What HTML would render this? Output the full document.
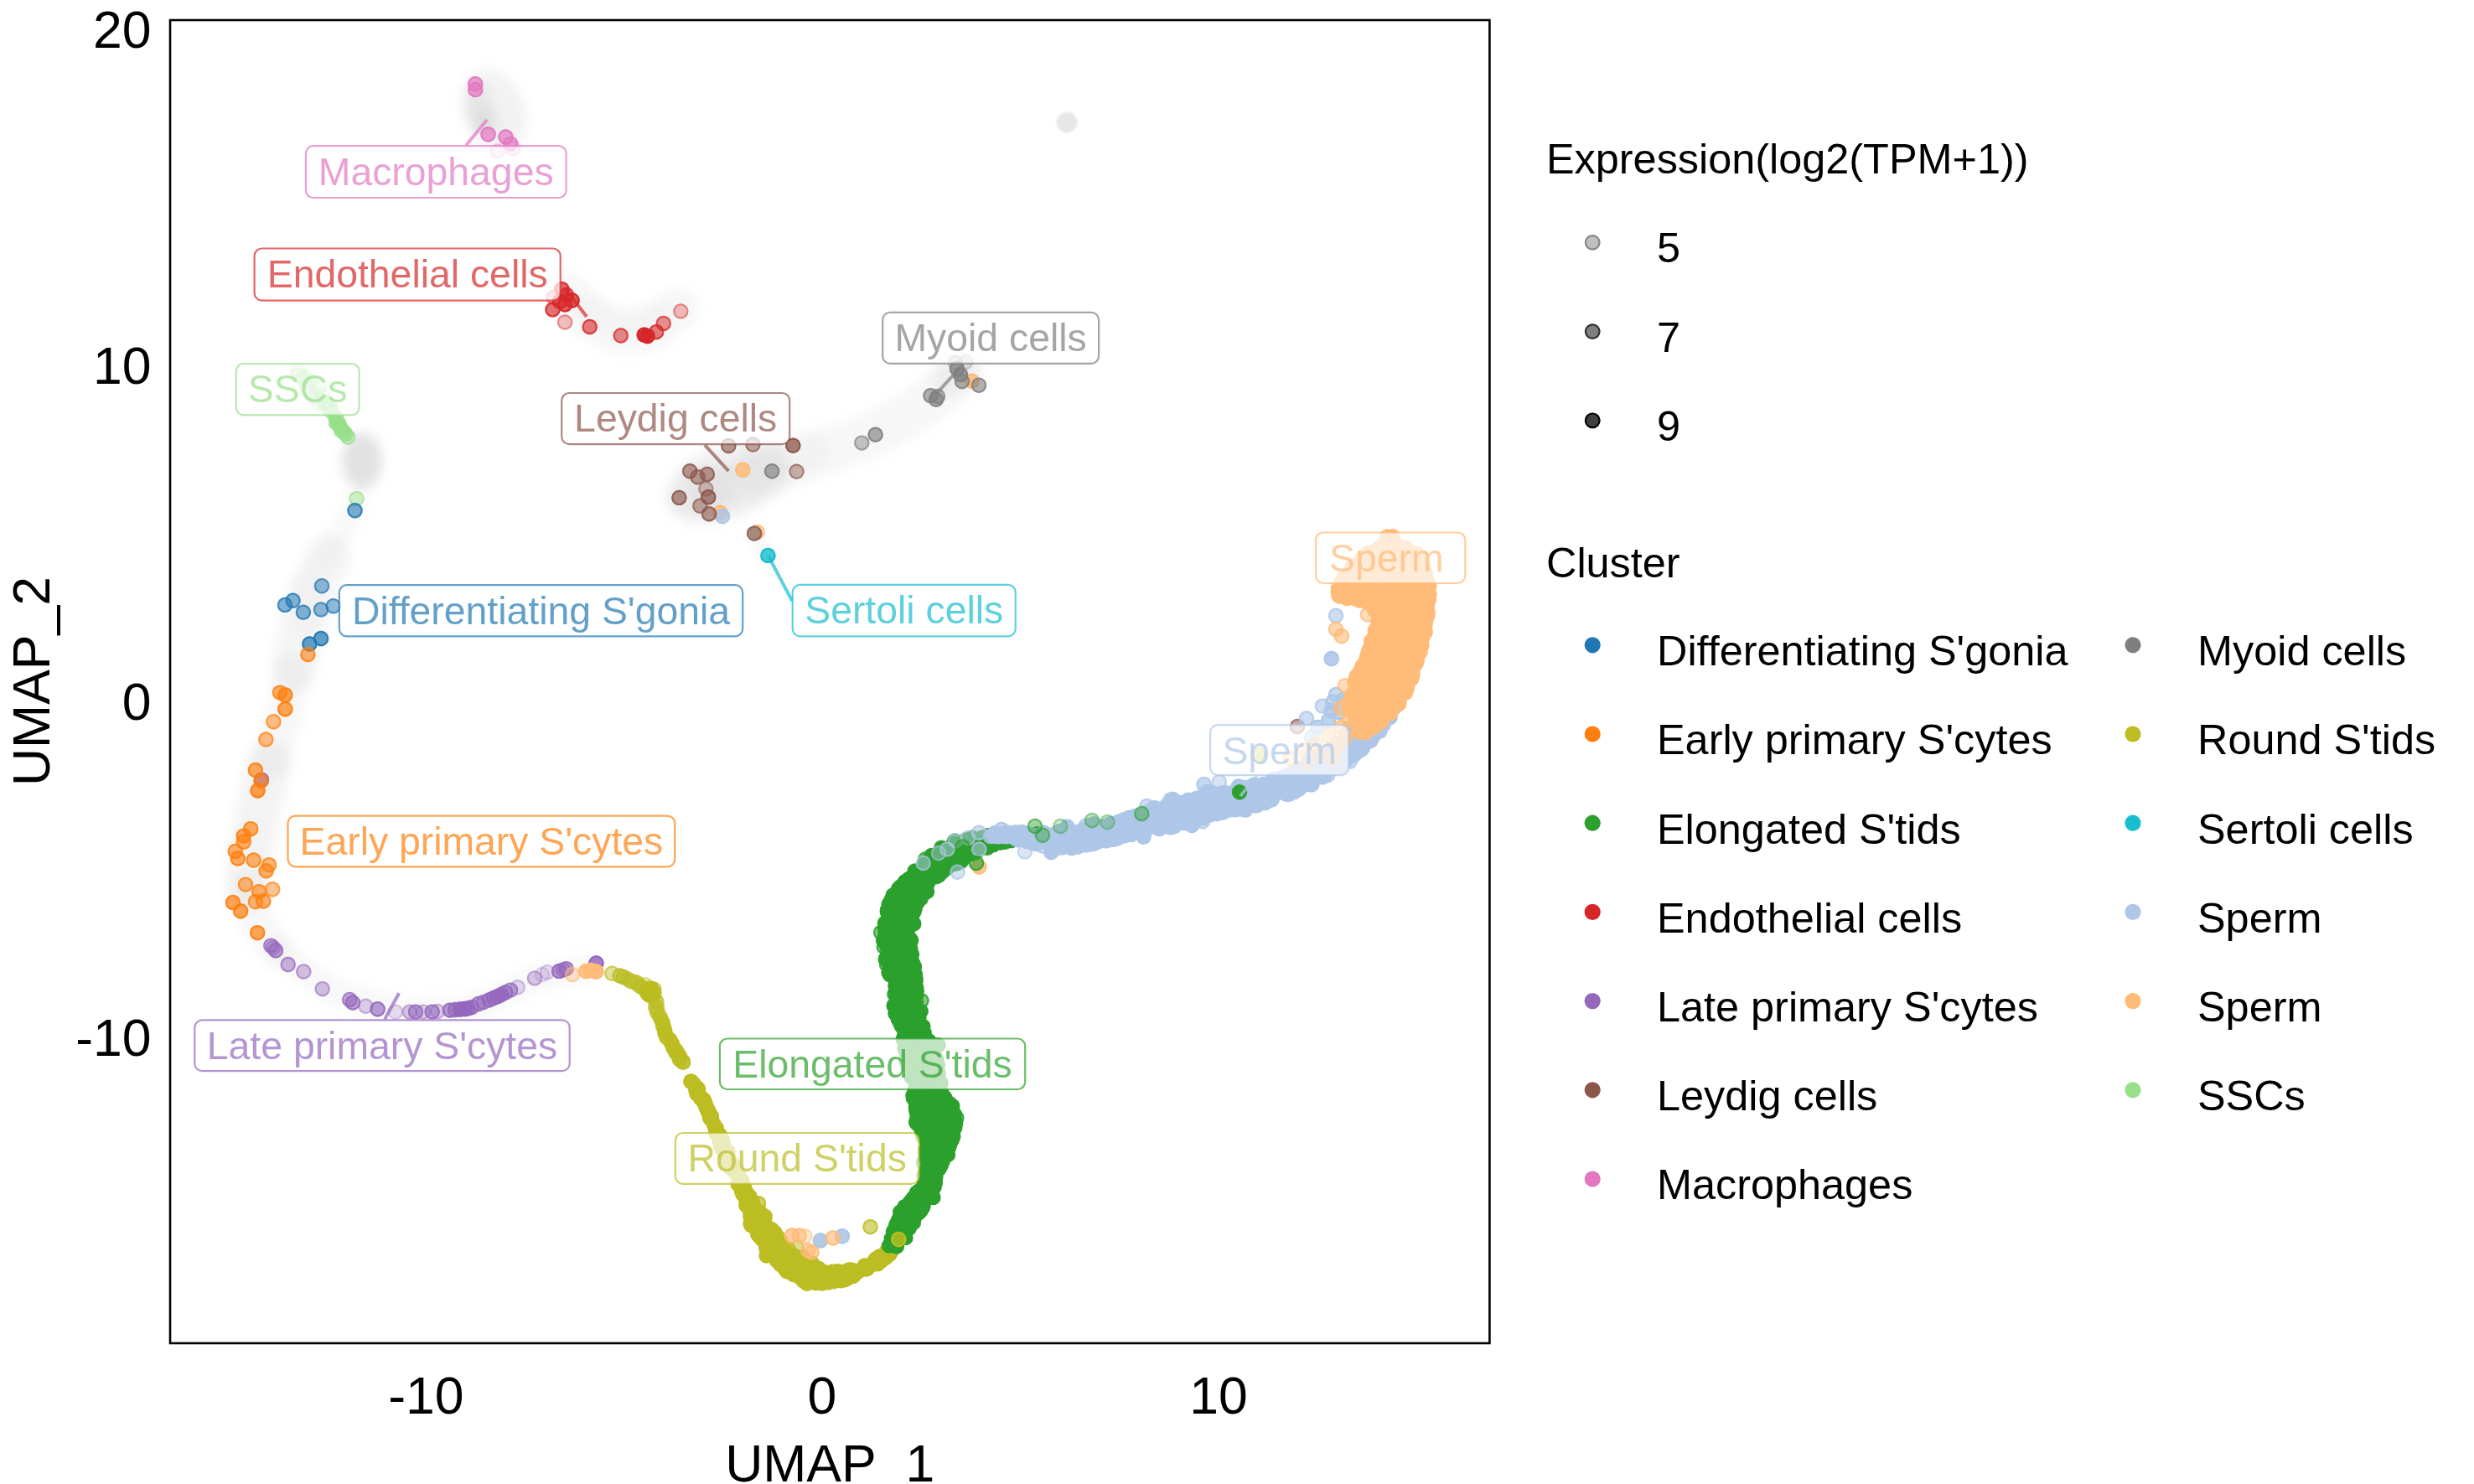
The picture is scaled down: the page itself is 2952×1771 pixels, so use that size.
<!DOCTYPE html>
<html><head><meta charset="utf-8"><title>UMAP cluster plot</title>
<style>
html,body{margin:0;padding:0;background:#fff;}
body{width:2952px;height:1771px;overflow:hidden;}
svg{display:block;font-family:"Liberation Sans",sans-serif;}
.ax{font-size:62.5px;fill:#000;}
.lg{font-size:50.4px;fill:#000;}
.lb{font-size:46.35px;}
</style></head><body>
<svg width="2952" height="1771" viewBox="0 0 2952 1771">
<defs>
<filter id="b1" filterUnits="userSpaceOnUse" x="0" y="0" width="2952" height="1771"><feGaussianBlur stdDeviation="7"/></filter>
<filter id="b2" filterUnits="userSpaceOnUse" x="0" y="0" width="2952" height="1771"><feGaussianBlur stdDeviation="5"/></filter>
<filter id="b3" filterUnits="userSpaceOnUse" x="1200" y="80" width="150" height="130"><feGaussianBlur stdDeviation="1.3"/></filter>
</defs>
<rect width="2952" height="1771" fill="#fff"/>

<g filter="url(#b1)" fill="none" stroke="#000" stroke-linecap="round" stroke-linejoin="round">
<ellipse cx="590" cy="131" rx="36" ry="50" fill="#000" stroke="none" fill-opacity="0.05" transform="rotate(-26 590 131)"/>
<ellipse cx="572" cy="128" rx="16" ry="32" fill="#000" stroke="none" fill-opacity="0.05" transform="rotate(-8 572 128)"/>
<ellipse cx="580" cy="148" rx="18" ry="20" fill="#000" stroke="none" fill-opacity="0.035" transform="rotate(0 580 148)"/>
<path d="M676,348 L708,382 L743,400 L778,394 L810,368" stroke-opacity="0.032" stroke-width="50"/>
<path d="M700,370 L745,385 L785,375" stroke-opacity="0.02" stroke-width="36"/>
<ellipse cx="432" cy="550" rx="24" ry="34" fill="#000" stroke="none" fill-opacity="0.115" transform="rotate(0 432 550)"/>
<path d="M424,600 L405,640 L385,672" stroke-opacity="0.022" stroke-width="30"/>
<path d="M392,665 L374,700 L362,742 L350,800" stroke-opacity="0.038" stroke-width="54"/>
<path d="M370,700 L365,740" stroke-opacity="0.019" stroke-width="40"/>
<path d="M350,800 L338,860 L322,910" stroke-opacity="0.032" stroke-width="42"/>
<path d="M322,910 L310,960 L300,1010 L296,1060" stroke-opacity="0.046" stroke-width="52"/>
<path d="M296,1060 L306,1100 L332,1135" stroke-opacity="0.03" stroke-width="40"/>
<path d="M332,1135 L400,1185 L480,1207 L560,1204 L640,1168 L700,1156" stroke-opacity="0.028" stroke-width="32"/>
<ellipse cx="868" cy="575" rx="78" ry="44" fill="#000" stroke="none" fill-opacity="0.054" transform="rotate(-22 868 575)"/>
<ellipse cx="840" cy="585" rx="40" ry="30" fill="#000" stroke="none" fill-opacity="0.03" transform="rotate(-22 840 585)"/>
<path d="M850,585 L930,560 L990,537 L1046,517 L1103,483 L1146,445" stroke-opacity="0.031" stroke-width="54"/>
<path d="M900,560 L965,538" stroke-opacity="0.022" stroke-width="50"/>
<ellipse cx="1140" cy="448" rx="30" ry="22" fill="#000" stroke="none" fill-opacity="0.042" transform="rotate(-40 1140 448)"/>
</g>
<g filter="url(#b2)" fill="none" stroke="#000" stroke-linecap="round" stroke-linejoin="round">
<path d="M900,640 L922,672" stroke-opacity="0.025" stroke-width="22"/>
</g>
<circle cx="1273" cy="146" r="12.5" fill="#000" fill-opacity="0.095" filter="url(#b3)"/>
<g fill="#ffbb78" fill-opacity="0.7">
<circle cx="903.5" cy="635.0" r="9.2"/>
</g>
<g fill="none" stroke="#ffbb78" stroke-opacity="0.84" stroke-width="2.2">
<circle cx="903.5" cy="635.0" r="8.1"/>
</g>
<g fill="#ffbb78" fill-opacity="0.85">
<circle cx="886.3" cy="560.8" r="9.2"/>
</g>
<g fill="none" stroke="#ffbb78" stroke-opacity="1.00" stroke-width="2.2">
<circle cx="886.3" cy="560.8" r="8.1"/>
</g>
<g fill="#ffbb78" fill-opacity="0.9">
<circle cx="859.4" cy="611.7" r="9.2"/><circle cx="1159.5" cy="454.8" r="9.2"/>
</g>
<g fill="none" stroke="#ffbb78" stroke-opacity="1.00" stroke-width="2.2">
<circle cx="859.4" cy="611.7" r="8.1"/><circle cx="1159.5" cy="454.8" r="8.1"/>
</g>
<g fill="#aec7e8" fill-opacity="0.8">
<circle cx="862.0" cy="616.0" r="9.2"/>
</g>
<g fill="none" stroke="#aec7e8" stroke-opacity="0.96" stroke-width="2.2">
<circle cx="862.0" cy="616.0" r="8.1"/>
</g>
<g fill="#98df8a" fill-opacity="0.2">
<circle cx="355.8" cy="448.2" r="9.2"/><circle cx="364.1" cy="448.4" r="9.2"/><circle cx="361.0" cy="453.4" r="9.2"/><circle cx="372.5" cy="455.5" r="9.2"/>
</g>
<g fill="none" stroke="#98df8a" stroke-opacity="0.24" stroke-width="2.2">
<circle cx="355.8" cy="448.2" r="8.1"/><circle cx="364.1" cy="448.4" r="8.1"/><circle cx="361.0" cy="453.4" r="8.1"/><circle cx="372.5" cy="455.5" r="8.1"/>
</g>
<g fill="#98df8a" fill-opacity="0.25">
<circle cx="355.4" cy="442.3" r="9.2"/><circle cx="361.2" cy="450.6" r="9.2"/><circle cx="368.8" cy="455.4" r="9.2"/><circle cx="365.8" cy="461.2" r="9.2"/><circle cx="380.2" cy="462.8" r="9.2"/><circle cx="374.3" cy="474.3" r="9.2"/><circle cx="385.3" cy="472.5" r="9.2"/><circle cx="379.4" cy="481.8" r="9.2"/><circle cx="389.7" cy="480.6" r="9.2"/>
</g>
<g fill="none" stroke="#98df8a" stroke-opacity="0.30" stroke-width="2.2">
<circle cx="355.4" cy="442.3" r="8.1"/><circle cx="361.2" cy="450.6" r="8.1"/><circle cx="368.8" cy="455.4" r="8.1"/><circle cx="365.8" cy="461.2" r="8.1"/><circle cx="380.2" cy="462.8" r="8.1"/><circle cx="374.3" cy="474.3" r="8.1"/><circle cx="385.3" cy="472.5" r="8.1"/><circle cx="379.4" cy="481.8" r="8.1"/><circle cx="389.7" cy="480.6" r="8.1"/>
</g>
<g fill="#98df8a" fill-opacity="0.3">
<circle cx="371.1" cy="468.0" r="9.2"/><circle cx="378.6" cy="472.4" r="9.2"/><circle cx="389.0" cy="480.8" r="9.2"/><circle cx="393.0" cy="487.9" r="9.2"/><circle cx="388.3" cy="485.6" r="9.2"/><circle cx="393.8" cy="484.3" r="9.2"/>
</g>
<g fill="none" stroke="#98df8a" stroke-opacity="0.36" stroke-width="2.2">
<circle cx="371.1" cy="468.0" r="8.1"/><circle cx="378.6" cy="472.4" r="8.1"/><circle cx="389.0" cy="480.8" r="8.1"/><circle cx="393.0" cy="487.9" r="8.1"/><circle cx="388.3" cy="485.6" r="8.1"/><circle cx="393.8" cy="484.3" r="8.1"/>
</g>
<g fill="#98df8a" fill-opacity="0.35">
<circle cx="395.8" cy="491.9" r="9.2"/>
</g>
<g fill="none" stroke="#98df8a" stroke-opacity="0.42" stroke-width="2.2">
<circle cx="395.8" cy="491.9" r="8.1"/>
</g>
<g fill="#98df8a" fill-opacity="0.45">
<circle cx="425.5" cy="595.1" r="9.2"/>
</g>
<g fill="none" stroke="#98df8a" stroke-opacity="0.54" stroke-width="2.2">
<circle cx="425.5" cy="595.1" r="8.1"/>
</g>
<g fill="#98df8a" fill-opacity="0.5">
<circle cx="407.1" cy="513.9" r="9.2"/><circle cx="401.0" cy="505.0" r="9.2"/><circle cx="415.2" cy="521.8" r="9.2"/>
</g>
<g fill="none" stroke="#98df8a" stroke-opacity="0.60" stroke-width="2.2">
<circle cx="407.1" cy="513.9" r="8.1"/><circle cx="401.0" cy="505.0" r="8.1"/><circle cx="415.2" cy="521.8" r="8.1"/>
</g>
<g fill="#98df8a" fill-opacity="0.55">
<circle cx="400.8" cy="498.6" r="9.2"/>
</g>
<g fill="none" stroke="#98df8a" stroke-opacity="0.66" stroke-width="2.2">
<circle cx="400.8" cy="498.6" r="8.1"/>
</g>
<g fill="#98df8a" fill-opacity="0.6">
<circle cx="401.8" cy="501.8" r="9.2"/><circle cx="404.0" cy="505.3" r="9.2"/><circle cx="412.1" cy="517.6" r="9.2"/>
</g>
<g fill="none" stroke="#98df8a" stroke-opacity="0.72" stroke-width="2.2">
<circle cx="401.8" cy="501.8" r="8.1"/><circle cx="404.0" cy="505.3" r="8.1"/><circle cx="412.1" cy="517.6" r="8.1"/>
</g>
<g fill="#98df8a" fill-opacity="0.65">
<circle cx="406.1" cy="509.5" r="9.2"/><circle cx="409.5" cy="514.4" r="9.2"/>
</g>
<g fill="none" stroke="#98df8a" stroke-opacity="0.78" stroke-width="2.2">
<circle cx="406.1" cy="509.5" r="8.1"/><circle cx="409.5" cy="514.4" r="8.1"/>
</g>
<g fill="#1f77b4" fill-opacity="0.5">
<circle cx="384.0" cy="699.3" r="9.2"/><circle cx="383.0" cy="727.4" r="9.2"/><circle cx="397.7" cy="723.3" r="9.2"/>
</g>
<g fill="none" stroke="#1f77b4" stroke-opacity="0.60" stroke-width="2.2">
<circle cx="384.0" cy="699.3" r="8.1"/><circle cx="383.0" cy="727.4" r="8.1"/><circle cx="397.7" cy="723.3" r="8.1"/>
</g>
<g fill="#1f77b4" fill-opacity="0.55">
<circle cx="340.0" cy="721.9" r="9.2"/><circle cx="349.6" cy="716.8" r="9.2"/><circle cx="361.9" cy="730.7" r="9.2"/>
</g>
<g fill="none" stroke="#1f77b4" stroke-opacity="0.66" stroke-width="2.2">
<circle cx="340.0" cy="721.9" r="8.1"/><circle cx="349.6" cy="716.8" r="8.1"/><circle cx="361.9" cy="730.7" r="8.1"/>
</g>
<g fill="#1f77b4" fill-opacity="0.6">
<circle cx="423.5" cy="609.2" r="9.2"/>
</g>
<g fill="none" stroke="#1f77b4" stroke-opacity="0.72" stroke-width="2.2">
<circle cx="423.5" cy="609.2" r="8.1"/>
</g>
<g fill="#1f77b4" fill-opacity="0.7">
<circle cx="383.0" cy="762.0" r="9.2"/><circle cx="369.4" cy="768.5" r="9.2"/>
</g>
<g fill="none" stroke="#1f77b4" stroke-opacity="0.84" stroke-width="2.2">
<circle cx="383.0" cy="762.0" r="8.1"/><circle cx="369.4" cy="768.5" r="8.1"/>
</g>
<g fill="#9467bd" fill-opacity="0.15">
<circle cx="647.0" cy="1163.0" r="9.2"/>
</g>
<g fill="none" stroke="#9467bd" stroke-opacity="0.18" stroke-width="2.2">
<circle cx="647.0" cy="1163.0" r="8.1"/>
</g>
<g fill="#9467bd" fill-opacity="0.2">
<circle cx="471.8" cy="1207.6" r="9.2"/><circle cx="653.0" cy="1160.3" r="9.2"/>
</g>
<g fill="none" stroke="#9467bd" stroke-opacity="0.24" stroke-width="2.2">
<circle cx="471.8" cy="1207.6" r="8.1"/><circle cx="653.0" cy="1160.3" r="8.1"/>
</g>
<g fill="#9467bd" fill-opacity="0.25">
<circle cx="617.6" cy="1178.2" r="9.2"/>
</g>
<g fill="none" stroke="#9467bd" stroke-opacity="0.30" stroke-width="2.2">
<circle cx="617.6" cy="1178.2" r="8.1"/>
</g>
<g fill="#9467bd" fill-opacity="0.3">
<circle cx="436.5" cy="1200.8" r="9.2"/><circle cx="505.0" cy="1207.6" r="9.2"/><circle cx="522.0" cy="1207.0" r="9.2"/>
</g>
<g fill="none" stroke="#9467bd" stroke-opacity="0.36" stroke-width="2.2">
<circle cx="436.5" cy="1200.8" r="8.1"/><circle cx="505.0" cy="1207.6" r="8.1"/><circle cx="522.0" cy="1207.0" r="8.1"/>
</g>
<g fill="#9467bd" fill-opacity="0.35">
<circle cx="488.8" cy="1207.6" r="9.2"/><circle cx="638.0" cy="1167.4" r="9.2"/>
</g>
<g fill="none" stroke="#9467bd" stroke-opacity="0.42" stroke-width="2.2">
<circle cx="488.8" cy="1207.6" r="8.1"/><circle cx="638.0" cy="1167.4" r="8.1"/>
</g>
<g fill="#9467bd" fill-opacity="0.4">
<circle cx="326.0" cy="1131.0" r="9.2"/><circle cx="362.3" cy="1159.5" r="9.2"/><circle cx="384.7" cy="1180.1" r="9.2"/>
</g>
<g fill="none" stroke="#9467bd" stroke-opacity="0.48" stroke-width="2.2">
<circle cx="326.0" cy="1131.0" r="8.1"/><circle cx="362.3" cy="1159.5" r="8.1"/><circle cx="384.7" cy="1180.1" r="8.1"/>
</g>
<g fill="#9467bd" fill-opacity="0.5">
<circle cx="343.7" cy="1151.0" r="9.2"/><circle cx="577.0" cy="1196.0" r="9.2"/><circle cx="672.0" cy="1157.5" r="9.2"/>
</g>
<g fill="none" stroke="#9467bd" stroke-opacity="0.60" stroke-width="2.2">
<circle cx="343.7" cy="1151.0" r="8.1"/><circle cx="577.0" cy="1196.0" r="8.1"/><circle cx="672.0" cy="1157.5" r="8.1"/>
</g>
<g fill="#9467bd" fill-opacity="0.55">
<circle cx="323.3" cy="1128.6" r="9.2"/><circle cx="417.2" cy="1192.9" r="9.2"/><circle cx="609.1" cy="1181.6" r="9.2"/>
</g>
<g fill="none" stroke="#9467bd" stroke-opacity="0.66" stroke-width="2.2">
<circle cx="323.3" cy="1128.6" r="8.1"/><circle cx="417.2" cy="1192.9" r="8.1"/><circle cx="609.1" cy="1181.6" r="8.1"/>
</g>
<g fill="#9467bd" fill-opacity="0.6">
<circle cx="328.9" cy="1134.3" r="9.2"/><circle cx="420.9" cy="1196.5" r="9.2"/><circle cx="495.9" cy="1207.6" r="9.2"/><circle cx="515.7" cy="1207.6" r="9.2"/><circle cx="543.0" cy="1205.0" r="9.2"/><circle cx="563.0" cy="1202.0" r="9.2"/><circle cx="570.9" cy="1198.0" r="9.2"/><circle cx="589.0" cy="1191.0" r="9.2"/><circle cx="603.0" cy="1184.5" r="9.2"/><circle cx="675.6" cy="1156.1" r="9.2"/>
</g>
<g fill="none" stroke="#9467bd" stroke-opacity="0.72" stroke-width="2.2">
<circle cx="328.9" cy="1134.3" r="8.1"/><circle cx="420.9" cy="1196.5" r="8.1"/><circle cx="495.9" cy="1207.6" r="8.1"/><circle cx="515.7" cy="1207.6" r="8.1"/><circle cx="543.0" cy="1205.0" r="8.1"/><circle cx="563.0" cy="1202.0" r="8.1"/><circle cx="570.9" cy="1198.0" r="8.1"/><circle cx="589.0" cy="1191.0" r="8.1"/><circle cx="603.0" cy="1184.5" r="8.1"/><circle cx="675.6" cy="1156.1" r="8.1"/>
</g>
<g fill="#9467bd" fill-opacity="0.65">
<circle cx="450.6" cy="1204.2" r="9.2"/><circle cx="536.9" cy="1205.6" r="9.2"/><circle cx="583.6" cy="1193.4" r="9.2"/><circle cx="667.1" cy="1158.9" r="9.2"/>
</g>
<g fill="none" stroke="#9467bd" stroke-opacity="0.78" stroke-width="2.2">
<circle cx="450.6" cy="1204.2" r="8.1"/><circle cx="536.9" cy="1205.6" r="8.1"/><circle cx="583.6" cy="1193.4" r="8.1"/><circle cx="667.1" cy="1158.9" r="8.1"/>
</g>
<g fill="#9467bd" fill-opacity="0.7">
<circle cx="312.0" cy="930.6" r="9.2"/><circle cx="593.5" cy="1189.2" r="9.2"/><circle cx="598.0" cy="1187.0" r="9.2"/>
</g>
<g fill="none" stroke="#9467bd" stroke-opacity="0.84" stroke-width="2.2">
<circle cx="312.0" cy="930.6" r="8.1"/><circle cx="593.5" cy="1189.2" r="8.1"/><circle cx="598.0" cy="1187.0" r="8.1"/>
</g>
<g fill="#9467bd" fill-opacity="0.8">
<circle cx="549.0" cy="1204.5" r="9.2"/><circle cx="554.0" cy="1204.0" r="9.2"/><circle cx="558.0" cy="1203.5" r="9.2"/>
</g>
<g fill="none" stroke="#9467bd" stroke-opacity="0.96" stroke-width="2.2">
<circle cx="549.0" cy="1204.5" r="8.1"/><circle cx="554.0" cy="1204.0" r="8.1"/><circle cx="558.0" cy="1203.5" r="8.1"/>
</g>
<g fill="#9467bd" fill-opacity="0.85">
<circle cx="711.4" cy="1149.5" r="9.2"/>
</g>
<g fill="none" stroke="#9467bd" stroke-opacity="1.00" stroke-width="2.2">
<circle cx="711.4" cy="1149.5" r="8.1"/>
</g>
<g fill="#ff7f0e" fill-opacity="0.45">
<circle cx="325.3" cy="1061.3" r="9.2"/>
</g>
<g fill="none" stroke="#ff7f0e" stroke-opacity="0.54" stroke-width="2.2">
<circle cx="325.3" cy="1061.3" r="8.1"/>
</g>
<g fill="#ff7f0e" fill-opacity="0.5">
<circle cx="326.4" cy="861.2" r="9.2"/><circle cx="317.3" cy="882.5" r="9.2"/>
</g>
<g fill="none" stroke="#ff7f0e" stroke-opacity="0.60" stroke-width="2.2">
<circle cx="326.4" cy="861.2" r="8.1"/><circle cx="317.3" cy="882.5" r="8.1"/>
</g>
<g fill="#ff7f0e" fill-opacity="0.55">
<circle cx="311.5" cy="932.0" r="9.2"/><circle cx="321.0" cy="1032.1" r="9.2"/><circle cx="293.0" cy="1055.6" r="9.2"/><circle cx="304.9" cy="1076.0" r="9.2"/>
</g>
<g fill="none" stroke="#ff7f0e" stroke-opacity="0.66" stroke-width="2.2">
<circle cx="311.5" cy="932.0" r="8.1"/><circle cx="321.0" cy="1032.1" r="8.1"/><circle cx="293.0" cy="1055.6" r="8.1"/><circle cx="304.9" cy="1076.0" r="8.1"/>
</g>
<g fill="#ff7f0e" fill-opacity="0.6">
<circle cx="367.4" cy="781.1" r="9.2"/><circle cx="334.0" cy="826.6" r="9.2"/><circle cx="290.7" cy="1004.7" r="9.2"/><circle cx="280.8" cy="1016.0" r="9.2"/><circle cx="302.6" cy="1026.5" r="9.2"/><circle cx="317.6" cy="1039.2" r="9.2"/><circle cx="309.1" cy="1064.1" r="9.2"/><circle cx="314.2" cy="1075.4" r="9.2"/>
</g>
<g fill="none" stroke="#ff7f0e" stroke-opacity="0.72" stroke-width="2.2">
<circle cx="367.4" cy="781.1" r="8.1"/><circle cx="334.0" cy="826.6" r="8.1"/><circle cx="290.7" cy="1004.7" r="8.1"/><circle cx="280.8" cy="1016.0" r="8.1"/><circle cx="302.6" cy="1026.5" r="8.1"/><circle cx="317.6" cy="1039.2" r="8.1"/><circle cx="309.1" cy="1064.1" r="8.1"/><circle cx="314.2" cy="1075.4" r="8.1"/>
</g>
<g fill="#ff7f0e" fill-opacity="0.65">
<circle cx="304.9" cy="918.9" r="9.2"/><circle cx="299.2" cy="989.1" r="9.2"/><circle cx="290.7" cy="997.6" r="9.2"/><circle cx="283.7" cy="1024.5" r="9.2"/>
</g>
<g fill="none" stroke="#ff7f0e" stroke-opacity="0.78" stroke-width="2.2">
<circle cx="304.9" cy="918.9" r="8.1"/><circle cx="299.2" cy="989.1" r="8.1"/><circle cx="290.7" cy="997.6" r="8.1"/><circle cx="283.7" cy="1024.5" r="8.1"/>
</g>
<g fill="#ff7f0e" fill-opacity="0.7">
<circle cx="340.3" cy="829.5" r="9.2"/><circle cx="340.3" cy="846.2" r="9.2"/><circle cx="278.0" cy="1076.9" r="9.2"/><circle cx="287.1" cy="1087.3" r="9.2"/><circle cx="307.2" cy="1113.1" r="9.2"/>
</g>
<g fill="none" stroke="#ff7f0e" stroke-opacity="0.84" stroke-width="2.2">
<circle cx="340.3" cy="829.5" r="8.1"/><circle cx="340.3" cy="846.2" r="8.1"/><circle cx="278.0" cy="1076.9" r="8.1"/><circle cx="287.1" cy="1087.3" r="8.1"/><circle cx="307.2" cy="1113.1" r="8.1"/>
</g>
<g fill="#ff7f0e" fill-opacity="0.75">
<circle cx="307.5" cy="943.5" r="9.2"/>
</g>
<g fill="none" stroke="#ff7f0e" stroke-opacity="0.90" stroke-width="2.2">
<circle cx="307.5" cy="943.5" r="8.1"/>
</g>
<g fill="#d62728" fill-opacity="0.3">
<circle cx="660.8" cy="354.9" r="9.2"/><circle cx="674.1" cy="384.5" r="9.2"/><circle cx="812.3" cy="371.4" r="9.2"/>
</g>
<g fill="none" stroke="#d62728" stroke-opacity="0.36" stroke-width="2.2">
<circle cx="660.8" cy="354.9" r="8.1"/><circle cx="674.1" cy="384.5" r="8.1"/><circle cx="812.3" cy="371.4" r="8.1"/>
</g>
<g fill="#d62728" fill-opacity="0.5">
<circle cx="791.7" cy="385.9" r="9.2"/>
</g>
<g fill="none" stroke="#d62728" stroke-opacity="0.60" stroke-width="2.2">
<circle cx="791.7" cy="385.9" r="8.1"/>
</g>
<g fill="#d62728" fill-opacity="0.55">
<circle cx="740.8" cy="400.5" r="9.2"/>
</g>
<g fill="none" stroke="#d62728" stroke-opacity="0.66" stroke-width="2.2">
<circle cx="740.8" cy="400.5" r="8.1"/>
</g>
<g fill="#d62728" fill-opacity="0.6">
<circle cx="676.0" cy="352.0" r="9.2"/><circle cx="703.7" cy="390.0" r="9.2"/><circle cx="783.2" cy="396.1" r="9.2"/>
</g>
<g fill="none" stroke="#d62728" stroke-opacity="0.72" stroke-width="2.2">
<circle cx="676.0" cy="352.0" r="8.1"/><circle cx="703.7" cy="390.0" r="8.1"/><circle cx="783.2" cy="396.1" r="8.1"/>
</g>
<g fill="#d62728" fill-opacity="0.65">
<circle cx="659.5" cy="369.4" r="9.2"/>
</g>
<g fill="none" stroke="#d62728" stroke-opacity="0.78" stroke-width="2.2">
<circle cx="659.5" cy="369.4" r="8.1"/>
</g>
<g fill="#d62728" fill-opacity="0.7">
<circle cx="670.5" cy="345.2" r="9.2"/><circle cx="668.0" cy="359.7" r="9.2"/>
</g>
<g fill="none" stroke="#d62728" stroke-opacity="0.84" stroke-width="2.2">
<circle cx="670.5" cy="345.2" r="8.1"/><circle cx="668.0" cy="359.7" r="8.1"/>
</g>
<g fill="#d62728" fill-opacity="0.75">
<circle cx="674.1" cy="363.4" r="9.2"/><circle cx="682.6" cy="358.5" r="9.2"/>
</g>
<g fill="none" stroke="#d62728" stroke-opacity="0.90" stroke-width="2.2">
<circle cx="674.1" cy="363.4" r="8.1"/><circle cx="682.6" cy="358.5" r="8.1"/>
</g>
<g fill="#d62728" fill-opacity="0.9">
<circle cx="768.7" cy="399.7" r="9.2"/><circle cx="772.5" cy="401.0" r="9.2"/>
</g>
<g fill="none" stroke="#d62728" stroke-opacity="1.00" stroke-width="2.2">
<circle cx="768.7" cy="399.7" r="8.1"/><circle cx="772.5" cy="401.0" r="8.1"/>
</g>
<g fill="#e377c2" fill-opacity="0.25">
<circle cx="593.8" cy="180.5" r="9.2"/><circle cx="612.0" cy="177.0" r="9.2"/>
</g>
<g fill="none" stroke="#e377c2" stroke-opacity="0.30" stroke-width="2.2">
<circle cx="593.8" cy="180.5" r="8.1"/><circle cx="612.0" cy="177.0" r="8.1"/>
</g>
<g fill="#e377c2" fill-opacity="0.65">
<circle cx="609.2" cy="171.6" r="9.2"/>
</g>
<g fill="none" stroke="#e377c2" stroke-opacity="0.78" stroke-width="2.2">
<circle cx="609.2" cy="171.6" r="8.1"/>
</g>
<g fill="#e377c2" fill-opacity="0.7">
<circle cx="567.2" cy="100.2" r="9.2"/><circle cx="567.2" cy="106.9" r="9.2"/><circle cx="582.5" cy="160.2" r="9.2"/><circle cx="603.5" cy="163.5" r="9.2"/>
</g>
<g fill="none" stroke="#e377c2" stroke-opacity="0.84" stroke-width="2.2">
<circle cx="567.2" cy="100.2" r="8.1"/><circle cx="567.2" cy="106.9" r="8.1"/><circle cx="582.5" cy="160.2" r="8.1"/><circle cx="603.5" cy="163.5" r="8.1"/>
</g>
<g fill="#7f7f7f" fill-opacity="0.2">
<circle cx="1152.0" cy="432.0" r="9.2"/>
</g>
<g fill="none" stroke="#7f7f7f" stroke-opacity="0.24" stroke-width="2.2">
<circle cx="1152.0" cy="432.0" r="8.1"/>
</g>
<g fill="#7f7f7f" fill-opacity="0.25">
<circle cx="1140.0" cy="433.0" r="9.2"/>
</g>
<g fill="none" stroke="#7f7f7f" stroke-opacity="0.30" stroke-width="2.2">
<circle cx="1140.0" cy="433.0" r="8.1"/>
</g>
<g fill="#7f7f7f" fill-opacity="0.45">
<circle cx="1028.3" cy="528.6" r="9.2"/>
</g>
<g fill="none" stroke="#7f7f7f" stroke-opacity="0.54" stroke-width="2.2">
<circle cx="1028.3" cy="528.6" r="8.1"/>
</g>
<g fill="#7f7f7f" fill-opacity="0.5">
<circle cx="1119.0" cy="473.0" r="9.2"/>
</g>
<g fill="none" stroke="#7f7f7f" stroke-opacity="0.60" stroke-width="2.2">
<circle cx="1119.0" cy="473.0" r="8.1"/>
</g>
<g fill="#7f7f7f" fill-opacity="0.55">
<circle cx="900.1" cy="636.6" r="9.2"/>
</g>
<g fill="none" stroke="#7f7f7f" stroke-opacity="0.66" stroke-width="2.2">
<circle cx="900.1" cy="636.6" r="8.1"/>
</g>
<g fill="#7f7f7f" fill-opacity="0.6">
<circle cx="1110.5" cy="472.2" r="9.2"/><circle cx="1148.0" cy="455.0" r="9.2"/><circle cx="1168.0" cy="459.8" r="9.2"/>
</g>
<g fill="none" stroke="#7f7f7f" stroke-opacity="0.72" stroke-width="2.2">
<circle cx="1110.5" cy="472.2" r="8.1"/><circle cx="1148.0" cy="455.0" r="8.1"/><circle cx="1168.0" cy="459.8" r="8.1"/>
</g>
<g fill="#7f7f7f" fill-opacity="0.65">
<circle cx="921.1" cy="562.2" r="9.2"/><circle cx="1044.6" cy="518.8" r="9.2"/><circle cx="1117.0" cy="476.8" r="9.2"/>
</g>
<g fill="none" stroke="#7f7f7f" stroke-opacity="0.78" stroke-width="2.2">
<circle cx="921.1" cy="562.2" r="8.1"/><circle cx="1044.6" cy="518.8" r="8.1"/><circle cx="1117.0" cy="476.8" r="8.1"/>
</g>
<g fill="#7f7f7f" fill-opacity="0.7">
<circle cx="1142.0" cy="440.0" r="9.2"/><circle cx="1146.0" cy="447.0" r="9.2"/>
</g>
<g fill="none" stroke="#7f7f7f" stroke-opacity="0.84" stroke-width="2.2">
<circle cx="1142.0" cy="440.0" r="8.1"/><circle cx="1146.0" cy="447.0" r="8.1"/>
</g>
<g fill="#8c564b" fill-opacity="0.35">
<circle cx="842.4" cy="583.4" r="9.2"/><circle cx="900.1" cy="636.6" r="9.2"/>
</g>
<g fill="none" stroke="#8c564b" stroke-opacity="0.42" stroke-width="2.2">
<circle cx="842.4" cy="583.4" r="8.1"/><circle cx="900.1" cy="636.6" r="8.1"/>
</g>
<g fill="#8c564b" fill-opacity="0.45">
<circle cx="950.5" cy="562.8" r="9.2"/>
</g>
<g fill="none" stroke="#8c564b" stroke-opacity="0.54" stroke-width="2.2">
<circle cx="950.5" cy="562.8" r="8.1"/>
</g>
<g fill="#8c564b" fill-opacity="0.5">
<circle cx="898.4" cy="530.5" r="9.2"/><circle cx="835.3" cy="603.8" r="9.2"/><circle cx="1548.0" cy="867.0" r="9.2"/>
</g>
<g fill="none" stroke="#8c564b" stroke-opacity="0.60" stroke-width="2.2">
<circle cx="898.4" cy="530.5" r="8.1"/><circle cx="835.3" cy="603.8" r="8.1"/><circle cx="1548.0" cy="867.0" r="8.1"/>
</g>
<g fill="#8c564b" fill-opacity="0.55">
<circle cx="832.5" cy="569.3" r="9.2"/>
</g>
<g fill="none" stroke="#8c564b" stroke-opacity="0.66" stroke-width="2.2">
<circle cx="832.5" cy="569.3" r="8.1"/>
</g>
<g fill="#8c564b" fill-opacity="0.6">
<circle cx="869.3" cy="532.0" r="9.2"/><circle cx="823.2" cy="562.2" r="9.2"/><circle cx="843.8" cy="565.9" r="9.2"/><circle cx="846.1" cy="613.2" r="9.2"/>
</g>
<g fill="none" stroke="#8c564b" stroke-opacity="0.72" stroke-width="2.2">
<circle cx="869.3" cy="532.0" r="8.1"/><circle cx="823.2" cy="562.2" r="8.1"/><circle cx="843.8" cy="565.9" r="8.1"/><circle cx="846.1" cy="613.2" r="8.1"/>
</g>
<g fill="#8c564b" fill-opacity="0.65">
<circle cx="810.4" cy="593.9" r="9.2"/>
</g>
<g fill="none" stroke="#8c564b" stroke-opacity="0.78" stroke-width="2.2">
<circle cx="810.4" cy="593.9" r="8.1"/>
</g>
<g fill="#8c564b" fill-opacity="0.7">
<circle cx="845.2" cy="593.3" r="9.2"/>
</g>
<g fill="none" stroke="#8c564b" stroke-opacity="0.84" stroke-width="2.2">
<circle cx="845.2" cy="593.3" r="8.1"/>
</g>
<g fill="#8c564b" fill-opacity="0.75">
<circle cx="946.3" cy="531.7" r="9.2"/>
</g>
<g fill="none" stroke="#8c564b" stroke-opacity="0.90" stroke-width="2.2">
<circle cx="946.3" cy="531.7" r="8.1"/>
</g>
<g fill="#17becf" fill-opacity="0.8">
<circle cx="916.4" cy="662.9" r="9.2"/>
</g>
<g fill="none" stroke="#17becf" stroke-opacity="0.96" stroke-width="2.2">
<circle cx="916.4" cy="662.9" r="8.1"/>
</g>
<g fill="#bcbd22" fill-opacity="0.3">
<circle cx="978.9" cy="1480.4" r="9.2"/><circle cx="751.4" cy="1170.5" r="9.2"/><circle cx="770.1" cy="1175.3" r="9.2"/><circle cx="778.2" cy="1183.3" r="9.2"/><circle cx="778.8" cy="1190.5" r="9.2"/><circle cx="781.8" cy="1193.8" r="9.2"/><circle cx="784.5" cy="1203.4" r="9.2"/>
</g>
<g fill="none" stroke="#bcbd22" stroke-opacity="0.36" stroke-width="2.2">
<circle cx="978.9" cy="1480.4" r="8.1"/><circle cx="751.4" cy="1170.5" r="8.1"/><circle cx="770.1" cy="1175.3" r="8.1"/><circle cx="778.2" cy="1183.3" r="8.1"/><circle cx="778.8" cy="1190.5" r="8.1"/><circle cx="781.8" cy="1193.8" r="8.1"/><circle cx="784.5" cy="1203.4" r="8.1"/>
</g>
<g fill="#bcbd22" fill-opacity="0.35">
<circle cx="749.1" cy="1168.1" r="9.2"/><circle cx="757.9" cy="1172.3" r="9.2"/><circle cx="762.1" cy="1175.9" r="9.2"/><circle cx="770.9" cy="1182.9" r="9.2"/><circle cx="778.5" cy="1188.1" r="9.2"/><circle cx="783.1" cy="1200.2" r="9.2"/><circle cx="785.6" cy="1210.1" r="9.2"/><circle cx="787.3" cy="1213.6" r="9.2"/>
</g>
<g fill="none" stroke="#bcbd22" stroke-opacity="0.42" stroke-width="2.2">
<circle cx="749.1" cy="1168.1" r="8.1"/><circle cx="757.9" cy="1172.3" r="8.1"/><circle cx="762.1" cy="1175.9" r="8.1"/><circle cx="770.9" cy="1182.9" r="8.1"/><circle cx="778.5" cy="1188.1" r="8.1"/><circle cx="783.1" cy="1200.2" r="8.1"/><circle cx="785.6" cy="1210.1" r="8.1"/><circle cx="787.3" cy="1213.6" r="8.1"/>
</g>
<g fill="#bcbd22" fill-opacity="0.4">
<circle cx="753.8" cy="1171.2" r="9.2"/><circle cx="759.8" cy="1172.5" r="9.2"/><circle cx="765.1" cy="1177.8" r="9.2"/><circle cx="766.8" cy="1178.4" r="9.2"/><circle cx="772.6" cy="1185.2" r="9.2"/><circle cx="783.7" cy="1195.8" r="9.2"/><circle cx="782.1" cy="1202.4" r="9.2"/><circle cx="783.8" cy="1207.9" r="9.2"/><circle cx="788.3" cy="1214.7" r="9.2"/><circle cx="789.6" cy="1218.4" r="9.2"/>
</g>
<g fill="none" stroke="#bcbd22" stroke-opacity="0.48" stroke-width="2.2">
<circle cx="753.8" cy="1171.2" r="8.1"/><circle cx="759.8" cy="1172.5" r="8.1"/><circle cx="765.1" cy="1177.8" r="8.1"/><circle cx="766.8" cy="1178.4" r="8.1"/><circle cx="772.6" cy="1185.2" r="8.1"/><circle cx="783.7" cy="1195.8" r="8.1"/><circle cx="782.1" cy="1202.4" r="8.1"/><circle cx="783.8" cy="1207.9" r="8.1"/><circle cx="788.3" cy="1214.7" r="8.1"/><circle cx="789.6" cy="1218.4" r="8.1"/>
</g>
<g fill="#bcbd22" fill-opacity="0.45">
<circle cx="730.3" cy="1161.8" r="9.2"/><circle cx="790.7" cy="1220.8" r="9.2"/><circle cx="792.9" cy="1228.9" r="9.2"/><circle cx="793.3" cy="1229.8" r="9.2"/><circle cx="794.6" cy="1235.8" r="9.2"/><circle cx="799.5" cy="1240.8" r="9.2"/>
</g>
<g fill="none" stroke="#bcbd22" stroke-opacity="0.54" stroke-width="2.2">
<circle cx="730.3" cy="1161.8" r="8.1"/><circle cx="790.7" cy="1220.8" r="8.1"/><circle cx="792.9" cy="1228.9" r="8.1"/><circle cx="793.3" cy="1229.8" r="8.1"/><circle cx="794.6" cy="1235.8" r="8.1"/><circle cx="799.5" cy="1240.8" r="8.1"/>
</g>
<g fill="#bcbd22" fill-opacity="0.5">
<circle cx="950.8" cy="1489.3" r="9.2"/><circle cx="791.5" cy="1223.7" r="9.2"/><circle cx="791.2" cy="1224.9" r="9.2"/><circle cx="801.4" cy="1245.3" r="9.2"/><circle cx="773.4" cy="1185.5" r="9.2"/><circle cx="773.6" cy="1186.7" r="9.2"/><circle cx="777.0" cy="1181.4" r="9.2"/><circle cx="772.8" cy="1185.7" r="9.2"/><circle cx="771.7" cy="1180.8" r="9.2"/><circle cx="776.6" cy="1187.0" r="9.2"/><circle cx="777.1" cy="1181.3" r="9.2"/><circle cx="780.2" cy="1180.5" r="9.2"/><circle cx="771.2" cy="1181.2" r="9.2"/><circle cx="775.5" cy="1179.1" r="9.2"/><circle cx="772.8" cy="1182.2" r="9.2"/><circle cx="776.7" cy="1179.8" r="9.2"/><circle cx="774.6" cy="1187.4" r="9.2"/><circle cx="780.8" cy="1185.1" r="9.2"/><circle cx="1501.0" cy="900.5" r="9.2"/>
</g>
<g fill="none" stroke="#bcbd22" stroke-opacity="0.60" stroke-width="2.2">
<circle cx="950.8" cy="1489.3" r="8.1"/><circle cx="791.5" cy="1223.7" r="8.1"/><circle cx="791.2" cy="1224.9" r="8.1"/><circle cx="801.4" cy="1245.3" r="8.1"/><circle cx="773.4" cy="1185.5" r="8.1"/><circle cx="773.6" cy="1186.7" r="8.1"/><circle cx="777.0" cy="1181.4" r="8.1"/><circle cx="772.8" cy="1185.7" r="8.1"/><circle cx="771.7" cy="1180.8" r="8.1"/><circle cx="776.6" cy="1187.0" r="8.1"/><circle cx="777.1" cy="1181.3" r="8.1"/><circle cx="780.2" cy="1180.5" r="8.1"/><circle cx="771.2" cy="1181.2" r="8.1"/><circle cx="775.5" cy="1179.1" r="8.1"/><circle cx="772.8" cy="1182.2" r="8.1"/><circle cx="776.7" cy="1179.8" r="8.1"/><circle cx="774.6" cy="1187.4" r="8.1"/><circle cx="780.8" cy="1185.1" r="8.1"/><circle cx="1501.0" cy="900.5" r="8.1"/>
</g>
<g fill="#bcbd22" fill-opacity="0.55">
<circle cx="793.2" cy="1232.4" r="9.2"/><circle cx="795.5" cy="1238.2" r="9.2"/><circle cx="803.2" cy="1250.5" r="9.2"/><circle cx="808.5" cy="1256.7" r="9.2"/><circle cx="810.8" cy="1260.3" r="9.2"/>
</g>
<g fill="none" stroke="#bcbd22" stroke-opacity="0.66" stroke-width="2.2">
<circle cx="793.2" cy="1232.4" r="8.1"/><circle cx="795.5" cy="1238.2" r="8.1"/><circle cx="803.2" cy="1250.5" r="8.1"/><circle cx="808.5" cy="1256.7" r="8.1"/><circle cx="810.8" cy="1260.3" r="8.1"/>
</g>
<g fill="#bcbd22" fill-opacity="0.6">
<circle cx="1038.5" cy="1464.1" r="9.2"/><circle cx="739.7" cy="1164.5" r="9.2"/><circle cx="799.9" cy="1242.4" r="9.2"/><circle cx="802.6" cy="1247.0" r="9.2"/><circle cx="806.3" cy="1256.0" r="9.2"/><circle cx="814.6" cy="1266.5" r="9.2"/>
</g>
<g fill="none" stroke="#bcbd22" stroke-opacity="0.72" stroke-width="2.2">
<circle cx="1038.5" cy="1464.1" r="8.1"/><circle cx="739.7" cy="1164.5" r="8.1"/><circle cx="799.9" cy="1242.4" r="8.1"/><circle cx="802.6" cy="1247.0" r="8.1"/><circle cx="806.3" cy="1256.0" r="8.1"/><circle cx="814.6" cy="1266.5" r="8.1"/>
</g>
<g fill="#bcbd22" fill-opacity="0.65">
<circle cx="744.0" cy="1166.0" r="9.2"/><circle cx="806.3" cy="1253.3" r="9.2"/><circle cx="810.3" cy="1261.7" r="9.2"/><circle cx="811.0" cy="1264.5" r="9.2"/><circle cx="815.1" cy="1267.7" r="9.2"/>
</g>
<g fill="none" stroke="#bcbd22" stroke-opacity="0.78" stroke-width="2.2">
<circle cx="744.0" cy="1166.0" r="8.1"/><circle cx="806.3" cy="1253.3" r="8.1"/><circle cx="810.3" cy="1261.7" r="8.1"/><circle cx="811.0" cy="1264.5" r="8.1"/><circle cx="815.1" cy="1267.7" r="8.1"/>
</g>
<g fill="#bcbd22" fill-opacity="0.7">
<circle cx="839.5" cy="1312.3" r="9.2"/><circle cx="840.0" cy="1314.8" r="9.2"/><circle cx="830.5" cy="1301.6" r="9.2"/><circle cx="833.4" cy="1305.1" r="9.2"/><circle cx="842.5" cy="1321.3" r="9.2"/><circle cx="845.4" cy="1326.1" r="9.2"/><circle cx="858.6" cy="1354.3" r="9.2"/><circle cx="859.7" cy="1360.8" r="9.2"/><circle cx="859.9" cy="1368.5" r="9.2"/><circle cx="862.9" cy="1372.2" r="9.2"/><circle cx="858.6" cy="1361.4" r="9.2"/><circle cx="880.7" cy="1401.6" r="9.2"/><circle cx="874.9" cy="1389.6" r="9.2"/><circle cx="882.3" cy="1411.0" r="9.2"/><circle cx="897.9" cy="1435.1" r="9.2"/><circle cx="912.8" cy="1451.6" r="9.2"/><circle cx="905.0" cy="1436.1" r="9.2"/><circle cx="896.6" cy="1462.6" r="9.2"/><circle cx="895.8" cy="1451.1" r="9.2"/><circle cx="925.6" cy="1474.6" r="9.2"/><circle cx="911.5" cy="1480.6" r="9.2"/><circle cx="945.5" cy="1498.5" r="9.2"/><circle cx="951.4" cy="1504.0" r="9.2"/><circle cx="940.5" cy="1490.5" r="9.2"/><circle cx="938.3" cy="1515.5" r="9.2"/><circle cx="930.3" cy="1506.4" r="9.2"/><circle cx="958.6" cy="1507.7" r="9.2"/><circle cx="966.8" cy="1513.1" r="9.2"/><circle cx="962.9" cy="1531.7" r="9.2"/><circle cx="958.4" cy="1525.3" r="9.2"/><circle cx="998.6" cy="1517.3" r="9.2"/><circle cx="1008.6" cy="1527.0" r="9.2"/><circle cx="1011.8" cy="1525.0" r="9.2"/><circle cx="1013.6" cy="1515.5" r="9.2"/><circle cx="1015.5" cy="1515.6" r="9.2"/><circle cx="1014.7" cy="1522.6" r="9.2"/><circle cx="1018.3" cy="1521.1" r="9.2"/><circle cx="1054.5" cy="1499.3" r="9.2"/><circle cx="1064.3" cy="1485.5" r="9.2"/><circle cx="1063.2" cy="1491.0" r="9.2"/>
</g>
<g fill="none" stroke="#bcbd22" stroke-opacity="0.84" stroke-width="2.2">
<circle cx="839.5" cy="1312.3" r="8.1"/><circle cx="840.0" cy="1314.8" r="8.1"/><circle cx="830.5" cy="1301.6" r="8.1"/><circle cx="833.4" cy="1305.1" r="8.1"/><circle cx="842.5" cy="1321.3" r="8.1"/><circle cx="845.4" cy="1326.1" r="8.1"/><circle cx="858.6" cy="1354.3" r="8.1"/><circle cx="859.7" cy="1360.8" r="8.1"/><circle cx="859.9" cy="1368.5" r="8.1"/><circle cx="862.9" cy="1372.2" r="8.1"/><circle cx="858.6" cy="1361.4" r="8.1"/><circle cx="880.7" cy="1401.6" r="8.1"/><circle cx="874.9" cy="1389.6" r="8.1"/><circle cx="882.3" cy="1411.0" r="8.1"/><circle cx="897.9" cy="1435.1" r="8.1"/><circle cx="912.8" cy="1451.6" r="8.1"/><circle cx="905.0" cy="1436.1" r="8.1"/><circle cx="896.6" cy="1462.6" r="8.1"/><circle cx="895.8" cy="1451.1" r="8.1"/><circle cx="925.6" cy="1474.6" r="8.1"/><circle cx="911.5" cy="1480.6" r="8.1"/><circle cx="945.5" cy="1498.5" r="8.1"/><circle cx="951.4" cy="1504.0" r="8.1"/><circle cx="940.5" cy="1490.5" r="8.1"/><circle cx="938.3" cy="1515.5" r="8.1"/><circle cx="930.3" cy="1506.4" r="8.1"/><circle cx="958.6" cy="1507.7" r="8.1"/><circle cx="966.8" cy="1513.1" r="8.1"/><circle cx="962.9" cy="1531.7" r="8.1"/><circle cx="958.4" cy="1525.3" r="8.1"/><circle cx="998.6" cy="1517.3" r="8.1"/><circle cx="1008.6" cy="1527.0" r="8.1"/><circle cx="1011.8" cy="1525.0" r="8.1"/><circle cx="1013.6" cy="1515.5" r="8.1"/><circle cx="1015.5" cy="1515.6" r="8.1"/><circle cx="1014.7" cy="1522.6" r="8.1"/><circle cx="1018.3" cy="1521.1" r="8.1"/><circle cx="1054.5" cy="1499.3" r="8.1"/><circle cx="1064.3" cy="1485.5" r="8.1"/><circle cx="1063.2" cy="1491.0" r="8.1"/>
</g>
<g fill="#bcbd22">
<circle cx="836.5" cy="1310.1" r="9.2"/><circle cx="827.7" cy="1293.5" r="9.2"/><circle cx="824.3" cy="1290.7" r="9.2"/><circle cx="836.0" cy="1310.7" r="9.2"/><circle cx="824.8" cy="1290.5" r="9.2"/><circle cx="832.6" cy="1304.1" r="9.2"/><circle cx="831.8" cy="1298.1" r="9.2"/><circle cx="837.5" cy="1311.3" r="9.2"/><circle cx="841.2" cy="1315.6" r="9.2"/><circle cx="833.1" cy="1299.8" r="9.2"/><circle cx="835.4" cy="1308.7" r="9.2"/><circle cx="831.9" cy="1303.7" r="9.2"/><circle cx="830.5" cy="1298.6" r="9.2"/><circle cx="831.5" cy="1305.4" r="9.2"/><circle cx="840.3" cy="1315.9" r="9.2"/><circle cx="832.8" cy="1304.6" r="9.2"/><circle cx="843.7" cy="1322.7" r="9.2"/><circle cx="847.3" cy="1334.7" r="9.2"/><circle cx="849.0" cy="1335.6" r="9.2"/><circle cx="846.9" cy="1329.9" r="9.2"/><circle cx="843.0" cy="1321.6" r="9.2"/><circle cx="849.0" cy="1331.9" r="9.2"/><circle cx="844.3" cy="1325.2" r="9.2"/><circle cx="846.6" cy="1332.1" r="9.2"/><circle cx="846.8" cy="1331.2" r="9.2"/><circle cx="844.1" cy="1323.4" r="9.2"/><circle cx="858.9" cy="1359.8" r="9.2"/><circle cx="862.8" cy="1370.2" r="9.2"/><circle cx="869.5" cy="1384.7" r="9.2"/><circle cx="854.0" cy="1347.6" r="9.2"/><circle cx="854.7" cy="1346.2" r="9.2"/><circle cx="859.2" cy="1361.2" r="9.2"/><circle cx="854.1" cy="1346.4" r="9.2"/><circle cx="856.6" cy="1355.0" r="9.2"/><circle cx="860.5" cy="1363.4" r="9.2"/><circle cx="866.1" cy="1374.5" r="9.2"/><circle cx="865.3" cy="1377.0" r="9.2"/><circle cx="851.9" cy="1342.1" r="9.2"/><circle cx="859.5" cy="1359.7" r="9.2"/><circle cx="857.8" cy="1356.2" r="9.2"/><circle cx="861.6" cy="1359.6" r="9.2"/><circle cx="853.9" cy="1348.5" r="9.2"/><circle cx="862.8" cy="1363.3" r="9.2"/><circle cx="868.7" cy="1374.1" r="9.2"/><circle cx="860.1" cy="1358.3" r="9.2"/><circle cx="870.1" cy="1383.8" r="9.2"/><circle cx="864.3" cy="1375.4" r="9.2"/><circle cx="859.5" cy="1363.9" r="9.2"/><circle cx="861.8" cy="1371.5" r="9.2"/><circle cx="854.8" cy="1353.4" r="9.2"/><circle cx="860.4" cy="1366.4" r="9.2"/><circle cx="861.2" cy="1364.4" r="9.2"/><circle cx="868.2" cy="1383.1" r="9.2"/><circle cx="859.7" cy="1364.0" r="9.2"/><circle cx="886.0" cy="1413.7" r="9.2"/><circle cx="884.2" cy="1409.2" r="9.2"/><circle cx="874.8" cy="1391.9" r="9.2"/><circle cx="881.7" cy="1406.9" r="9.2"/><circle cx="875.8" cy="1397.4" r="9.2"/><circle cx="871.8" cy="1390.0" r="9.2"/><circle cx="872.8" cy="1390.2" r="9.2"/><circle cx="875.7" cy="1393.6" r="9.2"/><circle cx="884.6" cy="1410.7" r="9.2"/><circle cx="879.9" cy="1401.9" r="9.2"/><circle cx="875.0" cy="1393.2" r="9.2"/><circle cx="876.1" cy="1395.8" r="9.2"/><circle cx="885.3" cy="1408.6" r="9.2"/><circle cx="880.6" cy="1412.9" r="9.2"/><circle cx="871.6" cy="1393.7" r="9.2"/><circle cx="871.4" cy="1393.8" r="9.2"/><circle cx="870.5" cy="1391.0" r="9.2"/><circle cx="872.3" cy="1391.3" r="9.2"/><circle cx="884.9" cy="1416.7" r="9.2"/><circle cx="886.2" cy="1420.1" r="9.2"/><circle cx="888.2" cy="1417.6" r="9.2"/><circle cx="890.1" cy="1425.2" r="9.2"/><circle cx="891.0" cy="1423.8" r="9.2"/><circle cx="888.7" cy="1425.4" r="9.2"/><circle cx="887.3" cy="1417.0" r="9.2"/><circle cx="890.7" cy="1425.4" r="9.2"/><circle cx="887.0" cy="1426.1" r="9.2"/><circle cx="894.6" cy="1428.9" r="9.2"/><circle cx="894.6" cy="1427.9" r="9.2"/><circle cx="896.7" cy="1433.3" r="9.2"/><circle cx="896.7" cy="1433.5" r="9.2"/><circle cx="890.5" cy="1435.2" r="9.2"/><circle cx="884.4" cy="1419.2" r="9.2"/><circle cx="890.3" cy="1438.5" r="9.2"/><circle cx="885.5" cy="1423.0" r="9.2"/><circle cx="886.4" cy="1422.2" r="9.2"/><circle cx="895.7" cy="1452.1" r="9.2"/><circle cx="902.0" cy="1457.3" r="9.2"/><circle cx="899.9" cy="1462.4" r="9.2"/><circle cx="895.3" cy="1440.0" r="9.2"/><circle cx="909.0" cy="1457.1" r="9.2"/><circle cx="906.3" cy="1447.1" r="9.2"/><circle cx="899.8" cy="1443.5" r="9.2"/><circle cx="899.7" cy="1440.4" r="9.2"/><circle cx="907.4" cy="1463.4" r="9.2"/><circle cx="897.3" cy="1455.2" r="9.2"/><circle cx="897.6" cy="1457.0" r="9.2"/><circle cx="900.7" cy="1457.8" r="9.2"/><circle cx="896.1" cy="1441.4" r="9.2"/><circle cx="912.0" cy="1456.2" r="9.2"/><circle cx="913.1" cy="1461.4" r="9.2"/><circle cx="907.8" cy="1448.7" r="9.2"/><circle cx="907.4" cy="1447.6" r="9.2"/><circle cx="905.6" cy="1446.3" r="9.2"/><circle cx="911.4" cy="1453.3" r="9.2"/><circle cx="894.7" cy="1444.4" r="9.2"/><circle cx="895.4" cy="1460.0" r="9.2"/><circle cx="895.4" cy="1451.4" r="9.2"/><circle cx="900.7" cy="1461.0" r="9.2"/><circle cx="912.7" cy="1473.6" r="9.2"/><circle cx="919.1" cy="1486.0" r="9.2"/><circle cx="915.7" cy="1468.2" r="9.2"/><circle cx="907.3" cy="1476.1" r="9.2"/><circle cx="916.0" cy="1479.8" r="9.2"/><circle cx="910.3" cy="1472.3" r="9.2"/><circle cx="927.9" cy="1476.2" r="9.2"/><circle cx="920.5" cy="1467.5" r="9.2"/><circle cx="913.6" cy="1464.0" r="9.2"/><circle cx="910.7" cy="1475.1" r="9.2"/><circle cx="931.0" cy="1484.8" r="9.2"/><circle cx="906.8" cy="1476.2" r="9.2"/><circle cx="920.1" cy="1476.3" r="9.2"/><circle cx="915.4" cy="1474.1" r="9.2"/><circle cx="906.7" cy="1472.5" r="9.2"/><circle cx="924.4" cy="1485.2" r="9.2"/><circle cx="918.6" cy="1490.1" r="9.2"/><circle cx="923.9" cy="1484.4" r="9.2"/><circle cx="924.3" cy="1483.2" r="9.2"/><circle cx="916.7" cy="1466.1" r="9.2"/><circle cx="931.7" cy="1481.4" r="9.2"/><circle cx="924.6" cy="1470.9" r="9.2"/><circle cx="921.6" cy="1468.2" r="9.2"/><circle cx="927.9" cy="1478.7" r="9.2"/><circle cx="919.6" cy="1466.6" r="9.2"/><circle cx="914.1" cy="1489.0" r="9.2"/><circle cx="914.5" cy="1498.5" r="9.2"/><circle cx="909.5" cy="1479.2" r="9.2"/><circle cx="915.7" cy="1491.2" r="9.2"/><circle cx="904.0" cy="1472.8" r="9.2"/><circle cx="936.4" cy="1502.1" r="9.2"/><circle cx="931.1" cy="1508.9" r="9.2"/><circle cx="935.1" cy="1508.5" r="9.2"/><circle cx="927.6" cy="1492.8" r="9.2"/><circle cx="948.3" cy="1501.5" r="9.2"/><circle cx="925.2" cy="1495.7" r="9.2"/><circle cx="950.5" cy="1503.9" r="9.2"/><circle cx="944.5" cy="1499.2" r="9.2"/><circle cx="939.2" cy="1508.3" r="9.2"/><circle cx="935.9" cy="1492.1" r="9.2"/><circle cx="941.5" cy="1507.0" r="9.2"/><circle cx="943.3" cy="1505.3" r="9.2"/><circle cx="926.7" cy="1504.2" r="9.2"/><circle cx="940.1" cy="1504.7" r="9.2"/><circle cx="934.2" cy="1505.0" r="9.2"/><circle cx="934.6" cy="1511.2" r="9.2"/><circle cx="930.2" cy="1503.8" r="9.2"/><circle cx="934.7" cy="1509.5" r="9.2"/><circle cx="937.7" cy="1512.1" r="9.2"/><circle cx="937.4" cy="1515.5" r="9.2"/><circle cx="947.4" cy="1498.5" r="9.2"/><circle cx="957.3" cy="1500.3" r="9.2"/><circle cx="951.9" cy="1503.0" r="9.2"/><circle cx="932.2" cy="1509.0" r="9.2"/><circle cx="937.1" cy="1514.5" r="9.2"/><circle cx="939.1" cy="1517.4" r="9.2"/><circle cx="933.8" cy="1509.9" r="9.2"/><circle cx="958.5" cy="1512.8" r="9.2"/><circle cx="952.5" cy="1522.6" r="9.2"/><circle cx="953.2" cy="1520.9" r="9.2"/><circle cx="945.8" cy="1520.3" r="9.2"/><circle cx="967.3" cy="1515.7" r="9.2"/><circle cx="961.9" cy="1522.2" r="9.2"/><circle cx="961.6" cy="1510.6" r="9.2"/><circle cx="961.7" cy="1513.3" r="9.2"/><circle cx="947.1" cy="1521.1" r="9.2"/><circle cx="953.0" cy="1507.0" r="9.2"/><circle cx="953.1" cy="1517.6" r="9.2"/><circle cx="954.8" cy="1524.0" r="9.2"/><circle cx="965.1" cy="1513.4" r="9.2"/><circle cx="962.6" cy="1521.1" r="9.2"/><circle cx="961.6" cy="1509.9" r="9.2"/><circle cx="953.3" cy="1508.6" r="9.2"/><circle cx="959.2" cy="1523.9" r="9.2"/><circle cx="960.5" cy="1508.6" r="9.2"/><circle cx="957.3" cy="1507.9" r="9.2"/><circle cx="968.8" cy="1507.4" r="9.2"/><circle cx="962.5" cy="1529.6" r="9.2"/><circle cx="958.3" cy="1528.5" r="9.2"/><circle cx="952.9" cy="1523.3" r="9.2"/><circle cx="982.1" cy="1518.7" r="9.2"/><circle cx="974.0" cy="1518.6" r="9.2"/><circle cx="971.5" cy="1522.1" r="9.2"/><circle cx="969.8" cy="1530.1" r="9.2"/><circle cx="978.1" cy="1524.2" r="9.2"/><circle cx="982.7" cy="1527.9" r="9.2"/><circle cx="986.9" cy="1523.2" r="9.2"/><circle cx="976.0" cy="1522.6" r="9.2"/><circle cx="969.0" cy="1521.8" r="9.2"/><circle cx="983.7" cy="1530.8" r="9.2"/><circle cx="986.0" cy="1526.6" r="9.2"/><circle cx="982.6" cy="1517.8" r="9.2"/><circle cx="976.6" cy="1513.6" r="9.2"/><circle cx="986.4" cy="1519.6" r="9.2"/><circle cx="981.2" cy="1517.8" r="9.2"/><circle cx="990.8" cy="1520.1" r="9.2"/><circle cx="980.7" cy="1531.5" r="9.2"/><circle cx="973.5" cy="1531.0" r="9.2"/><circle cx="974.1" cy="1529.8" r="9.2"/><circle cx="988.3" cy="1530.4" r="9.2"/><circle cx="995.1" cy="1526.9" r="9.2"/><circle cx="1010.4" cy="1519.5" r="9.2"/><circle cx="995.0" cy="1529.1" r="9.2"/><circle cx="991.3" cy="1527.1" r="9.2"/><circle cx="999.4" cy="1525.9" r="9.2"/><circle cx="998.2" cy="1519.8" r="9.2"/><circle cx="1004.7" cy="1525.1" r="9.2"/><circle cx="1000.7" cy="1521.9" r="9.2"/><circle cx="1008.9" cy="1525.1" r="9.2"/><circle cx="1012.4" cy="1517.6" r="9.2"/><circle cx="1007.1" cy="1519.0" r="9.2"/><circle cx="993.0" cy="1517.7" r="9.2"/><circle cx="1002.5" cy="1517.8" r="9.2"/><circle cx="995.1" cy="1518.1" r="9.2"/><circle cx="1009.7" cy="1524.2" r="9.2"/><circle cx="1003.6" cy="1528.2" r="9.2"/><circle cx="1008.0" cy="1526.3" r="9.2"/><circle cx="1033.4" cy="1514.5" r="9.2"/><circle cx="1019.4" cy="1520.6" r="9.2"/><circle cx="1019.4" cy="1520.8" r="9.2"/><circle cx="1034.6" cy="1511.7" r="9.2"/><circle cx="1016.5" cy="1522.4" r="9.2"/><circle cx="1025.5" cy="1516.5" r="9.2"/><circle cx="1034.7" cy="1514.0" r="9.2"/><circle cx="1035.7" cy="1512.7" r="9.2"/><circle cx="1031.6" cy="1510.5" r="9.2"/><circle cx="1016.9" cy="1515.7" r="9.2"/><circle cx="1011.4" cy="1516.3" r="9.2"/><circle cx="1017.1" cy="1521.4" r="9.2"/><circle cx="1017.7" cy="1522.9" r="9.2"/><circle cx="1018.9" cy="1522.0" r="9.2"/><circle cx="1036.0" cy="1512.0" r="9.2"/><circle cx="1050.9" cy="1502.5" r="9.2"/><circle cx="1046.5" cy="1503.4" r="9.2"/><circle cx="1057.4" cy="1500.5" r="9.2"/><circle cx="1049.3" cy="1502.2" r="9.2"/><circle cx="1054.4" cy="1502.3" r="9.2"/><circle cx="1041.2" cy="1507.6" r="9.2"/><circle cx="1043.9" cy="1505.1" r="9.2"/><circle cx="1049.5" cy="1499.5" r="9.2"/><circle cx="1045.0" cy="1502.5" r="9.2"/><circle cx="1047.0" cy="1501.4" r="9.2"/><circle cx="1051.4" cy="1504.8" r="9.2"/><circle cx="1047.4" cy="1508.4" r="9.2"/><circle cx="1048.4" cy="1506.6" r="9.2"/><circle cx="1048.4" cy="1506.3" r="9.2"/><circle cx="1042.3" cy="1508.8" r="9.2"/><circle cx="1063.5" cy="1488.5" r="9.2"/><circle cx="1064.3" cy="1488.0" r="9.2"/><circle cx="1066.2" cy="1487.4" r="9.2"/><circle cx="1057.2" cy="1496.8" r="9.2"/><circle cx="1058.2" cy="1492.5" r="9.2"/><circle cx="1063.7" cy="1493.1" r="9.2"/><circle cx="1061.7" cy="1496.8" r="9.2"/>
</g>
<g fill="#2ca02c" fill-opacity="0.6">
<circle cx="1070.2" cy="1483.0" r="9.2"/><circle cx="1090.0" cy="1459.0" r="9.2"/><circle cx="1101.5" cy="1438.2" r="9.2"/><circle cx="1091.5" cy="1452.3" r="9.2"/><circle cx="1100.7" cy="1417.7" r="9.2"/><circle cx="1110.5" cy="1425.8" r="9.2"/><circle cx="1104.3" cy="1408.4" r="9.2"/><circle cx="1115.8" cy="1410.7" r="9.2"/><circle cx="1115.8" cy="1411.6" r="9.2"/><circle cx="1101.9" cy="1386.9" r="9.2"/><circle cx="1105.5" cy="1382.1" r="9.2"/><circle cx="1122.3" cy="1391.7" r="9.2"/><circle cx="1123.3" cy="1389.1" r="9.2"/><circle cx="1108.0" cy="1370.7" r="9.2"/><circle cx="1137.4" cy="1356.1" r="9.2"/><circle cx="1094.6" cy="1341.2" r="9.2"/><circle cx="1102.0" cy="1354.5" r="9.2"/><circle cx="1141.4" cy="1334.1" r="9.2"/><circle cx="1122.5" cy="1305.5" r="9.2"/><circle cx="1091.6" cy="1301.2" r="9.2"/><circle cx="1081.6" cy="1265.7" r="9.2"/><circle cx="1116.6" cy="1270.0" r="9.2"/><circle cx="1116.2" cy="1262.1" r="9.2"/><circle cx="1080.0" cy="1242.9" r="9.2"/><circle cx="1080.3" cy="1248.6" r="9.2"/><circle cx="1079.3" cy="1234.1" r="9.2"/><circle cx="1075.1" cy="1220.2" r="9.2"/><circle cx="1067.4" cy="1186.4" r="9.2"/><circle cx="1070.2" cy="1193.1" r="9.2"/><circle cx="1069.2" cy="1185.9" r="9.2"/><circle cx="1092.7" cy="1169.3" r="9.2"/><circle cx="1099.4" cy="1194.2" r="9.2"/><circle cx="1056.8" cy="1144.6" r="9.2"/><circle cx="1058.2" cy="1151.2" r="9.2"/><circle cx="1091.2" cy="1163.9" r="9.2"/><circle cx="1089.8" cy="1160.4" r="9.2"/><circle cx="1057.9" cy="1116.2" r="9.2"/><circle cx="1051.1" cy="1112.8" r="9.2"/><circle cx="1054.8" cy="1130.0" r="9.2"/><circle cx="1083.0" cy="1109.4" r="9.2"/><circle cx="1061.6" cy="1089.4" r="9.2"/><circle cx="1083.3" cy="1105.3" r="9.2"/><circle cx="1091.7" cy="1083.8" r="9.2"/><circle cx="1074.4" cy="1058.3" r="9.2"/><circle cx="1098.9" cy="1072.3" r="9.2"/><circle cx="1104.2" cy="1025.5" r="9.2"/><circle cx="1139.1" cy="1003.4" r="9.2"/><circle cx="1123.3" cy="1011.7" r="9.2"/><circle cx="1146.8" cy="1028.0" r="9.2"/><circle cx="1141.1" cy="1030.4" r="9.2"/><circle cx="1149.5" cy="1024.1" r="9.2"/><circle cx="1178.9" cy="997.3" r="9.2"/><circle cx="1164.1" cy="1015.8" r="9.2"/><circle cx="1163.8" cy="1014.9" r="9.2"/><circle cx="1197.0" cy="995.1" r="9.2"/><circle cx="1206.6" cy="1003.0" r="9.2"/><circle cx="1233.6" cy="998.8" r="9.2"/><circle cx="1234.4" cy="997.7" r="9.2"/>
</g>
<g fill="none" stroke="#2ca02c" stroke-opacity="0.72" stroke-width="2.2">
<circle cx="1070.2" cy="1483.0" r="8.1"/><circle cx="1090.0" cy="1459.0" r="8.1"/><circle cx="1101.5" cy="1438.2" r="8.1"/><circle cx="1091.5" cy="1452.3" r="8.1"/><circle cx="1100.7" cy="1417.7" r="8.1"/><circle cx="1110.5" cy="1425.8" r="8.1"/><circle cx="1104.3" cy="1408.4" r="8.1"/><circle cx="1115.8" cy="1410.7" r="8.1"/><circle cx="1115.8" cy="1411.6" r="8.1"/><circle cx="1101.9" cy="1386.9" r="8.1"/><circle cx="1105.5" cy="1382.1" r="8.1"/><circle cx="1122.3" cy="1391.7" r="8.1"/><circle cx="1123.3" cy="1389.1" r="8.1"/><circle cx="1108.0" cy="1370.7" r="8.1"/><circle cx="1137.4" cy="1356.1" r="8.1"/><circle cx="1094.6" cy="1341.2" r="8.1"/><circle cx="1102.0" cy="1354.5" r="8.1"/><circle cx="1141.4" cy="1334.1" r="8.1"/><circle cx="1122.5" cy="1305.5" r="8.1"/><circle cx="1091.6" cy="1301.2" r="8.1"/><circle cx="1081.6" cy="1265.7" r="8.1"/><circle cx="1116.6" cy="1270.0" r="8.1"/><circle cx="1116.2" cy="1262.1" r="8.1"/><circle cx="1080.0" cy="1242.9" r="8.1"/><circle cx="1080.3" cy="1248.6" r="8.1"/><circle cx="1079.3" cy="1234.1" r="8.1"/><circle cx="1075.1" cy="1220.2" r="8.1"/><circle cx="1067.4" cy="1186.4" r="8.1"/><circle cx="1070.2" cy="1193.1" r="8.1"/><circle cx="1069.2" cy="1185.9" r="8.1"/><circle cx="1092.7" cy="1169.3" r="8.1"/><circle cx="1099.4" cy="1194.2" r="8.1"/><circle cx="1056.8" cy="1144.6" r="8.1"/><circle cx="1058.2" cy="1151.2" r="8.1"/><circle cx="1091.2" cy="1163.9" r="8.1"/><circle cx="1089.8" cy="1160.4" r="8.1"/><circle cx="1057.9" cy="1116.2" r="8.1"/><circle cx="1051.1" cy="1112.8" r="8.1"/><circle cx="1054.8" cy="1130.0" r="8.1"/><circle cx="1083.0" cy="1109.4" r="8.1"/><circle cx="1061.6" cy="1089.4" r="8.1"/><circle cx="1083.3" cy="1105.3" r="8.1"/><circle cx="1091.7" cy="1083.8" r="8.1"/><circle cx="1074.4" cy="1058.3" r="8.1"/><circle cx="1098.9" cy="1072.3" r="8.1"/><circle cx="1104.2" cy="1025.5" r="8.1"/><circle cx="1139.1" cy="1003.4" r="8.1"/><circle cx="1123.3" cy="1011.7" r="8.1"/><circle cx="1146.8" cy="1028.0" r="8.1"/><circle cx="1141.1" cy="1030.4" r="8.1"/><circle cx="1149.5" cy="1024.1" r="8.1"/><circle cx="1178.9" cy="997.3" r="8.1"/><circle cx="1164.1" cy="1015.8" r="8.1"/><circle cx="1163.8" cy="1014.9" r="8.1"/><circle cx="1197.0" cy="995.1" r="8.1"/><circle cx="1206.6" cy="1003.0" r="8.1"/><circle cx="1233.6" cy="998.8" r="8.1"/><circle cx="1234.4" cy="997.7" r="8.1"/>
</g>
<g fill="#2ca02c">
<circle cx="1066.3" cy="1472.4" r="9.2"/><circle cx="1066.6" cy="1477.6" r="9.2"/><circle cx="1064.7" cy="1483.5" r="9.2"/><circle cx="1066.5" cy="1471.1" r="9.2"/><circle cx="1070.7" cy="1477.7" r="9.2"/><circle cx="1072.0" cy="1480.1" r="9.2"/><circle cx="1065.0" cy="1482.7" r="9.2"/><circle cx="1063.7" cy="1478.2" r="9.2"/><circle cx="1064.8" cy="1478.0" r="9.2"/><circle cx="1066.8" cy="1471.2" r="9.2"/><circle cx="1068.4" cy="1485.6" r="9.2"/><circle cx="1069.9" cy="1487.5" r="9.2"/><circle cx="1072.5" cy="1466.5" r="9.2"/><circle cx="1074.6" cy="1456.0" r="9.2"/><circle cx="1076.2" cy="1452.8" r="9.2"/><circle cx="1075.3" cy="1460.2" r="9.2"/><circle cx="1065.9" cy="1469.7" r="9.2"/><circle cx="1069.2" cy="1471.7" r="9.2"/><circle cx="1080.3" cy="1470.8" r="9.2"/><circle cx="1072.2" cy="1456.1" r="9.2"/><circle cx="1075.4" cy="1455.9" r="9.2"/><circle cx="1079.8" cy="1464.9" r="9.2"/><circle cx="1088.3" cy="1459.7" r="9.2"/><circle cx="1073.6" cy="1462.9" r="9.2"/><circle cx="1073.3" cy="1463.3" r="9.2"/><circle cx="1079.3" cy="1457.5" r="9.2"/><circle cx="1072.6" cy="1455.1" r="9.2"/><circle cx="1068.0" cy="1467.6" r="9.2"/><circle cx="1071.2" cy="1458.1" r="9.2"/><circle cx="1069.2" cy="1461.7" r="9.2"/><circle cx="1073.4" cy="1455.6" r="9.2"/><circle cx="1080.5" cy="1476.9" r="9.2"/><circle cx="1077.2" cy="1472.1" r="9.2"/><circle cx="1084.8" cy="1465.8" r="9.2"/><circle cx="1080.0" cy="1470.3" r="9.2"/><circle cx="1094.1" cy="1447.2" r="9.2"/><circle cx="1095.4" cy="1446.9" r="9.2"/><circle cx="1081.5" cy="1446.9" r="9.2"/><circle cx="1088.6" cy="1440.4" r="9.2"/><circle cx="1082.2" cy="1441.1" r="9.2"/><circle cx="1099.1" cy="1435.1" r="9.2"/><circle cx="1085.7" cy="1452.3" r="9.2"/><circle cx="1085.7" cy="1441.9" r="9.2"/><circle cx="1098.6" cy="1434.7" r="9.2"/><circle cx="1098.2" cy="1435.3" r="9.2"/><circle cx="1089.8" cy="1431.8" r="9.2"/><circle cx="1087.7" cy="1452.4" r="9.2"/><circle cx="1096.8" cy="1446.3" r="9.2"/><circle cx="1095.7" cy="1432.9" r="9.2"/><circle cx="1085.5" cy="1437.3" r="9.2"/><circle cx="1080.8" cy="1444.2" r="9.2"/><circle cx="1085.6" cy="1435.0" r="9.2"/><circle cx="1074.2" cy="1446.4" r="9.2"/><circle cx="1089.3" cy="1430.3" r="9.2"/><circle cx="1081.7" cy="1441.7" r="9.2"/><circle cx="1079.4" cy="1440.1" r="9.2"/><circle cx="1096.0" cy="1447.6" r="9.2"/><circle cx="1098.4" cy="1444.9" r="9.2"/><circle cx="1101.2" cy="1440.8" r="9.2"/><circle cx="1100.8" cy="1427.8" r="9.2"/><circle cx="1097.4" cy="1423.6" r="9.2"/><circle cx="1109.4" cy="1419.1" r="9.2"/><circle cx="1100.5" cy="1425.0" r="9.2"/><circle cx="1108.5" cy="1419.9" r="9.2"/><circle cx="1098.8" cy="1420.3" r="9.2"/><circle cx="1094.4" cy="1428.0" r="9.2"/><circle cx="1107.7" cy="1415.7" r="9.2"/><circle cx="1103.9" cy="1418.4" r="9.2"/><circle cx="1098.2" cy="1422.6" r="9.2"/><circle cx="1110.7" cy="1413.4" r="9.2"/><circle cx="1101.0" cy="1431.3" r="9.2"/><circle cx="1097.1" cy="1420.9" r="9.2"/><circle cx="1093.0" cy="1426.3" r="9.2"/><circle cx="1103.8" cy="1413.9" r="9.2"/><circle cx="1093.9" cy="1423.3" r="9.2"/><circle cx="1109.9" cy="1423.8" r="9.2"/><circle cx="1114.6" cy="1416.8" r="9.2"/><circle cx="1112.1" cy="1421.3" r="9.2"/><circle cx="1113.5" cy="1428.9" r="9.2"/><circle cx="1110.0" cy="1407.3" r="9.2"/><circle cx="1108.3" cy="1402.1" r="9.2"/><circle cx="1110.1" cy="1401.7" r="9.2"/><circle cx="1105.6" cy="1406.5" r="9.2"/><circle cx="1115.3" cy="1400.0" r="9.2"/><circle cx="1105.3" cy="1397.8" r="9.2"/><circle cx="1112.5" cy="1405.5" r="9.2"/><circle cx="1112.4" cy="1408.8" r="9.2"/><circle cx="1106.2" cy="1401.5" r="9.2"/><circle cx="1108.1" cy="1399.4" r="9.2"/><circle cx="1107.8" cy="1405.5" r="9.2"/><circle cx="1104.8" cy="1405.7" r="9.2"/><circle cx="1102.5" cy="1402.2" r="9.2"/><circle cx="1102.8" cy="1409.6" r="9.2"/><circle cx="1103.1" cy="1409.2" r="9.2"/><circle cx="1114.0" cy="1410.7" r="9.2"/><circle cx="1116.4" cy="1404.4" r="9.2"/><circle cx="1120.2" cy="1395.2" r="9.2"/><circle cx="1115.9" cy="1374.0" r="9.2"/><circle cx="1119.1" cy="1391.1" r="9.2"/><circle cx="1112.1" cy="1369.2" r="9.2"/><circle cx="1125.2" cy="1379.5" r="9.2"/><circle cx="1112.6" cy="1370.3" r="9.2"/><circle cx="1107.0" cy="1387.2" r="9.2"/><circle cx="1121.2" cy="1390.3" r="9.2"/><circle cx="1118.7" cy="1373.4" r="9.2"/><circle cx="1110.4" cy="1388.4" r="9.2"/><circle cx="1116.7" cy="1388.2" r="9.2"/><circle cx="1123.9" cy="1379.9" r="9.2"/><circle cx="1114.6" cy="1382.8" r="9.2"/><circle cx="1113.1" cy="1381.5" r="9.2"/><circle cx="1119.4" cy="1384.3" r="9.2"/><circle cx="1113.9" cy="1376.1" r="9.2"/><circle cx="1109.1" cy="1377.6" r="9.2"/><circle cx="1103.7" cy="1373.1" r="9.2"/><circle cx="1105.0" cy="1381.4" r="9.2"/><circle cx="1124.8" cy="1385.6" r="9.2"/><circle cx="1131.0" cy="1378.0" r="9.2"/><circle cx="1114.4" cy="1354.3" r="9.2"/><circle cx="1110.2" cy="1352.5" r="9.2"/><circle cx="1133.5" cy="1363.2" r="9.2"/><circle cx="1122.4" cy="1370.4" r="9.2"/><circle cx="1107.8" cy="1364.7" r="9.2"/><circle cx="1130.3" cy="1363.9" r="9.2"/><circle cx="1114.6" cy="1370.9" r="9.2"/><circle cx="1132.8" cy="1354.0" r="9.2"/><circle cx="1107.1" cy="1363.1" r="9.2"/><circle cx="1117.7" cy="1354.3" r="9.2"/><circle cx="1117.4" cy="1363.3" r="9.2"/><circle cx="1118.5" cy="1359.6" r="9.2"/><circle cx="1129.6" cy="1362.2" r="9.2"/><circle cx="1113.4" cy="1365.2" r="9.2"/><circle cx="1133.1" cy="1366.5" r="9.2"/><circle cx="1116.2" cy="1360.7" r="9.2"/><circle cx="1105.8" cy="1361.9" r="9.2"/><circle cx="1130.7" cy="1360.6" r="9.2"/><circle cx="1123.4" cy="1370.1" r="9.2"/><circle cx="1126.7" cy="1372.0" r="9.2"/><circle cx="1112.8" cy="1368.3" r="9.2"/><circle cx="1124.3" cy="1355.7" r="9.2"/><circle cx="1101.2" cy="1356.0" r="9.2"/><circle cx="1106.8" cy="1369.2" r="9.2"/><circle cx="1104.7" cy="1357.4" r="9.2"/><circle cx="1136.6" cy="1355.8" r="9.2"/><circle cx="1135.8" cy="1360.4" r="9.2"/><circle cx="1132.0" cy="1369.5" r="9.2"/><circle cx="1130.3" cy="1331.3" r="9.2"/><circle cx="1102.6" cy="1349.5" r="9.2"/><circle cx="1128.5" cy="1335.2" r="9.2"/><circle cx="1138.0" cy="1347.0" r="9.2"/><circle cx="1098.7" cy="1344.9" r="9.2"/><circle cx="1112.1" cy="1343.3" r="9.2"/><circle cx="1136.0" cy="1346.4" r="9.2"/><circle cx="1099.8" cy="1336.2" r="9.2"/><circle cx="1109.5" cy="1344.5" r="9.2"/><circle cx="1100.9" cy="1341.5" r="9.2"/><circle cx="1115.9" cy="1345.6" r="9.2"/><circle cx="1116.3" cy="1342.6" r="9.2"/><circle cx="1137.9" cy="1335.7" r="9.2"/><circle cx="1136.2" cy="1329.0" r="9.2"/><circle cx="1105.3" cy="1337.3" r="9.2"/><circle cx="1118.4" cy="1347.0" r="9.2"/><circle cx="1123.1" cy="1337.7" r="9.2"/><circle cx="1140.2" cy="1340.5" r="9.2"/><circle cx="1099.7" cy="1349.3" r="9.2"/><circle cx="1109.0" cy="1352.1" r="9.2"/><circle cx="1133.4" cy="1333.8" r="9.2"/><circle cx="1110.4" cy="1352.8" r="9.2"/><circle cx="1131.8" cy="1344.4" r="9.2"/><circle cx="1106.5" cy="1335.6" r="9.2"/><circle cx="1139.3" cy="1345.8" r="9.2"/><circle cx="1127.3" cy="1330.0" r="9.2"/><circle cx="1129.7" cy="1340.0" r="9.2"/><circle cx="1118.4" cy="1336.0" r="9.2"/><circle cx="1121.0" cy="1345.9" r="9.2"/><circle cx="1110.5" cy="1339.8" r="9.2"/><circle cx="1098.4" cy="1342.7" r="9.2"/><circle cx="1093.1" cy="1339.3" r="9.2"/><circle cx="1139.1" cy="1330.1" r="9.2"/><circle cx="1139.6" cy="1338.2" r="9.2"/><circle cx="1137.8" cy="1345.0" r="9.2"/><circle cx="1111.3" cy="1328.7" r="9.2"/><circle cx="1123.8" cy="1310.1" r="9.2"/><circle cx="1093.5" cy="1326.2" r="9.2"/><circle cx="1111.4" cy="1312.1" r="9.2"/><circle cx="1113.2" cy="1314.7" r="9.2"/><circle cx="1107.2" cy="1327.4" r="9.2"/><circle cx="1123.1" cy="1326.4" r="9.2"/><circle cx="1124.0" cy="1326.4" r="9.2"/><circle cx="1112.8" cy="1310.3" r="9.2"/><circle cx="1121.5" cy="1313.6" r="9.2"/><circle cx="1116.6" cy="1307.1" r="9.2"/><circle cx="1105.5" cy="1312.0" r="9.2"/><circle cx="1121.7" cy="1328.6" r="9.2"/><circle cx="1123.0" cy="1312.0" r="9.2"/><circle cx="1105.8" cy="1321.5" r="9.2"/><circle cx="1131.0" cy="1324.1" r="9.2"/><circle cx="1127.4" cy="1310.1" r="9.2"/><circle cx="1123.3" cy="1313.0" r="9.2"/><circle cx="1125.2" cy="1307.4" r="9.2"/><circle cx="1126.9" cy="1314.5" r="9.2"/><circle cx="1094.4" cy="1332.9" r="9.2"/><circle cx="1107.9" cy="1327.8" r="9.2"/><circle cx="1103.5" cy="1313.0" r="9.2"/><circle cx="1121.6" cy="1322.0" r="9.2"/><circle cx="1107.9" cy="1333.6" r="9.2"/><circle cx="1098.7" cy="1330.7" r="9.2"/><circle cx="1108.1" cy="1320.7" r="9.2"/><circle cx="1103.4" cy="1317.9" r="9.2"/><circle cx="1097.5" cy="1316.4" r="9.2"/><circle cx="1101.6" cy="1325.8" r="9.2"/><circle cx="1108.4" cy="1335.5" r="9.2"/><circle cx="1092.8" cy="1321.0" r="9.2"/><circle cx="1093.7" cy="1325.6" r="9.2"/><circle cx="1093.2" cy="1321.5" r="9.2"/><circle cx="1096.1" cy="1320.7" r="9.2"/><circle cx="1094.2" cy="1327.2" r="9.2"/><circle cx="1136.4" cy="1319.9" r="9.2"/><circle cx="1132.6" cy="1316.7" r="9.2"/><circle cx="1121.3" cy="1307.5" r="9.2"/><circle cx="1131.8" cy="1321.3" r="9.2"/><circle cx="1093.4" cy="1295.4" r="9.2"/><circle cx="1113.9" cy="1293.4" r="9.2"/><circle cx="1117.0" cy="1295.4" r="9.2"/><circle cx="1104.1" cy="1301.3" r="9.2"/><circle cx="1111.2" cy="1305.4" r="9.2"/><circle cx="1105.5" cy="1311.2" r="9.2"/><circle cx="1099.5" cy="1291.3" r="9.2"/><circle cx="1103.4" cy="1307.8" r="9.2"/><circle cx="1116.5" cy="1295.7" r="9.2"/><circle cx="1106.9" cy="1308.6" r="9.2"/><circle cx="1117.0" cy="1293.3" r="9.2"/><circle cx="1098.8" cy="1297.8" r="9.2"/><circle cx="1102.9" cy="1309.7" r="9.2"/><circle cx="1120.3" cy="1305.9" r="9.2"/><circle cx="1092.7" cy="1310.3" r="9.2"/><circle cx="1113.8" cy="1290.4" r="9.2"/><circle cx="1104.9" cy="1301.4" r="9.2"/><circle cx="1111.8" cy="1292.3" r="9.2"/><circle cx="1102.4" cy="1304.7" r="9.2"/><circle cx="1097.7" cy="1291.6" r="9.2"/><circle cx="1090.2" cy="1310.8" r="9.2"/><circle cx="1094.3" cy="1294.9" r="9.2"/><circle cx="1102.9" cy="1299.6" r="9.2"/><circle cx="1090.0" cy="1310.4" r="9.2"/><circle cx="1089.4" cy="1307.6" r="9.2"/><circle cx="1091.4" cy="1307.4" r="9.2"/><circle cx="1121.6" cy="1299.0" r="9.2"/><circle cx="1119.3" cy="1306.7" r="9.2"/><circle cx="1122.5" cy="1292.2" r="9.2"/><circle cx="1120.2" cy="1308.2" r="9.2"/><circle cx="1089.6" cy="1280.1" r="9.2"/><circle cx="1112.8" cy="1271.2" r="9.2"/><circle cx="1104.9" cy="1282.6" r="9.2"/><circle cx="1094.0" cy="1281.2" r="9.2"/><circle cx="1090.1" cy="1279.7" r="9.2"/><circle cx="1118.5" cy="1272.9" r="9.2"/><circle cx="1115.5" cy="1284.9" r="9.2"/><circle cx="1119.6" cy="1281.0" r="9.2"/><circle cx="1096.6" cy="1276.5" r="9.2"/><circle cx="1100.9" cy="1264.6" r="9.2"/><circle cx="1108.8" cy="1288.5" r="9.2"/><circle cx="1109.7" cy="1275.4" r="9.2"/><circle cx="1089.3" cy="1263.1" r="9.2"/><circle cx="1103.1" cy="1289.3" r="9.2"/><circle cx="1118.8" cy="1270.5" r="9.2"/><circle cx="1102.6" cy="1283.7" r="9.2"/><circle cx="1114.5" cy="1278.1" r="9.2"/><circle cx="1097.0" cy="1266.3" r="9.2"/><circle cx="1081.3" cy="1265.5" r="9.2"/><circle cx="1087.6" cy="1285.4" r="9.2"/><circle cx="1116.8" cy="1280.5" r="9.2"/><circle cx="1102.6" cy="1259.9" r="9.2"/><circle cx="1099.8" cy="1273.5" r="9.2"/><circle cx="1103.3" cy="1278.6" r="9.2"/><circle cx="1089.3" cy="1274.1" r="9.2"/><circle cx="1105.6" cy="1262.8" r="9.2"/><circle cx="1088.2" cy="1266.3" r="9.2"/><circle cx="1109.9" cy="1274.4" r="9.2"/><circle cx="1093.4" cy="1267.0" r="9.2"/><circle cx="1102.0" cy="1285.1" r="9.2"/><circle cx="1100.2" cy="1277.4" r="9.2"/><circle cx="1096.9" cy="1288.2" r="9.2"/><circle cx="1117.1" cy="1264.3" r="9.2"/><circle cx="1093.1" cy="1284.0" r="9.2"/><circle cx="1114.2" cy="1264.9" r="9.2"/><circle cx="1104.9" cy="1281.4" r="9.2"/><circle cx="1084.0" cy="1264.0" r="9.2"/><circle cx="1090.1" cy="1282.3" r="9.2"/><circle cx="1085.6" cy="1271.5" r="9.2"/><circle cx="1083.4" cy="1272.5" r="9.2"/><circle cx="1091.1" cy="1289.3" r="9.2"/><circle cx="1115.2" cy="1263.0" r="9.2"/><circle cx="1118.3" cy="1287.6" r="9.2"/><circle cx="1119.2" cy="1287.2" r="9.2"/><circle cx="1117.5" cy="1277.4" r="9.2"/><circle cx="1092.6" cy="1238.0" r="9.2"/><circle cx="1086.3" cy="1256.2" r="9.2"/><circle cx="1098.9" cy="1235.2" r="9.2"/><circle cx="1098.3" cy="1253.6" r="9.2"/><circle cx="1099.0" cy="1254.8" r="9.2"/><circle cx="1109.2" cy="1256.0" r="9.2"/><circle cx="1106.8" cy="1256.5" r="9.2"/><circle cx="1092.6" cy="1236.5" r="9.2"/><circle cx="1082.2" cy="1258.2" r="9.2"/><circle cx="1102.6" cy="1252.7" r="9.2"/><circle cx="1088.4" cy="1233.7" r="9.2"/><circle cx="1109.7" cy="1250.2" r="9.2"/><circle cx="1103.6" cy="1258.9" r="9.2"/><circle cx="1082.5" cy="1241.7" r="9.2"/><circle cx="1085.4" cy="1245.6" r="9.2"/><circle cx="1100.3" cy="1252.2" r="9.2"/><circle cx="1101.5" cy="1256.3" r="9.2"/><circle cx="1111.5" cy="1246.3" r="9.2"/><circle cx="1084.5" cy="1252.4" r="9.2"/><circle cx="1093.4" cy="1232.7" r="9.2"/><circle cx="1083.9" cy="1257.8" r="9.2"/><circle cx="1107.9" cy="1252.7" r="9.2"/><circle cx="1108.2" cy="1247.1" r="9.2"/><circle cx="1078.4" cy="1239.9" r="9.2"/><circle cx="1106.7" cy="1251.9" r="9.2"/><circle cx="1086.7" cy="1244.6" r="9.2"/><circle cx="1087.4" cy="1245.1" r="9.2"/><circle cx="1112.8" cy="1251.9" r="9.2"/><circle cx="1095.1" cy="1261.3" r="9.2"/><circle cx="1088.1" cy="1232.8" r="9.2"/><circle cx="1091.1" cy="1230.7" r="9.2"/><circle cx="1096.2" cy="1237.8" r="9.2"/><circle cx="1077.7" cy="1240.0" r="9.2"/><circle cx="1083.1" cy="1243.7" r="9.2"/><circle cx="1079.5" cy="1251.5" r="9.2"/><circle cx="1081.5" cy="1257.5" r="9.2"/><circle cx="1081.7" cy="1250.0" r="9.2"/><circle cx="1108.3" cy="1242.2" r="9.2"/><circle cx="1102.7" cy="1232.4" r="9.2"/><circle cx="1102.5" cy="1236.5" r="9.2"/><circle cx="1106.4" cy="1243.3" r="9.2"/><circle cx="1110.6" cy="1246.2" r="9.2"/><circle cx="1119.5" cy="1247.3" r="9.2"/><circle cx="1078.1" cy="1221.0" r="9.2"/><circle cx="1073.2" cy="1214.5" r="9.2"/><circle cx="1095.3" cy="1211.6" r="9.2"/><circle cx="1080.5" cy="1213.8" r="9.2"/><circle cx="1093.3" cy="1222.8" r="9.2"/><circle cx="1096.4" cy="1215.0" r="9.2"/><circle cx="1071.9" cy="1216.8" r="9.2"/><circle cx="1083.3" cy="1219.3" r="9.2"/><circle cx="1098.5" cy="1223.6" r="9.2"/><circle cx="1080.7" cy="1217.5" r="9.2"/><circle cx="1087.5" cy="1219.4" r="9.2"/><circle cx="1077.0" cy="1213.3" r="9.2"/><circle cx="1086.1" cy="1223.4" r="9.2"/><circle cx="1078.8" cy="1223.1" r="9.2"/><circle cx="1083.3" cy="1226.5" r="9.2"/><circle cx="1082.7" cy="1212.6" r="9.2"/><circle cx="1088.0" cy="1216.6" r="9.2"/><circle cx="1075.4" cy="1213.4" r="9.2"/><circle cx="1074.0" cy="1218.5" r="9.2"/><circle cx="1076.3" cy="1225.0" r="9.2"/><circle cx="1074.9" cy="1222.4" r="9.2"/><circle cx="1101.4" cy="1224.9" r="9.2"/><circle cx="1098.7" cy="1206.8" r="9.2"/><circle cx="1096.2" cy="1221.2" r="9.2"/><circle cx="1095.2" cy="1215.8" r="9.2"/><circle cx="1088.3" cy="1205.7" r="9.2"/><circle cx="1081.0" cy="1205.3" r="9.2"/><circle cx="1074.3" cy="1207.7" r="9.2"/><circle cx="1082.3" cy="1201.3" r="9.2"/><circle cx="1071.8" cy="1207.7" r="9.2"/><circle cx="1071.6" cy="1203.2" r="9.2"/><circle cx="1080.2" cy="1206.3" r="9.2"/><circle cx="1070.6" cy="1209.2" r="9.2"/><circle cx="1076.7" cy="1199.4" r="9.2"/><circle cx="1070.9" cy="1200.1" r="9.2"/><circle cx="1070.6" cy="1207.6" r="9.2"/><circle cx="1068.4" cy="1209.5" r="9.2"/><circle cx="1095.5" cy="1207.5" r="9.2"/><circle cx="1093.3" cy="1204.4" r="9.2"/><circle cx="1089.5" cy="1175.8" r="9.2"/><circle cx="1072.4" cy="1175.4" r="9.2"/><circle cx="1068.3" cy="1176.1" r="9.2"/><circle cx="1082.3" cy="1194.5" r="9.2"/><circle cx="1083.5" cy="1192.6" r="9.2"/><circle cx="1093.1" cy="1188.3" r="9.2"/><circle cx="1089.5" cy="1184.2" r="9.2"/><circle cx="1077.6" cy="1169.9" r="9.2"/><circle cx="1079.5" cy="1175.1" r="9.2"/><circle cx="1071.0" cy="1187.5" r="9.2"/><circle cx="1091.9" cy="1176.9" r="9.2"/><circle cx="1074.8" cy="1178.1" r="9.2"/><circle cx="1076.7" cy="1182.9" r="9.2"/><circle cx="1088.4" cy="1185.6" r="9.2"/><circle cx="1082.1" cy="1198.3" r="9.2"/><circle cx="1071.0" cy="1184.0" r="9.2"/><circle cx="1072.8" cy="1177.0" r="9.2"/><circle cx="1074.3" cy="1187.0" r="9.2"/><circle cx="1078.4" cy="1180.5" r="9.2"/><circle cx="1077.9" cy="1177.9" r="9.2"/><circle cx="1081.1" cy="1174.4" r="9.2"/><circle cx="1082.0" cy="1195.2" r="9.2"/><circle cx="1076.4" cy="1191.4" r="9.2"/><circle cx="1078.4" cy="1169.7" r="9.2"/><circle cx="1070.0" cy="1177.2" r="9.2"/><circle cx="1069.5" cy="1180.6" r="9.2"/><circle cx="1072.1" cy="1192.9" r="9.2"/><circle cx="1092.7" cy="1196.4" r="9.2"/><circle cx="1075.0" cy="1169.6" r="9.2"/><circle cx="1066.6" cy="1200.0" r="9.2"/><circle cx="1069.5" cy="1184.3" r="9.2"/><circle cx="1069.1" cy="1185.8" r="9.2"/><circle cx="1092.2" cy="1171.6" r="9.2"/><circle cx="1093.4" cy="1179.0" r="9.2"/><circle cx="1092.4" cy="1180.2" r="9.2"/><circle cx="1093.7" cy="1183.2" r="9.2"/><circle cx="1077.3" cy="1154.9" r="9.2"/><circle cx="1070.4" cy="1153.4" r="9.2"/><circle cx="1072.3" cy="1169.3" r="9.2"/><circle cx="1089.4" cy="1149.9" r="9.2"/><circle cx="1089.8" cy="1160.8" r="9.2"/><circle cx="1081.3" cy="1135.9" r="9.2"/><circle cx="1061.9" cy="1163.3" r="9.2"/><circle cx="1057.2" cy="1145.1" r="9.2"/><circle cx="1090.0" cy="1155.5" r="9.2"/><circle cx="1084.2" cy="1144.8" r="9.2"/><circle cx="1061.4" cy="1145.5" r="9.2"/><circle cx="1061.9" cy="1156.1" r="9.2"/><circle cx="1075.7" cy="1156.6" r="9.2"/><circle cx="1065.3" cy="1145.1" r="9.2"/><circle cx="1061.8" cy="1150.9" r="9.2"/><circle cx="1063.3" cy="1163.7" r="9.2"/><circle cx="1077.1" cy="1149.7" r="9.2"/><circle cx="1070.6" cy="1147.1" r="9.2"/><circle cx="1079.2" cy="1137.6" r="9.2"/><circle cx="1086.5" cy="1147.7" r="9.2"/><circle cx="1071.1" cy="1164.2" r="9.2"/><circle cx="1077.7" cy="1150.5" r="9.2"/><circle cx="1077.5" cy="1137.5" r="9.2"/><circle cx="1091.5" cy="1163.2" r="9.2"/><circle cx="1065.8" cy="1156.2" r="9.2"/><circle cx="1077.1" cy="1143.8" r="9.2"/><circle cx="1073.9" cy="1141.7" r="9.2"/><circle cx="1075.9" cy="1160.5" r="9.2"/><circle cx="1070.5" cy="1155.1" r="9.2"/><circle cx="1062.9" cy="1153.3" r="9.2"/><circle cx="1065.2" cy="1163.3" r="9.2"/><circle cx="1079.3" cy="1167.0" r="9.2"/><circle cx="1069.8" cy="1146.5" r="9.2"/><circle cx="1075.5" cy="1139.7" r="9.2"/><circle cx="1066.6" cy="1149.9" r="9.2"/><circle cx="1060.5" cy="1160.8" r="9.2"/><circle cx="1061.1" cy="1159.6" r="9.2"/><circle cx="1063.9" cy="1158.0" r="9.2"/><circle cx="1057.4" cy="1144.0" r="9.2"/><circle cx="1091.7" cy="1162.3" r="9.2"/><circle cx="1087.3" cy="1147.2" r="9.2"/><circle cx="1091.0" cy="1153.6" r="9.2"/><circle cx="1088.0" cy="1139.0" r="9.2"/><circle cx="1073.8" cy="1118.6" r="9.2"/><circle cx="1061.4" cy="1126.9" r="9.2"/><circle cx="1076.6" cy="1124.6" r="9.2"/><circle cx="1076.2" cy="1126.0" r="9.2"/><circle cx="1082.3" cy="1114.0" r="9.2"/><circle cx="1082.8" cy="1116.4" r="9.2"/><circle cx="1071.1" cy="1122.9" r="9.2"/><circle cx="1059.0" cy="1117.9" r="9.2"/><circle cx="1070.6" cy="1124.4" r="9.2"/><circle cx="1063.7" cy="1117.2" r="9.2"/><circle cx="1076.9" cy="1128.7" r="9.2"/><circle cx="1059.9" cy="1137.4" r="9.2"/><circle cx="1073.6" cy="1108.2" r="9.2"/><circle cx="1082.0" cy="1120.9" r="9.2"/><circle cx="1068.2" cy="1116.2" r="9.2"/><circle cx="1062.2" cy="1112.5" r="9.2"/><circle cx="1058.1" cy="1125.3" r="9.2"/><circle cx="1058.5" cy="1130.4" r="9.2"/><circle cx="1086.2" cy="1133.5" r="9.2"/><circle cx="1086.4" cy="1122.8" r="9.2"/><circle cx="1054.1" cy="1122.6" r="9.2"/><circle cx="1079.3" cy="1119.8" r="9.2"/><circle cx="1064.3" cy="1126.3" r="9.2"/><circle cx="1064.2" cy="1130.8" r="9.2"/><circle cx="1064.5" cy="1115.3" r="9.2"/><circle cx="1065.7" cy="1123.8" r="9.2"/><circle cx="1066.1" cy="1116.7" r="9.2"/><circle cx="1063.4" cy="1114.4" r="9.2"/><circle cx="1055.9" cy="1108.3" r="9.2"/><circle cx="1080.9" cy="1112.6" r="9.2"/><circle cx="1079.3" cy="1119.6" r="9.2"/><circle cx="1057.0" cy="1119.5" r="9.2"/><circle cx="1067.7" cy="1110.4" r="9.2"/><circle cx="1056.6" cy="1118.1" r="9.2"/><circle cx="1056.8" cy="1117.2" r="9.2"/><circle cx="1056.1" cy="1115.7" r="9.2"/><circle cx="1086.3" cy="1121.0" r="9.2"/><circle cx="1087.1" cy="1122.2" r="9.2"/><circle cx="1086.2" cy="1131.7" r="9.2"/><circle cx="1082.3" cy="1108.7" r="9.2"/><circle cx="1081.6" cy="1107.9" r="9.2"/><circle cx="1076.9" cy="1105.9" r="9.2"/><circle cx="1079.0" cy="1104.6" r="9.2"/><circle cx="1078.6" cy="1089.7" r="9.2"/><circle cx="1065.9" cy="1104.0" r="9.2"/><circle cx="1064.0" cy="1081.7" r="9.2"/><circle cx="1066.9" cy="1105.5" r="9.2"/><circle cx="1080.6" cy="1082.6" r="9.2"/><circle cx="1059.2" cy="1096.9" r="9.2"/><circle cx="1086.9" cy="1085.0" r="9.2"/><circle cx="1066.6" cy="1083.5" r="9.2"/><circle cx="1061.1" cy="1080.2" r="9.2"/><circle cx="1065.5" cy="1100.7" r="9.2"/><circle cx="1063.4" cy="1074.1" r="9.2"/><circle cx="1077.1" cy="1104.5" r="9.2"/><circle cx="1068.9" cy="1082.2" r="9.2"/><circle cx="1079.6" cy="1108.0" r="9.2"/><circle cx="1090.2" cy="1081.6" r="9.2"/><circle cx="1061.9" cy="1086.6" r="9.2"/><circle cx="1080.1" cy="1086.2" r="9.2"/><circle cx="1084.3" cy="1084.4" r="9.2"/><circle cx="1087.5" cy="1096.2" r="9.2"/><circle cx="1071.6" cy="1092.9" r="9.2"/><circle cx="1083.3" cy="1090.6" r="9.2"/><circle cx="1087.3" cy="1093.4" r="9.2"/><circle cx="1082.8" cy="1102.5" r="9.2"/><circle cx="1072.2" cy="1079.3" r="9.2"/><circle cx="1072.1" cy="1107.4" r="9.2"/><circle cx="1088.2" cy="1092.6" r="9.2"/><circle cx="1080.6" cy="1092.4" r="9.2"/><circle cx="1065.9" cy="1081.4" r="9.2"/><circle cx="1073.2" cy="1086.6" r="9.2"/><circle cx="1064.5" cy="1098.9" r="9.2"/><circle cx="1079.0" cy="1098.4" r="9.2"/><circle cx="1058.9" cy="1086.2" r="9.2"/><circle cx="1060.6" cy="1078.9" r="9.2"/><circle cx="1055.9" cy="1101.8" r="9.2"/><circle cx="1058.9" cy="1088.2" r="9.2"/><circle cx="1060.1" cy="1085.9" r="9.2"/><circle cx="1090.8" cy="1087.4" r="9.2"/><circle cx="1086.2" cy="1100.6" r="9.2"/><circle cx="1090.3" cy="1102.5" r="9.2"/><circle cx="1087.1" cy="1093.7" r="9.2"/><circle cx="1097.5" cy="1072.4" r="9.2"/><circle cx="1078.8" cy="1074.3" r="9.2"/><circle cx="1079.9" cy="1052.2" r="9.2"/><circle cx="1092.2" cy="1049.9" r="9.2"/><circle cx="1081.7" cy="1052.3" r="9.2"/><circle cx="1068.9" cy="1067.4" r="9.2"/><circle cx="1102.3" cy="1062.2" r="9.2"/><circle cx="1096.0" cy="1052.7" r="9.2"/><circle cx="1086.8" cy="1079.5" r="9.2"/><circle cx="1094.1" cy="1067.9" r="9.2"/><circle cx="1091.5" cy="1060.9" r="9.2"/><circle cx="1072.3" cy="1066.1" r="9.2"/><circle cx="1077.8" cy="1073.6" r="9.2"/><circle cx="1094.5" cy="1077.0" r="9.2"/><circle cx="1085.6" cy="1080.4" r="9.2"/><circle cx="1070.2" cy="1066.7" r="9.2"/><circle cx="1089.9" cy="1048.1" r="9.2"/><circle cx="1091.2" cy="1062.3" r="9.2"/><circle cx="1082.1" cy="1063.7" r="9.2"/><circle cx="1085.6" cy="1076.7" r="9.2"/><circle cx="1087.5" cy="1068.6" r="9.2"/><circle cx="1084.7" cy="1048.7" r="9.2"/><circle cx="1082.6" cy="1063.1" r="9.2"/><circle cx="1098.1" cy="1053.5" r="9.2"/><circle cx="1080.7" cy="1071.0" r="9.2"/><circle cx="1078.6" cy="1076.9" r="9.2"/><circle cx="1070.0" cy="1068.6" r="9.2"/><circle cx="1088.5" cy="1063.9" r="9.2"/><circle cx="1084.1" cy="1072.7" r="9.2"/><circle cx="1088.8" cy="1072.0" r="9.2"/><circle cx="1087.8" cy="1081.8" r="9.2"/><circle cx="1078.9" cy="1059.5" r="9.2"/><circle cx="1071.9" cy="1061.0" r="9.2"/><circle cx="1082.8" cy="1052.3" r="9.2"/><circle cx="1077.2" cy="1056.9" r="9.2"/><circle cx="1065.7" cy="1068.3" r="9.2"/><circle cx="1086.8" cy="1048.1" r="9.2"/><circle cx="1081.3" cy="1051.8" r="9.2"/><circle cx="1091.3" cy="1082.9" r="9.2"/><circle cx="1096.0" cy="1072.5" r="9.2"/><circle cx="1104.7" cy="1060.1" r="9.2"/><circle cx="1103.2" cy="1063.3" r="9.2"/><circle cx="1106.1" cy="1063.9" r="9.2"/><circle cx="1099.0" cy="1067.6" r="9.2"/><circle cx="1119.6" cy="1043.5" r="9.2"/><circle cx="1113.6" cy="1040.9" r="9.2"/><circle cx="1110.7" cy="1039.6" r="9.2"/><circle cx="1116.8" cy="1027.8" r="9.2"/><circle cx="1101.6" cy="1046.2" r="9.2"/><circle cx="1107.7" cy="1047.6" r="9.2"/><circle cx="1105.0" cy="1028.6" r="9.2"/><circle cx="1103.8" cy="1048.0" r="9.2"/><circle cx="1109.2" cy="1045.3" r="9.2"/><circle cx="1102.5" cy="1033.7" r="9.2"/><circle cx="1120.4" cy="1044.4" r="9.2"/><circle cx="1101.0" cy="1050.3" r="9.2"/><circle cx="1113.4" cy="1039.7" r="9.2"/><circle cx="1109.2" cy="1040.0" r="9.2"/><circle cx="1126.0" cy="1036.5" r="9.2"/><circle cx="1112.1" cy="1046.9" r="9.2"/><circle cx="1117.4" cy="1042.0" r="9.2"/><circle cx="1114.9" cy="1022.8" r="9.2"/><circle cx="1098.0" cy="1040.9" r="9.2"/><circle cx="1122.7" cy="1040.9" r="9.2"/><circle cx="1102.2" cy="1045.2" r="9.2"/><circle cx="1121.5" cy="1036.0" r="9.2"/><circle cx="1116.8" cy="1045.2" r="9.2"/><circle cx="1113.4" cy="1024.6" r="9.2"/><circle cx="1117.2" cy="1027.1" r="9.2"/><circle cx="1105.2" cy="1029.8" r="9.2"/><circle cx="1109.4" cy="1026.3" r="9.2"/><circle cx="1111.7" cy="1020.9" r="9.2"/><circle cx="1109.6" cy="1025.4" r="9.2"/><circle cx="1091.6" cy="1039.5" r="9.2"/><circle cx="1106.8" cy="1054.5" r="9.2"/><circle cx="1115.1" cy="1045.1" r="9.2"/><circle cx="1119.4" cy="1044.7" r="9.2"/><circle cx="1124.5" cy="1040.2" r="9.2"/><circle cx="1117.5" cy="1046.0" r="9.2"/><circle cx="1115.1" cy="1046.6" r="9.2"/><circle cx="1145.9" cy="1006.5" r="9.2"/><circle cx="1129.6" cy="1014.6" r="9.2"/><circle cx="1134.8" cy="1015.0" r="9.2"/><circle cx="1140.4" cy="1014.9" r="9.2"/><circle cx="1125.6" cy="1037.2" r="9.2"/><circle cx="1122.2" cy="1023.4" r="9.2"/><circle cx="1131.8" cy="1012.7" r="9.2"/><circle cx="1146.4" cy="1019.9" r="9.2"/><circle cx="1125.9" cy="1030.1" r="9.2"/><circle cx="1125.2" cy="1028.3" r="9.2"/><circle cx="1121.4" cy="1024.2" r="9.2"/><circle cx="1135.0" cy="1022.7" r="9.2"/><circle cx="1145.2" cy="1025.8" r="9.2"/><circle cx="1129.4" cy="1021.2" r="9.2"/><circle cx="1129.9" cy="1030.6" r="9.2"/><circle cx="1128.9" cy="1018.1" r="9.2"/><circle cx="1125.9" cy="1025.1" r="9.2"/><circle cx="1145.4" cy="1013.9" r="9.2"/><circle cx="1145.1" cy="1014.9" r="9.2"/><circle cx="1135.8" cy="1015.2" r="9.2"/><circle cx="1135.7" cy="1026.7" r="9.2"/><circle cx="1123.0" cy="1027.6" r="9.2"/><circle cx="1126.3" cy="1021.6" r="9.2"/><circle cx="1127.8" cy="1018.4" r="9.2"/><circle cx="1133.4" cy="1011.4" r="9.2"/><circle cx="1125.5" cy="1021.4" r="9.2"/><circle cx="1122.1" cy="1019.5" r="9.2"/><circle cx="1116.5" cy="1020.1" r="9.2"/><circle cx="1123.6" cy="1012.7" r="9.2"/><circle cx="1137.8" cy="1006.9" r="9.2"/><circle cx="1118.6" cy="1021.4" r="9.2"/><circle cx="1138.1" cy="1031.0" r="9.2"/><circle cx="1127.2" cy="1037.6" r="9.2"/><circle cx="1145.1" cy="1028.5" r="9.2"/><circle cx="1129.9" cy="1035.8" r="9.2"/><circle cx="1165.8" cy="1015.8" r="9.2"/><circle cx="1170.3" cy="1006.4" r="9.2"/><circle cx="1176.0" cy="1002.5" r="9.2"/><circle cx="1175.6" cy="1004.0" r="9.2"/><circle cx="1178.6" cy="1006.6" r="9.2"/><circle cx="1168.7" cy="1011.7" r="9.2"/><circle cx="1161.6" cy="1018.1" r="9.2"/><circle cx="1162.4" cy="1010.2" r="9.2"/><circle cx="1157.0" cy="1009.9" r="9.2"/><circle cx="1173.4" cy="1011.7" r="9.2"/><circle cx="1166.2" cy="1006.7" r="9.2"/><circle cx="1180.3" cy="1004.5" r="9.2"/><circle cx="1171.8" cy="1004.0" r="9.2"/><circle cx="1161.1" cy="1004.2" r="9.2"/><circle cx="1178.5" cy="1010.8" r="9.2"/><circle cx="1154.3" cy="1007.3" r="9.2"/><circle cx="1153.6" cy="1003.2" r="9.2"/><circle cx="1159.1" cy="1005.3" r="9.2"/><circle cx="1175.2" cy="1006.0" r="9.2"/><circle cx="1163.6" cy="1001.9" r="9.2"/><circle cx="1152.8" cy="1002.2" r="9.2"/><circle cx="1176.2" cy="999.9" r="9.2"/><circle cx="1171.7" cy="999.5" r="9.2"/><circle cx="1159.9" cy="999.7" r="9.2"/><circle cx="1155.0" cy="1020.0" r="9.2"/><circle cx="1165.3" cy="1013.6" r="9.2"/><circle cx="1178.1" cy="1011.7" r="9.2"/><circle cx="1162.4" cy="1019.1" r="9.2"/><circle cx="1200.3" cy="999.6" r="9.2"/><circle cx="1183.2" cy="1003.3" r="9.2"/><circle cx="1207.7" cy="997.1" r="9.2"/><circle cx="1188.5" cy="1003.2" r="9.2"/><circle cx="1188.3" cy="997.7" r="9.2"/><circle cx="1184.5" cy="1004.1" r="9.2"/><circle cx="1208.8" cy="1000.4" r="9.2"/><circle cx="1200.2" cy="1003.2" r="9.2"/><circle cx="1207.2" cy="997.2" r="9.2"/><circle cx="1194.2" cy="1005.6" r="9.2"/><circle cx="1210.4" cy="999.2" r="9.2"/><circle cx="1200.7" cy="998.6" r="9.2"/><circle cx="1183.7" cy="996.5" r="9.2"/><circle cx="1200.1" cy="995.1" r="9.2"/><circle cx="1201.1" cy="997.5" r="9.2"/><circle cx="1205.5" cy="996.3" r="9.2"/><circle cx="1182.2" cy="998.9" r="9.2"/><circle cx="1199.5" cy="1004.8" r="9.2"/><circle cx="1197.1" cy="1004.2" r="9.2"/><circle cx="1207.9" cy="1002.6" r="9.2"/><circle cx="1185.6" cy="1008.1" r="9.2"/><circle cx="1204.8" cy="1002.9" r="9.2"/><circle cx="1215.3" cy="996.9" r="9.2"/><circle cx="1225.2" cy="995.9" r="9.2"/><circle cx="1214.0" cy="995.7" r="9.2"/><circle cx="1238.7" cy="997.2" r="9.2"/><circle cx="1237.5" cy="995.3" r="9.2"/><circle cx="1217.8" cy="999.6" r="9.2"/><circle cx="1212.3" cy="995.9" r="9.2"/><circle cx="1230.2" cy="996.6" r="9.2"/><circle cx="1214.1" cy="994.8" r="9.2"/><circle cx="1239.2" cy="996.0" r="9.2"/><circle cx="1223.8" cy="996.5" r="9.2"/><circle cx="1212.6" cy="996.4" r="9.2"/><circle cx="1225.4" cy="996.2" r="9.2"/><circle cx="1238.4" cy="998.2" r="9.2"/><circle cx="1215.3" cy="999.3" r="9.2"/><circle cx="1234.5" cy="998.9" r="9.2"/><circle cx="1239.8" cy="996.9" r="9.2"/>
</g>
<g fill="#aec7e8" fill-opacity="0.6">
<circle cx="1207.2" cy="994.5" r="9.2"/><circle cx="1191.6" cy="998.2" r="9.2"/><circle cx="1240.3" cy="997.4" r="9.2"/><circle cx="1225.0" cy="996.1" r="9.2"/><circle cx="1226.4" cy="996.5" r="9.2"/><circle cx="1259.8" cy="1011.9" r="9.2"/><circle cx="1266.0" cy="1011.8" r="9.2"/><circle cx="1244.5" cy="1009.7" r="9.2"/><circle cx="1296.0" cy="985.1" r="9.2"/><circle cx="1297.2" cy="987.9" r="9.2"/><circle cx="1281.6" cy="994.2" r="9.2"/><circle cx="1282.7" cy="1010.4" r="9.2"/><circle cx="1310.7" cy="1004.6" r="9.2"/><circle cx="1349.5" cy="977.5" r="9.2"/><circle cx="1341.0" cy="978.3" r="9.2"/><circle cx="1361.3" cy="973.4" r="9.2"/><circle cx="1365.1" cy="990.4" r="9.2"/><circle cx="1365.0" cy="991.0" r="9.2"/><circle cx="1381.0" cy="965.8" r="9.2"/><circle cx="1381.9" cy="988.2" r="9.2"/><circle cx="1396.6" cy="954.5" r="9.2"/><circle cx="1419.9" cy="980.3" r="9.2"/><circle cx="1450.8" cy="947.1" r="9.2"/><circle cx="1450.6" cy="948.6" r="9.2"/><circle cx="1433.9" cy="952.3" r="9.2"/><circle cx="1429.7" cy="977.0" r="9.2"/><circle cx="1444.0" cy="972.2" r="9.2"/><circle cx="1435.1" cy="980.2" r="9.2"/><circle cx="1467.8" cy="966.4" r="9.2"/><circle cx="1515.8" cy="933.3" r="9.2"/><circle cx="1487.2" cy="939.7" r="9.2"/><circle cx="1486.2" cy="940.6" r="9.2"/><circle cx="1496.1" cy="936.6" r="9.2"/><circle cx="1517.6" cy="954.3" r="9.2"/><circle cx="1507.0" cy="956.9" r="9.2"/><circle cx="1564.0" cy="903.4" r="9.2"/><circle cx="1541.9" cy="923.4" r="9.2"/><circle cx="1532.3" cy="926.4" r="9.2"/><circle cx="1539.7" cy="947.1" r="9.2"/><circle cx="1585.3" cy="898.1" r="9.2"/><circle cx="1577.5" cy="900.6" r="9.2"/><circle cx="1578.1" cy="904.1" r="9.2"/><circle cx="1588.9" cy="894.1" r="9.2"/><circle cx="1594.7" cy="915.7" r="9.2"/><circle cx="1584.2" cy="925.0" r="9.2"/><circle cx="1595.9" cy="887.9" r="9.2"/><circle cx="1610.8" cy="908.5" r="9.2"/><circle cx="1622.5" cy="894.1" r="9.2"/><circle cx="1625.5" cy="893.4" r="9.2"/><circle cx="1650.5" cy="865.2" r="9.2"/><circle cx="1639.9" cy="875.6" r="9.2"/><circle cx="1649.7" cy="861.7" r="9.2"/><circle cx="1648.1" cy="840.3" r="9.2"/><circle cx="1641.6" cy="845.6" r="9.2"/><circle cx="1594.0" cy="734.8" r="9.2"/><circle cx="1578.0" cy="842.6" r="9.2"/><circle cx="1559.0" cy="857.4" r="9.2"/>
</g>
<g fill="none" stroke="#aec7e8" stroke-opacity="0.72" stroke-width="2.2">
<circle cx="1207.2" cy="994.5" r="8.1"/><circle cx="1191.6" cy="998.2" r="8.1"/><circle cx="1240.3" cy="997.4" r="8.1"/><circle cx="1225.0" cy="996.1" r="8.1"/><circle cx="1226.4" cy="996.5" r="8.1"/><circle cx="1259.8" cy="1011.9" r="8.1"/><circle cx="1266.0" cy="1011.8" r="8.1"/><circle cx="1244.5" cy="1009.7" r="8.1"/><circle cx="1296.0" cy="985.1" r="8.1"/><circle cx="1297.2" cy="987.9" r="8.1"/><circle cx="1281.6" cy="994.2" r="8.1"/><circle cx="1282.7" cy="1010.4" r="8.1"/><circle cx="1310.7" cy="1004.6" r="8.1"/><circle cx="1349.5" cy="977.5" r="8.1"/><circle cx="1341.0" cy="978.3" r="8.1"/><circle cx="1361.3" cy="973.4" r="8.1"/><circle cx="1365.1" cy="990.4" r="8.1"/><circle cx="1365.0" cy="991.0" r="8.1"/><circle cx="1381.0" cy="965.8" r="8.1"/><circle cx="1381.9" cy="988.2" r="8.1"/><circle cx="1396.6" cy="954.5" r="8.1"/><circle cx="1419.9" cy="980.3" r="8.1"/><circle cx="1450.8" cy="947.1" r="8.1"/><circle cx="1450.6" cy="948.6" r="8.1"/><circle cx="1433.9" cy="952.3" r="8.1"/><circle cx="1429.7" cy="977.0" r="8.1"/><circle cx="1444.0" cy="972.2" r="8.1"/><circle cx="1435.1" cy="980.2" r="8.1"/><circle cx="1467.8" cy="966.4" r="8.1"/><circle cx="1515.8" cy="933.3" r="8.1"/><circle cx="1487.2" cy="939.7" r="8.1"/><circle cx="1486.2" cy="940.6" r="8.1"/><circle cx="1496.1" cy="936.6" r="8.1"/><circle cx="1517.6" cy="954.3" r="8.1"/><circle cx="1507.0" cy="956.9" r="8.1"/><circle cx="1564.0" cy="903.4" r="8.1"/><circle cx="1541.9" cy="923.4" r="8.1"/><circle cx="1532.3" cy="926.4" r="8.1"/><circle cx="1539.7" cy="947.1" r="8.1"/><circle cx="1585.3" cy="898.1" r="8.1"/><circle cx="1577.5" cy="900.6" r="8.1"/><circle cx="1578.1" cy="904.1" r="8.1"/><circle cx="1588.9" cy="894.1" r="8.1"/><circle cx="1594.7" cy="915.7" r="8.1"/><circle cx="1584.2" cy="925.0" r="8.1"/><circle cx="1595.9" cy="887.9" r="8.1"/><circle cx="1610.8" cy="908.5" r="8.1"/><circle cx="1622.5" cy="894.1" r="8.1"/><circle cx="1625.5" cy="893.4" r="8.1"/><circle cx="1650.5" cy="865.2" r="8.1"/><circle cx="1639.9" cy="875.6" r="8.1"/><circle cx="1649.7" cy="861.7" r="8.1"/><circle cx="1648.1" cy="840.3" r="8.1"/><circle cx="1641.6" cy="845.6" r="8.1"/><circle cx="1594.0" cy="734.8" r="8.1"/><circle cx="1578.0" cy="842.6" r="8.1"/><circle cx="1559.0" cy="857.4" r="8.1"/>
</g>
<g fill="#aec7e8" fill-opacity="0.7">
<circle cx="1590.0" cy="838.0" r="9.2"/><circle cx="1565.0" cy="880.0" r="9.2"/><circle cx="1594.0" cy="829.0" r="9.2"/>
</g>
<g fill="none" stroke="#aec7e8" stroke-opacity="0.84" stroke-width="2.2">
<circle cx="1590.0" cy="838.0" r="8.1"/><circle cx="1565.0" cy="880.0" r="8.1"/><circle cx="1594.0" cy="829.0" r="8.1"/>
</g>
<g fill="#aec7e8" fill-opacity="0.8">
<circle cx="1598.0" cy="850.0" r="9.2"/><circle cx="1585.0" cy="860.0" r="9.2"/><circle cx="1572.0" cy="868.0" r="9.2"/><circle cx="1603.0" cy="835.0" r="9.2"/><circle cx="1610.0" cy="869.5" r="9.2"/><circle cx="1588.7" cy="848.0" r="9.2"/><circle cx="1658.8" cy="848.0" r="9.2"/><circle cx="1648.0" cy="858.8" r="9.2"/>
</g>
<g fill="none" stroke="#aec7e8" stroke-opacity="0.96" stroke-width="2.2">
<circle cx="1598.0" cy="850.0" r="8.1"/><circle cx="1585.0" cy="860.0" r="8.1"/><circle cx="1572.0" cy="868.0" r="8.1"/><circle cx="1603.0" cy="835.0" r="8.1"/><circle cx="1610.0" cy="869.5" r="8.1"/><circle cx="1588.7" cy="848.0" r="8.1"/><circle cx="1658.8" cy="848.0" r="8.1"/><circle cx="1648.0" cy="858.8" r="8.1"/>
</g>
<g fill="#aec7e8" fill-opacity="0.9">
<circle cx="978.9" cy="1480.4" r="9.2"/><circle cx="1004.9" cy="1475.2" r="9.2"/><circle cx="1588.7" cy="786.0" r="9.2"/>
</g>
<g fill="none" stroke="#aec7e8" stroke-opacity="1.00" stroke-width="2.2">
<circle cx="978.9" cy="1480.4" r="8.1"/><circle cx="1004.9" cy="1475.2" r="8.1"/><circle cx="1588.7" cy="786.0" r="8.1"/>
</g>
<g fill="#aec7e8">
<circle cx="1192.0" cy="996.3" r="9.2"/><circle cx="1208.0" cy="997.3" r="9.2"/><circle cx="1192.1" cy="995.1" r="9.2"/><circle cx="1211.3" cy="993.2" r="9.2"/><circle cx="1197.1" cy="998.1" r="9.2"/><circle cx="1193.8" cy="996.7" r="9.2"/><circle cx="1201.4" cy="998.2" r="9.2"/><circle cx="1198.6" cy="995.3" r="9.2"/><circle cx="1187.0" cy="995.3" r="9.2"/><circle cx="1201.9" cy="993.4" r="9.2"/><circle cx="1187.4" cy="994.0" r="9.2"/><circle cx="1186.6" cy="996.7" r="9.2"/><circle cx="1204.0" cy="997.9" r="9.2"/><circle cx="1188.9" cy="998.1" r="9.2"/><circle cx="1185.1" cy="997.0" r="9.2"/><circle cx="1224.4" cy="997.5" r="9.2"/><circle cx="1225.9" cy="995.6" r="9.2"/><circle cx="1212.2" cy="1000.9" r="9.2"/><circle cx="1234.8" cy="1004.5" r="9.2"/><circle cx="1219.5" cy="996.1" r="9.2"/><circle cx="1229.5" cy="997.9" r="9.2"/><circle cx="1225.2" cy="1004.0" r="9.2"/><circle cx="1223.5" cy="997.7" r="9.2"/><circle cx="1241.7" cy="1004.8" r="9.2"/><circle cx="1213.4" cy="996.2" r="9.2"/><circle cx="1232.9" cy="996.6" r="9.2"/><circle cx="1222.1" cy="1000.8" r="9.2"/><circle cx="1238.2" cy="1003.7" r="9.2"/><circle cx="1224.7" cy="994.5" r="9.2"/><circle cx="1218.7" cy="993.2" r="9.2"/><circle cx="1219.4" cy="992.9" r="9.2"/><circle cx="1222.4" cy="1002.2" r="9.2"/><circle cx="1233.6" cy="1006.8" r="9.2"/><circle cx="1219.5" cy="1001.6" r="9.2"/><circle cx="1215.1" cy="1002.6" r="9.2"/><circle cx="1211.9" cy="1000.2" r="9.2"/><circle cx="1237.2" cy="1007.0" r="9.2"/><circle cx="1251.8" cy="1005.1" r="9.2"/><circle cx="1257.4" cy="998.6" r="9.2"/><circle cx="1258.2" cy="997.5" r="9.2"/><circle cx="1248.9" cy="1002.4" r="9.2"/><circle cx="1257.1" cy="1006.6" r="9.2"/><circle cx="1258.3" cy="1004.3" r="9.2"/><circle cx="1252.1" cy="1002.9" r="9.2"/><circle cx="1254.0" cy="1009.3" r="9.2"/><circle cx="1267.9" cy="1004.2" r="9.2"/><circle cx="1256.2" cy="997.9" r="9.2"/><circle cx="1258.3" cy="1001.2" r="9.2"/><circle cx="1245.7" cy="1001.9" r="9.2"/><circle cx="1261.1" cy="997.5" r="9.2"/><circle cx="1268.3" cy="1008.2" r="9.2"/><circle cx="1257.2" cy="995.8" r="9.2"/><circle cx="1265.7" cy="1007.9" r="9.2"/><circle cx="1262.6" cy="996.0" r="9.2"/><circle cx="1268.4" cy="1004.6" r="9.2"/><circle cx="1253.3" cy="997.2" r="9.2"/><circle cx="1245.3" cy="993.5" r="9.2"/><circle cx="1251.2" cy="996.6" r="9.2"/><circle cx="1257.0" cy="996.4" r="9.2"/><circle cx="1265.1" cy="997.1" r="9.2"/><circle cx="1263.8" cy="992.3" r="9.2"/><circle cx="1270.2" cy="1010.7" r="9.2"/><circle cx="1256.8" cy="1013.9" r="9.2"/><circle cx="1254.3" cy="1017.3" r="9.2"/><circle cx="1272.6" cy="996.1" r="9.2"/><circle cx="1287.5" cy="996.7" r="9.2"/><circle cx="1285.7" cy="1010.7" r="9.2"/><circle cx="1276.2" cy="996.6" r="9.2"/><circle cx="1280.5" cy="1005.7" r="9.2"/><circle cx="1278.1" cy="992.3" r="9.2"/><circle cx="1289.0" cy="998.2" r="9.2"/><circle cx="1280.1" cy="1001.9" r="9.2"/><circle cx="1292.8" cy="1000.5" r="9.2"/><circle cx="1292.1" cy="1000.9" r="9.2"/><circle cx="1299.9" cy="1007.7" r="9.2"/><circle cx="1282.4" cy="998.5" r="9.2"/><circle cx="1299.0" cy="994.5" r="9.2"/><circle cx="1295.4" cy="1003.0" r="9.2"/><circle cx="1295.5" cy="1008.5" r="9.2"/><circle cx="1296.6" cy="991.9" r="9.2"/><circle cx="1291.7" cy="999.6" r="9.2"/><circle cx="1289.5" cy="997.6" r="9.2"/><circle cx="1282.5" cy="1006.7" r="9.2"/><circle cx="1288.1" cy="995.1" r="9.2"/><circle cx="1279.8" cy="998.6" r="9.2"/><circle cx="1278.3" cy="1002.7" r="9.2"/><circle cx="1273.5" cy="986.4" r="9.2"/><circle cx="1278.8" cy="993.0" r="9.2"/><circle cx="1290.6" cy="990.8" r="9.2"/><circle cx="1278.6" cy="1012.3" r="9.2"/><circle cx="1304.3" cy="1007.1" r="9.2"/><circle cx="1302.5" cy="1004.4" r="9.2"/><circle cx="1301.1" cy="1007.3" r="9.2"/><circle cx="1286.9" cy="1010.1" r="9.2"/><circle cx="1313.6" cy="991.0" r="9.2"/><circle cx="1329.1" cy="998.1" r="9.2"/><circle cx="1311.3" cy="993.3" r="9.2"/><circle cx="1323.2" cy="998.0" r="9.2"/><circle cx="1332.4" cy="988.0" r="9.2"/><circle cx="1324.5" cy="993.2" r="9.2"/><circle cx="1325.7" cy="984.6" r="9.2"/><circle cx="1306.6" cy="988.6" r="9.2"/><circle cx="1330.3" cy="985.7" r="9.2"/><circle cx="1316.2" cy="986.5" r="9.2"/><circle cx="1310.7" cy="985.7" r="9.2"/><circle cx="1318.6" cy="986.3" r="9.2"/><circle cx="1321.1" cy="988.4" r="9.2"/><circle cx="1310.0" cy="995.4" r="9.2"/><circle cx="1313.1" cy="990.1" r="9.2"/><circle cx="1302.7" cy="988.7" r="9.2"/><circle cx="1329.3" cy="987.1" r="9.2"/><circle cx="1304.1" cy="990.7" r="9.2"/><circle cx="1320.2" cy="1003.5" r="9.2"/><circle cx="1311.1" cy="1003.1" r="9.2"/><circle cx="1317.5" cy="992.2" r="9.2"/><circle cx="1327.2" cy="989.4" r="9.2"/><circle cx="1302.9" cy="988.9" r="9.2"/><circle cx="1306.5" cy="986.2" r="9.2"/><circle cx="1305.3" cy="983.3" r="9.2"/><circle cx="1301.5" cy="987.4" r="9.2"/><circle cx="1303.1" cy="988.8" r="9.2"/><circle cx="1325.1" cy="983.0" r="9.2"/><circle cx="1334.0" cy="1000.2" r="9.2"/><circle cx="1305.7" cy="1006.3" r="9.2"/><circle cx="1330.1" cy="1000.8" r="9.2"/><circle cx="1307.4" cy="1005.7" r="9.2"/><circle cx="1328.1" cy="1001.9" r="9.2"/><circle cx="1333.6" cy="987.9" r="9.2"/><circle cx="1332.9" cy="981.7" r="9.2"/><circle cx="1364.3" cy="988.9" r="9.2"/><circle cx="1354.0" cy="974.0" r="9.2"/><circle cx="1336.5" cy="980.1" r="9.2"/><circle cx="1351.8" cy="986.6" r="9.2"/><circle cx="1343.1" cy="986.8" r="9.2"/><circle cx="1362.0" cy="982.1" r="9.2"/><circle cx="1359.4" cy="991.2" r="9.2"/><circle cx="1355.8" cy="974.5" r="9.2"/><circle cx="1347.6" cy="995.0" r="9.2"/><circle cx="1361.8" cy="988.2" r="9.2"/><circle cx="1346.8" cy="975.9" r="9.2"/><circle cx="1356.6" cy="987.1" r="9.2"/><circle cx="1358.7" cy="973.4" r="9.2"/><circle cx="1351.4" cy="981.7" r="9.2"/><circle cx="1348.0" cy="990.5" r="9.2"/><circle cx="1348.9" cy="995.7" r="9.2"/><circle cx="1359.5" cy="974.6" r="9.2"/><circle cx="1357.3" cy="988.7" r="9.2"/><circle cx="1346.6" cy="985.7" r="9.2"/><circle cx="1358.9" cy="983.0" r="9.2"/><circle cx="1345.1" cy="987.7" r="9.2"/><circle cx="1332.6" cy="981.8" r="9.2"/><circle cx="1334.6" cy="981.0" r="9.2"/><circle cx="1356.4" cy="974.6" r="9.2"/><circle cx="1341.7" cy="997.6" r="9.2"/><circle cx="1350.0" cy="996.0" r="9.2"/><circle cx="1364.6" cy="998.7" r="9.2"/><circle cx="1360.9" cy="994.7" r="9.2"/><circle cx="1365.7" cy="985.1" r="9.2"/><circle cx="1378.0" cy="978.1" r="9.2"/><circle cx="1367.3" cy="984.1" r="9.2"/><circle cx="1379.1" cy="973.7" r="9.2"/><circle cx="1395.6" cy="986.8" r="9.2"/><circle cx="1383.5" cy="989.2" r="9.2"/><circle cx="1377.0" cy="986.1" r="9.2"/><circle cx="1387.0" cy="985.0" r="9.2"/><circle cx="1393.5" cy="979.0" r="9.2"/><circle cx="1368.8" cy="973.9" r="9.2"/><circle cx="1385.3" cy="968.4" r="9.2"/><circle cx="1379.1" cy="966.9" r="9.2"/><circle cx="1371.1" cy="974.4" r="9.2"/><circle cx="1374.9" cy="981.9" r="9.2"/><circle cx="1370.7" cy="968.7" r="9.2"/><circle cx="1364.6" cy="975.0" r="9.2"/><circle cx="1387.7" cy="985.5" r="9.2"/><circle cx="1385.6" cy="969.0" r="9.2"/><circle cx="1365.0" cy="976.2" r="9.2"/><circle cx="1375.8" cy="981.5" r="9.2"/><circle cx="1370.5" cy="971.7" r="9.2"/><circle cx="1365.7" cy="972.2" r="9.2"/><circle cx="1379.0" cy="976.2" r="9.2"/><circle cx="1376.8" cy="969.5" r="9.2"/><circle cx="1369.4" cy="988.7" r="9.2"/><circle cx="1390.3" cy="964.4" r="9.2"/><circle cx="1379.4" cy="965.5" r="9.2"/><circle cx="1379.1" cy="966.8" r="9.2"/><circle cx="1381.6" cy="965.4" r="9.2"/><circle cx="1373.0" cy="967.2" r="9.2"/><circle cx="1377.3" cy="963.9" r="9.2"/><circle cx="1367.0" cy="991.1" r="9.2"/><circle cx="1386.5" cy="987.2" r="9.2"/><circle cx="1380.4" cy="986.9" r="9.2"/><circle cx="1396.8" cy="987.4" r="9.2"/><circle cx="1396.9" cy="987.1" r="9.2"/><circle cx="1399.5" cy="981.1" r="9.2"/><circle cx="1398.0" cy="986.0" r="9.2"/><circle cx="1417.7" cy="975.3" r="9.2"/><circle cx="1423.1" cy="970.1" r="9.2"/><circle cx="1423.4" cy="964.5" r="9.2"/><circle cx="1420.4" cy="964.3" r="9.2"/><circle cx="1397.9" cy="969.9" r="9.2"/><circle cx="1408.0" cy="979.6" r="9.2"/><circle cx="1417.6" cy="955.7" r="9.2"/><circle cx="1407.2" cy="972.2" r="9.2"/><circle cx="1426.1" cy="972.5" r="9.2"/><circle cx="1401.1" cy="986.2" r="9.2"/><circle cx="1407.7" cy="958.0" r="9.2"/><circle cx="1402.7" cy="976.5" r="9.2"/><circle cx="1408.1" cy="964.8" r="9.2"/><circle cx="1402.8" cy="964.8" r="9.2"/><circle cx="1411.8" cy="968.0" r="9.2"/><circle cx="1425.0" cy="967.4" r="9.2"/><circle cx="1396.2" cy="963.1" r="9.2"/><circle cx="1401.6" cy="983.3" r="9.2"/><circle cx="1418.8" cy="966.9" r="9.2"/><circle cx="1399.1" cy="974.9" r="9.2"/><circle cx="1400.4" cy="976.0" r="9.2"/><circle cx="1425.2" cy="970.9" r="9.2"/><circle cx="1400.4" cy="981.6" r="9.2"/><circle cx="1403.6" cy="979.9" r="9.2"/><circle cx="1399.4" cy="979.5" r="9.2"/><circle cx="1403.9" cy="965.8" r="9.2"/><circle cx="1412.1" cy="966.2" r="9.2"/><circle cx="1412.6" cy="980.4" r="9.2"/><circle cx="1407.4" cy="959.2" r="9.2"/><circle cx="1392.4" cy="961.0" r="9.2"/><circle cx="1417.7" cy="954.6" r="9.2"/><circle cx="1408.0" cy="958.7" r="9.2"/><circle cx="1399.4" cy="953.6" r="9.2"/><circle cx="1402.7" cy="984.2" r="9.2"/><circle cx="1422.1" cy="985.0" r="9.2"/><circle cx="1427.4" cy="977.9" r="9.2"/><circle cx="1403.6" cy="982.0" r="9.2"/><circle cx="1414.0" cy="982.4" r="9.2"/><circle cx="1451.1" cy="970.9" r="9.2"/><circle cx="1443.5" cy="957.9" r="9.2"/><circle cx="1427.6" cy="966.3" r="9.2"/><circle cx="1426.9" cy="961.5" r="9.2"/><circle cx="1430.0" cy="956.9" r="9.2"/><circle cx="1423.6" cy="955.1" r="9.2"/><circle cx="1428.1" cy="958.2" r="9.2"/><circle cx="1435.6" cy="976.4" r="9.2"/><circle cx="1438.8" cy="959.3" r="9.2"/><circle cx="1425.1" cy="954.6" r="9.2"/><circle cx="1435.9" cy="968.6" r="9.2"/><circle cx="1444.1" cy="965.8" r="9.2"/><circle cx="1431.2" cy="964.9" r="9.2"/><circle cx="1449.4" cy="959.5" r="9.2"/><circle cx="1435.3" cy="966.2" r="9.2"/><circle cx="1453.7" cy="967.2" r="9.2"/><circle cx="1427.6" cy="952.7" r="9.2"/><circle cx="1443.5" cy="951.9" r="9.2"/><circle cx="1448.3" cy="964.8" r="9.2"/><circle cx="1448.5" cy="958.8" r="9.2"/><circle cx="1452.7" cy="965.1" r="9.2"/><circle cx="1452.0" cy="971.0" r="9.2"/><circle cx="1437.0" cy="971.5" r="9.2"/><circle cx="1447.0" cy="965.7" r="9.2"/><circle cx="1437.5" cy="967.5" r="9.2"/><circle cx="1442.4" cy="951.4" r="9.2"/><circle cx="1448.9" cy="950.1" r="9.2"/><circle cx="1432.5" cy="953.6" r="9.2"/><circle cx="1442.2" cy="944.6" r="9.2"/><circle cx="1445.4" cy="947.5" r="9.2"/><circle cx="1433.1" cy="951.2" r="9.2"/><circle cx="1454.2" cy="970.4" r="9.2"/><circle cx="1447.1" cy="971.0" r="9.2"/><circle cx="1443.8" cy="972.3" r="9.2"/><circle cx="1474.0" cy="945.1" r="9.2"/><circle cx="1474.0" cy="948.3" r="9.2"/><circle cx="1460.1" cy="958.9" r="9.2"/><circle cx="1469.1" cy="946.8" r="9.2"/><circle cx="1475.1" cy="957.6" r="9.2"/><circle cx="1480.2" cy="965.6" r="9.2"/><circle cx="1472.2" cy="952.4" r="9.2"/><circle cx="1480.6" cy="960.2" r="9.2"/><circle cx="1463.9" cy="966.3" r="9.2"/><circle cx="1472.7" cy="949.8" r="9.2"/><circle cx="1459.3" cy="946.3" r="9.2"/><circle cx="1467.7" cy="950.4" r="9.2"/><circle cx="1461.4" cy="951.7" r="9.2"/><circle cx="1458.2" cy="958.0" r="9.2"/><circle cx="1461.0" cy="952.6" r="9.2"/><circle cx="1462.1" cy="957.9" r="9.2"/><circle cx="1476.1" cy="946.4" r="9.2"/><circle cx="1478.8" cy="964.0" r="9.2"/><circle cx="1470.9" cy="957.3" r="9.2"/><circle cx="1474.1" cy="956.5" r="9.2"/><circle cx="1473.9" cy="966.4" r="9.2"/><circle cx="1474.0" cy="949.4" r="9.2"/><circle cx="1458.0" cy="969.1" r="9.2"/><circle cx="1462.3" cy="946.3" r="9.2"/><circle cx="1461.8" cy="946.2" r="9.2"/><circle cx="1475.7" cy="942.6" r="9.2"/><circle cx="1460.8" cy="946.8" r="9.2"/><circle cx="1477.8" cy="938.3" r="9.2"/><circle cx="1460.2" cy="968.3" r="9.2"/><circle cx="1480.6" cy="964.1" r="9.2"/><circle cx="1458.8" cy="969.5" r="9.2"/><circle cx="1460.2" cy="969.1" r="9.2"/><circle cx="1536.4" cy="947.9" r="9.2"/><circle cx="1533.1" cy="946.9" r="9.2"/><circle cx="1528.2" cy="928.8" r="9.2"/><circle cx="1507.9" cy="948.5" r="9.2"/><circle cx="1518.6" cy="945.7" r="9.2"/><circle cx="1516.9" cy="954.1" r="9.2"/><circle cx="1485.7" cy="953.5" r="9.2"/><circle cx="1529.6" cy="928.7" r="9.2"/><circle cx="1489.7" cy="961.6" r="9.2"/><circle cx="1529.4" cy="928.6" r="9.2"/><circle cx="1485.1" cy="962.0" r="9.2"/><circle cx="1518.1" cy="943.5" r="9.2"/><circle cx="1513.9" cy="950.7" r="9.2"/><circle cx="1521.1" cy="930.3" r="9.2"/><circle cx="1486.8" cy="960.5" r="9.2"/><circle cx="1535.6" cy="945.5" r="9.2"/><circle cx="1501.7" cy="943.9" r="9.2"/><circle cx="1496.1" cy="937.3" r="9.2"/><circle cx="1520.8" cy="936.6" r="9.2"/><circle cx="1512.6" cy="945.4" r="9.2"/><circle cx="1500.2" cy="953.0" r="9.2"/><circle cx="1503.5" cy="940.8" r="9.2"/><circle cx="1526.3" cy="933.0" r="9.2"/><circle cx="1487.2" cy="945.9" r="9.2"/><circle cx="1508.7" cy="953.1" r="9.2"/><circle cx="1497.0" cy="942.8" r="9.2"/><circle cx="1514.5" cy="938.3" r="9.2"/><circle cx="1507.4" cy="940.2" r="9.2"/><circle cx="1526.1" cy="933.2" r="9.2"/><circle cx="1492.0" cy="945.8" r="9.2"/><circle cx="1500.3" cy="954.3" r="9.2"/><circle cx="1519.2" cy="949.8" r="9.2"/><circle cx="1507.1" cy="935.9" r="9.2"/><circle cx="1520.3" cy="936.3" r="9.2"/><circle cx="1492.0" cy="948.8" r="9.2"/><circle cx="1533.4" cy="935.4" r="9.2"/><circle cx="1503.1" cy="958.2" r="9.2"/><circle cx="1533.6" cy="935.8" r="9.2"/><circle cx="1490.4" cy="959.2" r="9.2"/><circle cx="1522.0" cy="938.0" r="9.2"/><circle cx="1522.7" cy="938.8" r="9.2"/><circle cx="1497.0" cy="951.9" r="9.2"/><circle cx="1520.7" cy="941.7" r="9.2"/><circle cx="1521.8" cy="930.4" r="9.2"/><circle cx="1507.0" cy="943.5" r="9.2"/><circle cx="1487.5" cy="963.5" r="9.2"/><circle cx="1486.5" cy="944.9" r="9.2"/><circle cx="1526.0" cy="932.5" r="9.2"/><circle cx="1485.8" cy="942.9" r="9.2"/><circle cx="1498.0" cy="939.6" r="9.2"/><circle cx="1531.3" cy="929.8" r="9.2"/><circle cx="1518.5" cy="930.4" r="9.2"/><circle cx="1528.3" cy="931.9" r="9.2"/><circle cx="1530.6" cy="928.6" r="9.2"/><circle cx="1499.6" cy="961.3" r="9.2"/><circle cx="1486.1" cy="966.7" r="9.2"/><circle cx="1508.9" cy="956.5" r="9.2"/><circle cx="1502.1" cy="958.9" r="9.2"/><circle cx="1496.8" cy="961.3" r="9.2"/><circle cx="1509.6" cy="958.2" r="9.2"/><circle cx="1496.5" cy="960.1" r="9.2"/><circle cx="1517.9" cy="952.3" r="9.2"/><circle cx="1510.6" cy="955.7" r="9.2"/><circle cx="1560.4" cy="922.0" r="9.2"/><circle cx="1558.5" cy="934.6" r="9.2"/><circle cx="1552.9" cy="917.0" r="9.2"/><circle cx="1549.1" cy="934.1" r="9.2"/><circle cx="1533.6" cy="929.7" r="9.2"/><circle cx="1536.3" cy="938.2" r="9.2"/><circle cx="1534.6" cy="932.6" r="9.2"/><circle cx="1537.7" cy="938.6" r="9.2"/><circle cx="1546.0" cy="920.4" r="9.2"/><circle cx="1544.0" cy="936.6" r="9.2"/><circle cx="1537.4" cy="933.0" r="9.2"/><circle cx="1532.8" cy="928.4" r="9.2"/><circle cx="1565.5" cy="912.6" r="9.2"/><circle cx="1549.2" cy="934.7" r="9.2"/><circle cx="1559.6" cy="936.1" r="9.2"/><circle cx="1562.8" cy="928.3" r="9.2"/><circle cx="1550.6" cy="924.5" r="9.2"/><circle cx="1557.6" cy="916.3" r="9.2"/><circle cx="1547.1" cy="937.4" r="9.2"/><circle cx="1543.7" cy="928.2" r="9.2"/><circle cx="1566.0" cy="911.4" r="9.2"/><circle cx="1556.2" cy="932.4" r="9.2"/><circle cx="1539.7" cy="943.1" r="9.2"/><circle cx="1575.0" cy="921.3" r="9.2"/><circle cx="1555.3" cy="931.0" r="9.2"/><circle cx="1560.9" cy="921.7" r="9.2"/><circle cx="1576.6" cy="926.0" r="9.2"/><circle cx="1570.3" cy="910.3" r="9.2"/><circle cx="1543.0" cy="928.3" r="9.2"/><circle cx="1547.9" cy="924.8" r="9.2"/><circle cx="1562.3" cy="930.8" r="9.2"/><circle cx="1547.5" cy="936.7" r="9.2"/><circle cx="1563.6" cy="929.5" r="9.2"/><circle cx="1561.0" cy="922.6" r="9.2"/><circle cx="1550.1" cy="927.3" r="9.2"/><circle cx="1559.6" cy="911.8" r="9.2"/><circle cx="1545.4" cy="932.3" r="9.2"/><circle cx="1561.8" cy="911.7" r="9.2"/><circle cx="1550.2" cy="917.0" r="9.2"/><circle cx="1557.8" cy="914.7" r="9.2"/><circle cx="1542.4" cy="924.1" r="9.2"/><circle cx="1543.3" cy="921.6" r="9.2"/><circle cx="1533.6" cy="926.3" r="9.2"/><circle cx="1548.1" cy="942.4" r="9.2"/><circle cx="1544.7" cy="944.9" r="9.2"/><circle cx="1564.0" cy="936.4" r="9.2"/><circle cx="1565.4" cy="936.2" r="9.2"/><circle cx="1550.4" cy="941.6" r="9.2"/><circle cx="1578.0" cy="927.5" r="9.2"/><circle cx="1559.0" cy="935.5" r="9.2"/><circle cx="1566.3" cy="931.6" r="9.2"/><circle cx="1582.6" cy="914.0" r="9.2"/><circle cx="1584.3" cy="907.4" r="9.2"/><circle cx="1598.1" cy="908.2" r="9.2"/><circle cx="1587.8" cy="900.0" r="9.2"/><circle cx="1584.8" cy="917.4" r="9.2"/><circle cx="1606.6" cy="906.7" r="9.2"/><circle cx="1601.8" cy="903.1" r="9.2"/><circle cx="1577.7" cy="901.4" r="9.2"/><circle cx="1600.5" cy="906.4" r="9.2"/><circle cx="1593.8" cy="911.4" r="9.2"/><circle cx="1594.4" cy="895.2" r="9.2"/><circle cx="1570.5" cy="908.3" r="9.2"/><circle cx="1578.3" cy="906.3" r="9.2"/><circle cx="1589.0" cy="899.2" r="9.2"/><circle cx="1582.9" cy="903.4" r="9.2"/><circle cx="1580.6" cy="924.0" r="9.2"/><circle cx="1586.3" cy="897.6" r="9.2"/><circle cx="1596.5" cy="906.3" r="9.2"/><circle cx="1592.0" cy="910.3" r="9.2"/><circle cx="1593.4" cy="904.9" r="9.2"/><circle cx="1602.3" cy="911.2" r="9.2"/><circle cx="1593.3" cy="892.6" r="9.2"/><circle cx="1577.5" cy="907.5" r="9.2"/><circle cx="1592.6" cy="908.1" r="9.2"/><circle cx="1601.3" cy="898.2" r="9.2"/><circle cx="1578.1" cy="909.1" r="9.2"/><circle cx="1585.7" cy="897.9" r="9.2"/><circle cx="1585.7" cy="899.0" r="9.2"/><circle cx="1583.7" cy="898.3" r="9.2"/><circle cx="1602.0" cy="910.2" r="9.2"/><circle cx="1599.7" cy="915.2" r="9.2"/><circle cx="1595.5" cy="914.5" r="9.2"/><circle cx="1580.6" cy="924.9" r="9.2"/><circle cx="1607.1" cy="887.0" r="9.2"/><circle cx="1610.8" cy="892.1" r="9.2"/><circle cx="1600.5" cy="896.3" r="9.2"/><circle cx="1611.4" cy="879.0" r="9.2"/><circle cx="1615.2" cy="899.1" r="9.2"/><circle cx="1619.4" cy="875.0" r="9.2"/><circle cx="1599.9" cy="888.5" r="9.2"/><circle cx="1608.7" cy="902.4" r="9.2"/><circle cx="1615.2" cy="879.3" r="9.2"/><circle cx="1616.4" cy="892.2" r="9.2"/><circle cx="1607.8" cy="904.1" r="9.2"/><circle cx="1617.1" cy="875.8" r="9.2"/><circle cx="1621.4" cy="887.8" r="9.2"/><circle cx="1615.9" cy="898.6" r="9.2"/><circle cx="1606.6" cy="894.0" r="9.2"/><circle cx="1608.3" cy="891.4" r="9.2"/><circle cx="1621.8" cy="883.2" r="9.2"/><circle cx="1623.9" cy="894.8" r="9.2"/><circle cx="1602.7" cy="889.4" r="9.2"/><circle cx="1610.6" cy="879.8" r="9.2"/><circle cx="1621.6" cy="875.9" r="9.2"/><circle cx="1611.0" cy="888.5" r="9.2"/><circle cx="1627.8" cy="889.0" r="9.2"/><circle cx="1612.3" cy="879.0" r="9.2"/><circle cx="1613.5" cy="895.2" r="9.2"/><circle cx="1613.2" cy="901.2" r="9.2"/><circle cx="1614.1" cy="871.9" r="9.2"/><circle cx="1615.2" cy="874.2" r="9.2"/><circle cx="1594.5" cy="887.9" r="9.2"/><circle cx="1606.0" cy="877.8" r="9.2"/><circle cx="1605.3" cy="881.0" r="9.2"/><circle cx="1625.0" cy="892.2" r="9.2"/><circle cx="1620.1" cy="897.2" r="9.2"/><circle cx="1615.9" cy="901.1" r="9.2"/><circle cx="1633.9" cy="860.7" r="9.2"/><circle cx="1635.3" cy="879.2" r="9.2"/><circle cx="1644.6" cy="861.3" r="9.2"/><circle cx="1642.8" cy="865.5" r="9.2"/><circle cx="1632.4" cy="866.1" r="9.2"/><circle cx="1642.3" cy="870.7" r="9.2"/><circle cx="1651.1" cy="860.7" r="9.2"/><circle cx="1635.1" cy="853.0" r="9.2"/><circle cx="1638.1" cy="879.4" r="9.2"/><circle cx="1636.1" cy="865.7" r="9.2"/><circle cx="1637.4" cy="876.3" r="9.2"/><circle cx="1643.5" cy="873.2" r="9.2"/><circle cx="1635.3" cy="883.9" r="9.2"/><circle cx="1618.9" cy="872.2" r="9.2"/><circle cx="1635.2" cy="871.1" r="9.2"/><circle cx="1628.3" cy="876.4" r="9.2"/><circle cx="1642.8" cy="855.5" r="9.2"/><circle cx="1641.7" cy="861.7" r="9.2"/><circle cx="1631.3" cy="860.0" r="9.2"/><circle cx="1641.0" cy="873.1" r="9.2"/><circle cx="1633.9" cy="858.5" r="9.2"/><circle cx="1634.7" cy="868.4" r="9.2"/><circle cx="1633.1" cy="871.4" r="9.2"/><circle cx="1629.8" cy="856.7" r="9.2"/><circle cx="1616.8" cy="862.0" r="9.2"/><circle cx="1621.4" cy="867.7" r="9.2"/><circle cx="1623.5" cy="866.1" r="9.2"/><circle cx="1625.1" cy="864.2" r="9.2"/><circle cx="1633.6" cy="855.6" r="9.2"/><circle cx="1634.5" cy="849.9" r="9.2"/><circle cx="1647.0" cy="868.2" r="9.2"/><circle cx="1646.3" cy="872.7" r="9.2"/><circle cx="1635.0" cy="881.8" r="9.2"/><circle cx="1652.1" cy="845.4" r="9.2"/><circle cx="1660.4" cy="842.1" r="9.2"/><circle cx="1650.9" cy="842.7" r="9.2"/><circle cx="1647.4" cy="857.1" r="9.2"/><circle cx="1656.0" cy="846.7" r="9.2"/><circle cx="1651.5" cy="848.1" r="9.2"/><circle cx="1646.2" cy="854.9" r="9.2"/><circle cx="1656.2" cy="837.4" r="9.2"/><circle cx="1647.5" cy="846.0" r="9.2"/><circle cx="1650.1" cy="847.0" r="9.2"/><circle cx="1645.6" cy="850.8" r="9.2"/><circle cx="1656.8" cy="840.5" r="9.2"/><circle cx="1642.9" cy="850.9" r="9.2"/><circle cx="1649.3" cy="840.8" r="9.2"/><circle cx="1640.3" cy="847.7" r="9.2"/><circle cx="1658.6" cy="856.3" r="9.2"/><circle cx="1651.0" cy="859.9" r="9.2"/><circle cx="1657.0" cy="854.4" r="9.2"/><circle cx="1663.1" cy="845.0" r="9.2"/>
</g>
<g fill="#ffbb78" fill-opacity="0.35">
<circle cx="960.4" cy="1475.2" r="9.2"/>
</g>
<g fill="none" stroke="#ffbb78" stroke-opacity="0.42" stroke-width="2.2">
<circle cx="960.4" cy="1475.2" r="8.1"/>
</g>
<g fill="#ffbb78" fill-opacity="0.4">
<circle cx="683.0" cy="1163.0" r="9.2"/><circle cx="1560.0" cy="910.0" r="9.2"/>
</g>
<g fill="none" stroke="#ffbb78" stroke-opacity="0.48" stroke-width="2.2">
<circle cx="683.0" cy="1163.0" r="8.1"/><circle cx="1560.0" cy="910.0" r="8.1"/>
</g>
<g fill="#ffbb78" fill-opacity="0.5">
<circle cx="1540.0" cy="905.0" r="9.2"/><circle cx="1555.0" cy="895.0" r="9.2"/><circle cx="1575.0" cy="900.0" r="9.2"/><circle cx="1590.0" cy="905.0" r="9.2"/><circle cx="1631.8" cy="733.4" r="9.2"/><circle cx="1604.9" cy="818.3" r="9.2"/>
</g>
<g fill="none" stroke="#ffbb78" stroke-opacity="0.60" stroke-width="2.2">
<circle cx="1540.0" cy="905.0" r="8.1"/><circle cx="1555.0" cy="895.0" r="8.1"/><circle cx="1575.0" cy="900.0" r="8.1"/><circle cx="1590.0" cy="905.0" r="8.1"/><circle cx="1631.8" cy="733.4" r="8.1"/><circle cx="1604.9" cy="818.3" r="8.1"/>
</g>
<g fill="#ffbb78" fill-opacity="0.6">
<circle cx="953.7" cy="1474.5" r="9.2"/><circle cx="964.1" cy="1492.3" r="9.2"/><circle cx="968.6" cy="1494.5" r="9.2"/><circle cx="1633.1" cy="660.3" r="9.2"/><circle cx="1677.7" cy="654.3" r="9.2"/><circle cx="1669.9" cy="652.0" r="9.2"/><circle cx="1628.5" cy="663.3" r="9.2"/><circle cx="1599.6" cy="696.3" r="9.2"/><circle cx="1644.7" cy="741.9" r="9.2"/><circle cx="1633.4" cy="776.2" r="9.2"/><circle cx="1637.7" cy="764.5" r="9.2"/><circle cx="1695.0" cy="777.4" r="9.2"/><circle cx="1621.8" cy="802.7" r="9.2"/><circle cx="1617.7" cy="813.4" r="9.2"/><circle cx="1685.2" cy="806.1" r="9.2"/><circle cx="1687.4" cy="792.1" r="9.2"/><circle cx="1689.3" cy="791.9" r="9.2"/><circle cx="1611.3" cy="834.0" r="9.2"/><circle cx="1674.0" cy="827.1" r="9.2"/><circle cx="1617.3" cy="856.0" r="9.2"/><circle cx="1614.3" cy="847.7" r="9.2"/><circle cx="1651.6" cy="854.9" r="9.2"/><circle cx="1646.8" cy="859.7" r="9.2"/><circle cx="1631.4" cy="871.3" r="9.2"/><circle cx="1570.0" cy="888.0" r="9.2"/><circle cx="1585.0" cy="878.0" r="9.2"/><circle cx="1595.0" cy="890.0" r="9.2"/><circle cx="1600.0" cy="845.0" r="9.2"/><circle cx="1594.0" cy="751.0" r="9.2"/><circle cx="1600.8" cy="759.0" r="9.2"/>
</g>
<g fill="none" stroke="#ffbb78" stroke-opacity="0.72" stroke-width="2.2">
<circle cx="953.7" cy="1474.5" r="8.1"/><circle cx="964.1" cy="1492.3" r="8.1"/><circle cx="968.6" cy="1494.5" r="8.1"/><circle cx="1633.1" cy="660.3" r="8.1"/><circle cx="1677.7" cy="654.3" r="8.1"/><circle cx="1669.9" cy="652.0" r="8.1"/><circle cx="1628.5" cy="663.3" r="8.1"/><circle cx="1599.6" cy="696.3" r="8.1"/><circle cx="1644.7" cy="741.9" r="8.1"/><circle cx="1633.4" cy="776.2" r="8.1"/><circle cx="1637.7" cy="764.5" r="8.1"/><circle cx="1695.0" cy="777.4" r="8.1"/><circle cx="1621.8" cy="802.7" r="8.1"/><circle cx="1617.7" cy="813.4" r="8.1"/><circle cx="1685.2" cy="806.1" r="8.1"/><circle cx="1687.4" cy="792.1" r="8.1"/><circle cx="1689.3" cy="791.9" r="8.1"/><circle cx="1611.3" cy="834.0" r="8.1"/><circle cx="1674.0" cy="827.1" r="8.1"/><circle cx="1617.3" cy="856.0" r="8.1"/><circle cx="1614.3" cy="847.7" r="8.1"/><circle cx="1651.6" cy="854.9" r="8.1"/><circle cx="1646.8" cy="859.7" r="8.1"/><circle cx="1631.4" cy="871.3" r="8.1"/><circle cx="1570.0" cy="888.0" r="8.1"/><circle cx="1585.0" cy="878.0" r="8.1"/><circle cx="1595.0" cy="890.0" r="8.1"/><circle cx="1600.0" cy="845.0" r="8.1"/><circle cx="1594.0" cy="751.0" r="8.1"/><circle cx="1600.8" cy="759.0" r="8.1"/>
</g>
<g fill="#ffbb78" fill-opacity="0.65">
<circle cx="993.8" cy="1477.5" r="9.2"/>
</g>
<g fill="none" stroke="#ffbb78" stroke-opacity="0.78" stroke-width="2.2">
<circle cx="993.8" cy="1477.5" r="8.1"/>
</g>
<g fill="#ffbb78" fill-opacity="0.7">
<circle cx="944.9" cy="1474.5" r="9.2"/><circle cx="1600.0" cy="868.0" r="9.2"/><circle cx="1605.0" cy="880.0" r="9.2"/><circle cx="1610.0" cy="860.0" r="9.2"/>
</g>
<g fill="none" stroke="#ffbb78" stroke-opacity="0.84" stroke-width="2.2">
<circle cx="944.9" cy="1474.5" r="8.1"/><circle cx="1600.0" cy="868.0" r="8.1"/><circle cx="1605.0" cy="880.0" r="8.1"/><circle cx="1610.0" cy="860.0" r="8.1"/>
</g>
<g fill="#ffbb78" fill-opacity="0.9">
<circle cx="699.3" cy="1159.0" r="9.2"/><circle cx="705.0" cy="1158.0" r="9.2"/>
</g>
<g fill="none" stroke="#ffbb78" stroke-opacity="1.00" stroke-width="2.2">
<circle cx="699.3" cy="1159.0" r="8.1"/><circle cx="705.0" cy="1158.0" r="8.1"/>
</g>
<g fill="#ffbb78" fill-opacity="0.95">
<circle cx="711.4" cy="1159.5" r="9.2"/>
</g>
<g fill="none" stroke="#ffbb78" stroke-opacity="1.00" stroke-width="2.2">
<circle cx="711.4" cy="1159.5" r="8.1"/>
</g>
<g fill="#ffbb78">
<circle cx="1661.6" cy="648.0" r="9.2"/><circle cx="1655.4" cy="640.5" r="9.2"/><circle cx="1661.2" cy="646.4" r="9.2"/><circle cx="1660.6" cy="640.8" r="9.2"/><circle cx="1654.0" cy="647.0" r="9.2"/><circle cx="1655.7" cy="640.8" r="9.2"/><circle cx="1655.0" cy="644.0" r="9.2"/><circle cx="1662.0" cy="640.3" r="9.2"/><circle cx="1662.1" cy="642.8" r="9.2"/><circle cx="1671.0" cy="653.9" r="9.2"/><circle cx="1663.4" cy="650.1" r="9.2"/><circle cx="1660.7" cy="649.9" r="9.2"/><circle cx="1650.8" cy="662.3" r="9.2"/><circle cx="1656.4" cy="657.5" r="9.2"/><circle cx="1663.3" cy="650.5" r="9.2"/><circle cx="1671.2" cy="656.2" r="9.2"/><circle cx="1652.7" cy="650.1" r="9.2"/><circle cx="1666.4" cy="652.7" r="9.2"/><circle cx="1650.8" cy="649.9" r="9.2"/><circle cx="1655.5" cy="654.7" r="9.2"/><circle cx="1681.5" cy="660.9" r="9.2"/><circle cx="1664.7" cy="652.8" r="9.2"/><circle cx="1667.4" cy="654.4" r="9.2"/><circle cx="1640.4" cy="658.4" r="9.2"/><circle cx="1656.8" cy="655.9" r="9.2"/><circle cx="1661.6" cy="655.8" r="9.2"/><circle cx="1655.9" cy="658.9" r="9.2"/><circle cx="1672.8" cy="656.6" r="9.2"/><circle cx="1645.9" cy="658.7" r="9.2"/><circle cx="1653.5" cy="651.4" r="9.2"/><circle cx="1654.8" cy="662.3" r="9.2"/><circle cx="1688.3" cy="661.4" r="9.2"/><circle cx="1635.9" cy="659.7" r="9.2"/><circle cx="1632.1" cy="661.2" r="9.2"/><circle cx="1644.9" cy="654.3" r="9.2"/><circle cx="1633.0" cy="660.0" r="9.2"/><circle cx="1675.5" cy="653.7" r="9.2"/><circle cx="1690.3" cy="660.8" r="9.2"/><circle cx="1680.4" cy="657.5" r="9.2"/><circle cx="1688.0" cy="661.5" r="9.2"/><circle cx="1678.1" cy="657.1" r="9.2"/><circle cx="1649.4" cy="675.7" r="9.2"/><circle cx="1629.9" cy="663.1" r="9.2"/><circle cx="1658.3" cy="672.6" r="9.2"/><circle cx="1640.3" cy="673.3" r="9.2"/><circle cx="1662.0" cy="671.9" r="9.2"/><circle cx="1689.4" cy="665.4" r="9.2"/><circle cx="1678.0" cy="671.3" r="9.2"/><circle cx="1665.1" cy="663.3" r="9.2"/><circle cx="1668.5" cy="674.3" r="9.2"/><circle cx="1696.5" cy="674.9" r="9.2"/><circle cx="1653.6" cy="669.2" r="9.2"/><circle cx="1617.2" cy="675.8" r="9.2"/><circle cx="1648.7" cy="674.0" r="9.2"/><circle cx="1670.3" cy="679.9" r="9.2"/><circle cx="1617.5" cy="679.4" r="9.2"/><circle cx="1645.9" cy="668.9" r="9.2"/><circle cx="1694.0" cy="666.4" r="9.2"/><circle cx="1638.4" cy="679.6" r="9.2"/><circle cx="1645.4" cy="673.3" r="9.2"/><circle cx="1677.4" cy="676.8" r="9.2"/><circle cx="1686.7" cy="676.9" r="9.2"/><circle cx="1662.5" cy="671.9" r="9.2"/><circle cx="1653.9" cy="667.5" r="9.2"/><circle cx="1657.5" cy="680.5" r="9.2"/><circle cx="1644.3" cy="670.2" r="9.2"/><circle cx="1656.0" cy="667.6" r="9.2"/><circle cx="1679.5" cy="664.3" r="9.2"/><circle cx="1663.4" cy="664.7" r="9.2"/><circle cx="1649.5" cy="676.1" r="9.2"/><circle cx="1664.6" cy="664.8" r="9.2"/><circle cx="1625.8" cy="677.4" r="9.2"/><circle cx="1678.4" cy="671.2" r="9.2"/><circle cx="1625.0" cy="669.7" r="9.2"/><circle cx="1632.4" cy="672.6" r="9.2"/><circle cx="1680.0" cy="670.2" r="9.2"/><circle cx="1628.8" cy="664.6" r="9.2"/><circle cx="1620.5" cy="674.1" r="9.2"/><circle cx="1668.6" cy="676.3" r="9.2"/><circle cx="1673.4" cy="672.4" r="9.2"/><circle cx="1651.7" cy="675.2" r="9.2"/><circle cx="1629.6" cy="668.2" r="9.2"/><circle cx="1636.0" cy="677.2" r="9.2"/><circle cx="1625.8" cy="680.2" r="9.2"/><circle cx="1691.9" cy="671.5" r="9.2"/><circle cx="1664.6" cy="669.8" r="9.2"/><circle cx="1642.8" cy="672.1" r="9.2"/><circle cx="1659.0" cy="667.9" r="9.2"/><circle cx="1631.9" cy="664.3" r="9.2"/><circle cx="1681.9" cy="664.5" r="9.2"/><circle cx="1661.1" cy="674.1" r="9.2"/><circle cx="1654.6" cy="680.7" r="9.2"/><circle cx="1650.1" cy="666.7" r="9.2"/><circle cx="1660.2" cy="677.5" r="9.2"/><circle cx="1658.6" cy="665.9" r="9.2"/><circle cx="1670.5" cy="677.8" r="9.2"/><circle cx="1627.6" cy="667.9" r="9.2"/><circle cx="1640.7" cy="674.8" r="9.2"/><circle cx="1662.4" cy="675.8" r="9.2"/><circle cx="1644.9" cy="664.0" r="9.2"/><circle cx="1626.1" cy="667.6" r="9.2"/><circle cx="1612.2" cy="677.9" r="9.2"/><circle cx="1624.3" cy="667.8" r="9.2"/><circle cx="1626.2" cy="666.5" r="9.2"/><circle cx="1614.3" cy="675.5" r="9.2"/><circle cx="1697.1" cy="671.1" r="9.2"/><circle cx="1696.2" cy="666.2" r="9.2"/><circle cx="1696.2" cy="673.8" r="9.2"/><circle cx="1699.6" cy="680.4" r="9.2"/><circle cx="1601.7" cy="698.9" r="9.2"/><circle cx="1661.5" cy="686.1" r="9.2"/><circle cx="1633.3" cy="689.6" r="9.2"/><circle cx="1654.5" cy="688.2" r="9.2"/><circle cx="1620.3" cy="697.4" r="9.2"/><circle cx="1678.2" cy="681.6" r="9.2"/><circle cx="1620.3" cy="686.3" r="9.2"/><circle cx="1671.8" cy="683.4" r="9.2"/><circle cx="1637.7" cy="694.8" r="9.2"/><circle cx="1605.3" cy="689.5" r="9.2"/><circle cx="1624.2" cy="698.1" r="9.2"/><circle cx="1629.6" cy="691.3" r="9.2"/><circle cx="1698.2" cy="698.9" r="9.2"/><circle cx="1643.3" cy="698.4" r="9.2"/><circle cx="1676.6" cy="682.9" r="9.2"/><circle cx="1676.1" cy="684.9" r="9.2"/><circle cx="1649.6" cy="687.3" r="9.2"/><circle cx="1693.1" cy="694.8" r="9.2"/><circle cx="1617.3" cy="686.1" r="9.2"/><circle cx="1676.9" cy="691.1" r="9.2"/><circle cx="1642.7" cy="687.1" r="9.2"/><circle cx="1695.4" cy="695.3" r="9.2"/><circle cx="1650.0" cy="691.7" r="9.2"/><circle cx="1617.0" cy="689.7" r="9.2"/><circle cx="1617.5" cy="689.9" r="9.2"/><circle cx="1663.3" cy="687.7" r="9.2"/><circle cx="1642.2" cy="682.1" r="9.2"/><circle cx="1605.8" cy="699.1" r="9.2"/><circle cx="1637.2" cy="692.6" r="9.2"/><circle cx="1687.2" cy="682.7" r="9.2"/><circle cx="1631.3" cy="695.0" r="9.2"/><circle cx="1657.7" cy="693.4" r="9.2"/><circle cx="1651.3" cy="693.5" r="9.2"/><circle cx="1670.1" cy="694.8" r="9.2"/><circle cx="1631.2" cy="690.0" r="9.2"/><circle cx="1665.6" cy="697.2" r="9.2"/><circle cx="1677.4" cy="686.2" r="9.2"/><circle cx="1668.7" cy="699.9" r="9.2"/><circle cx="1663.4" cy="684.5" r="9.2"/><circle cx="1684.1" cy="681.2" r="9.2"/><circle cx="1675.4" cy="683.6" r="9.2"/><circle cx="1621.7" cy="698.3" r="9.2"/><circle cx="1674.6" cy="686.4" r="9.2"/><circle cx="1678.6" cy="685.8" r="9.2"/><circle cx="1674.8" cy="690.3" r="9.2"/><circle cx="1687.2" cy="695.2" r="9.2"/><circle cx="1690.1" cy="687.4" r="9.2"/><circle cx="1613.2" cy="690.7" r="9.2"/><circle cx="1667.3" cy="695.7" r="9.2"/><circle cx="1617.4" cy="693.8" r="9.2"/><circle cx="1598.9" cy="699.3" r="9.2"/><circle cx="1615.9" cy="689.3" r="9.2"/><circle cx="1686.9" cy="687.5" r="9.2"/><circle cx="1647.1" cy="685.1" r="9.2"/><circle cx="1689.8" cy="697.6" r="9.2"/><circle cx="1658.5" cy="687.4" r="9.2"/><circle cx="1671.4" cy="682.0" r="9.2"/><circle cx="1650.4" cy="696.0" r="9.2"/><circle cx="1688.4" cy="681.3" r="9.2"/><circle cx="1678.7" cy="698.0" r="9.2"/><circle cx="1670.0" cy="686.0" r="9.2"/><circle cx="1639.8" cy="696.2" r="9.2"/><circle cx="1632.2" cy="692.3" r="9.2"/><circle cx="1666.4" cy="697.2" r="9.2"/><circle cx="1630.1" cy="695.5" r="9.2"/><circle cx="1652.4" cy="681.6" r="9.2"/><circle cx="1626.2" cy="691.1" r="9.2"/><circle cx="1619.1" cy="696.4" r="9.2"/><circle cx="1680.2" cy="685.5" r="9.2"/><circle cx="1653.0" cy="695.8" r="9.2"/><circle cx="1656.3" cy="683.3" r="9.2"/><circle cx="1626.3" cy="687.2" r="9.2"/><circle cx="1658.6" cy="682.3" r="9.2"/><circle cx="1628.8" cy="682.6" r="9.2"/><circle cx="1663.8" cy="682.3" r="9.2"/><circle cx="1654.1" cy="698.6" r="9.2"/><circle cx="1667.7" cy="682.9" r="9.2"/><circle cx="1682.5" cy="691.2" r="9.2"/><circle cx="1682.0" cy="692.6" r="9.2"/><circle cx="1605.1" cy="687.8" r="9.2"/><circle cx="1603.4" cy="688.8" r="9.2"/><circle cx="1600.2" cy="696.6" r="9.2"/><circle cx="1703.5" cy="694.5" r="9.2"/><circle cx="1701.4" cy="684.7" r="9.2"/><circle cx="1705.3" cy="699.8" r="9.2"/><circle cx="1701.2" cy="696.0" r="9.2"/><circle cx="1610.1" cy="701.6" r="9.2"/><circle cx="1698.6" cy="701.1" r="9.2"/><circle cx="1670.4" cy="705.7" r="9.2"/><circle cx="1682.9" cy="706.5" r="9.2"/><circle cx="1632.8" cy="706.9" r="9.2"/><circle cx="1660.0" cy="707.1" r="9.2"/><circle cx="1651.3" cy="705.0" r="9.2"/><circle cx="1631.4" cy="701.6" r="9.2"/><circle cx="1648.2" cy="707.8" r="9.2"/><circle cx="1601.2" cy="703.6" r="9.2"/><circle cx="1614.7" cy="705.0" r="9.2"/><circle cx="1657.0" cy="700.9" r="9.2"/><circle cx="1624.0" cy="704.7" r="9.2"/><circle cx="1681.7" cy="701.1" r="9.2"/><circle cx="1630.4" cy="706.2" r="9.2"/><circle cx="1651.7" cy="701.3" r="9.2"/><circle cx="1618.8" cy="703.7" r="9.2"/><circle cx="1692.0" cy="701.1" r="9.2"/><circle cx="1659.1" cy="703.1" r="9.2"/><circle cx="1656.4" cy="706.0" r="9.2"/><circle cx="1682.8" cy="706.1" r="9.2"/><circle cx="1690.9" cy="704.1" r="9.2"/><circle cx="1642.3" cy="706.5" r="9.2"/><circle cx="1691.8" cy="702.1" r="9.2"/><circle cx="1641.2" cy="704.8" r="9.2"/><circle cx="1703.1" cy="706.5" r="9.2"/><circle cx="1666.0" cy="700.4" r="9.2"/><circle cx="1645.4" cy="706.5" r="9.2"/><circle cx="1602.8" cy="705.5" r="9.2"/><circle cx="1613.7" cy="702.7" r="9.2"/><circle cx="1677.4" cy="702.9" r="9.2"/><circle cx="1690.4" cy="705.4" r="9.2"/><circle cx="1669.3" cy="704.1" r="9.2"/><circle cx="1646.5" cy="700.8" r="9.2"/><circle cx="1685.5" cy="703.1" r="9.2"/><circle cx="1701.6" cy="706.3" r="9.2"/><circle cx="1689.2" cy="705.9" r="9.2"/><circle cx="1596.9" cy="702.3" r="9.2"/><circle cx="1596.5" cy="706.1" r="9.2"/><circle cx="1704.3" cy="706.7" r="9.2"/><circle cx="1705.3" cy="709.1" r="9.2"/><circle cx="1677.7" cy="709.9" r="9.2"/><circle cx="1669.1" cy="708.2" r="9.2"/><circle cx="1641.0" cy="711.5" r="9.2"/><circle cx="1672.1" cy="711.0" r="9.2"/><circle cx="1680.1" cy="710.0" r="9.2"/><circle cx="1609.5" cy="709.9" r="9.2"/><circle cx="1678.2" cy="710.1" r="9.2"/><circle cx="1646.4" cy="708.7" r="9.2"/><circle cx="1598.3" cy="711.3" r="9.2"/><circle cx="1634.8" cy="711.5" r="9.2"/><circle cx="1672.3" cy="709.5" r="9.2"/><circle cx="1627.8" cy="710.3" r="9.2"/><circle cx="1641.9" cy="708.6" r="9.2"/><circle cx="1704.4" cy="711.6" r="9.2"/><circle cx="1672.1" cy="710.9" r="9.2"/><circle cx="1695.7" cy="710.7" r="9.2"/><circle cx="1611.9" cy="708.6" r="9.2"/><circle cx="1599.0" cy="711.4" r="9.2"/><circle cx="1640.2" cy="710.1" r="9.2"/><circle cx="1597.3" cy="710.8" r="9.2"/><circle cx="1705.4" cy="709.1" r="9.2"/><circle cx="1620.6" cy="714.3" r="9.2"/><circle cx="1688.4" cy="713.4" r="9.2"/><circle cx="1624.6" cy="713.2" r="9.2"/><circle cx="1698.6" cy="712.7" r="9.2"/><circle cx="1656.6" cy="715.5" r="9.2"/><circle cx="1643.2" cy="713.3" r="9.2"/><circle cx="1697.2" cy="715.5" r="9.2"/><circle cx="1693.3" cy="715.8" r="9.2"/><circle cx="1628.2" cy="714.7" r="9.2"/><circle cx="1639.3" cy="715.8" r="9.2"/><circle cx="1650.2" cy="715.0" r="9.2"/><circle cx="1668.4" cy="712.1" r="9.2"/><circle cx="1693.7" cy="713.0" r="9.2"/><circle cx="1670.9" cy="712.7" r="9.2"/><circle cx="1615.0" cy="713.7" r="9.2"/><circle cx="1636.4" cy="713.1" r="9.2"/><circle cx="1621.8" cy="716.4" r="9.2"/><circle cx="1605.9" cy="713.3" r="9.2"/><circle cx="1624.4" cy="714.7" r="9.2"/><circle cx="1624.3" cy="716.3" r="9.2"/><circle cx="1626.8" cy="715.5" r="9.2"/><circle cx="1607.2" cy="713.9" r="9.2"/><circle cx="1704.7" cy="715.6" r="9.2"/><circle cx="1680.5" cy="721.3" r="9.2"/><circle cx="1690.8" cy="723.6" r="9.2"/><circle cx="1644.2" cy="722.9" r="9.2"/><circle cx="1661.7" cy="721.6" r="9.2"/><circle cx="1677.2" cy="724.4" r="9.2"/><circle cx="1701.7" cy="724.1" r="9.2"/><circle cx="1658.9" cy="721.1" r="9.2"/><circle cx="1697.2" cy="724.7" r="9.2"/><circle cx="1649.7" cy="723.5" r="9.2"/><circle cx="1696.2" cy="721.4" r="9.2"/><circle cx="1688.6" cy="724.6" r="9.2"/><circle cx="1702.7" cy="724.2" r="9.2"/><circle cx="1654.1" cy="716.8" r="9.2"/><circle cx="1660.3" cy="719.0" r="9.2"/><circle cx="1648.8" cy="716.4" r="9.2"/><circle cx="1658.2" cy="722.0" r="9.2"/><circle cx="1632.9" cy="717.5" r="9.2"/><circle cx="1661.4" cy="722.8" r="9.2"/><circle cx="1678.0" cy="720.3" r="9.2"/><circle cx="1635.9" cy="719.4" r="9.2"/><circle cx="1652.6" cy="724.0" r="9.2"/><circle cx="1671.2" cy="718.5" r="9.2"/><circle cx="1648.1" cy="723.5" r="9.2"/><circle cx="1692.8" cy="716.5" r="9.2"/><circle cx="1670.9" cy="716.1" r="9.2"/><circle cx="1698.0" cy="723.9" r="9.2"/><circle cx="1640.7" cy="716.2" r="9.2"/><circle cx="1681.9" cy="717.5" r="9.2"/><circle cx="1660.3" cy="720.2" r="9.2"/><circle cx="1641.9" cy="719.8" r="9.2"/><circle cx="1639.6" cy="725.1" r="9.2"/><circle cx="1632.8" cy="719.7" r="9.2"/><circle cx="1628.5" cy="716.8" r="9.2"/><circle cx="1704.2" cy="717.1" r="9.2"/><circle cx="1702.8" cy="723.8" r="9.2"/><circle cx="1695.2" cy="732.6" r="9.2"/><circle cx="1667.1" cy="733.7" r="9.2"/><circle cx="1658.4" cy="730.6" r="9.2"/><circle cx="1694.9" cy="732.9" r="9.2"/><circle cx="1679.7" cy="727.8" r="9.2"/><circle cx="1680.8" cy="729.6" r="9.2"/><circle cx="1676.1" cy="731.9" r="9.2"/><circle cx="1656.9" cy="734.6" r="9.2"/><circle cx="1662.6" cy="727.5" r="9.2"/><circle cx="1674.5" cy="726.8" r="9.2"/><circle cx="1663.0" cy="733.9" r="9.2"/><circle cx="1680.4" cy="728.0" r="9.2"/><circle cx="1648.1" cy="731.7" r="9.2"/><circle cx="1677.8" cy="733.3" r="9.2"/><circle cx="1662.7" cy="729.0" r="9.2"/><circle cx="1671.4" cy="729.2" r="9.2"/><circle cx="1655.2" cy="730.7" r="9.2"/><circle cx="1651.3" cy="729.3" r="9.2"/><circle cx="1671.9" cy="732.3" r="9.2"/><circle cx="1698.7" cy="732.2" r="9.2"/><circle cx="1690.5" cy="729.6" r="9.2"/><circle cx="1656.8" cy="734.4" r="9.2"/><circle cx="1672.3" cy="731.9" r="9.2"/><circle cx="1679.4" cy="731.5" r="9.2"/><circle cx="1642.4" cy="730.5" r="9.2"/><circle cx="1640.0" cy="728.3" r="9.2"/><circle cx="1703.8" cy="731.0" r="9.2"/><circle cx="1702.9" cy="733.8" r="9.2"/><circle cx="1651.5" cy="753.0" r="9.2"/><circle cx="1649.2" cy="737.6" r="9.2"/><circle cx="1671.4" cy="758.1" r="9.2"/><circle cx="1665.8" cy="735.5" r="9.2"/><circle cx="1654.2" cy="752.1" r="9.2"/><circle cx="1640.5" cy="757.5" r="9.2"/><circle cx="1675.4" cy="749.2" r="9.2"/><circle cx="1700.5" cy="740.1" r="9.2"/><circle cx="1649.7" cy="749.7" r="9.2"/><circle cx="1642.4" cy="755.4" r="9.2"/><circle cx="1689.7" cy="753.4" r="9.2"/><circle cx="1642.9" cy="752.2" r="9.2"/><circle cx="1692.2" cy="736.7" r="9.2"/><circle cx="1655.9" cy="757.9" r="9.2"/><circle cx="1687.3" cy="760.1" r="9.2"/><circle cx="1695.1" cy="737.9" r="9.2"/><circle cx="1664.1" cy="735.4" r="9.2"/><circle cx="1656.4" cy="740.6" r="9.2"/><circle cx="1645.1" cy="748.5" r="9.2"/><circle cx="1651.6" cy="761.1" r="9.2"/><circle cx="1661.6" cy="753.4" r="9.2"/><circle cx="1672.5" cy="759.8" r="9.2"/><circle cx="1686.2" cy="748.4" r="9.2"/><circle cx="1668.1" cy="750.2" r="9.2"/><circle cx="1690.0" cy="739.7" r="9.2"/><circle cx="1668.4" cy="752.0" r="9.2"/><circle cx="1666.5" cy="761.7" r="9.2"/><circle cx="1650.3" cy="755.0" r="9.2"/><circle cx="1679.5" cy="744.7" r="9.2"/><circle cx="1700.8" cy="742.0" r="9.2"/><circle cx="1677.1" cy="761.7" r="9.2"/><circle cx="1656.7" cy="754.4" r="9.2"/><circle cx="1690.8" cy="755.8" r="9.2"/><circle cx="1675.2" cy="747.4" r="9.2"/><circle cx="1655.9" cy="752.7" r="9.2"/><circle cx="1655.9" cy="736.2" r="9.2"/><circle cx="1679.0" cy="749.2" r="9.2"/><circle cx="1655.7" cy="758.1" r="9.2"/><circle cx="1668.5" cy="739.5" r="9.2"/><circle cx="1659.5" cy="739.4" r="9.2"/><circle cx="1681.9" cy="748.2" r="9.2"/><circle cx="1655.0" cy="737.8" r="9.2"/><circle cx="1672.6" cy="747.7" r="9.2"/><circle cx="1682.1" cy="739.8" r="9.2"/><circle cx="1697.6" cy="750.2" r="9.2"/><circle cx="1676.3" cy="760.8" r="9.2"/><circle cx="1674.8" cy="737.4" r="9.2"/><circle cx="1659.9" cy="742.3" r="9.2"/><circle cx="1684.3" cy="737.0" r="9.2"/><circle cx="1657.3" cy="752.7" r="9.2"/><circle cx="1700.6" cy="741.2" r="9.2"/><circle cx="1682.3" cy="749.9" r="9.2"/><circle cx="1697.7" cy="741.6" r="9.2"/><circle cx="1670.6" cy="754.4" r="9.2"/><circle cx="1669.8" cy="738.0" r="9.2"/><circle cx="1657.6" cy="735.7" r="9.2"/><circle cx="1647.0" cy="756.1" r="9.2"/><circle cx="1663.9" cy="740.5" r="9.2"/><circle cx="1648.9" cy="761.1" r="9.2"/><circle cx="1673.6" cy="746.2" r="9.2"/><circle cx="1677.3" cy="736.2" r="9.2"/><circle cx="1663.5" cy="736.9" r="9.2"/><circle cx="1700.5" cy="743.7" r="9.2"/><circle cx="1660.1" cy="746.8" r="9.2"/><circle cx="1660.8" cy="743.9" r="9.2"/><circle cx="1662.7" cy="739.4" r="9.2"/><circle cx="1640.7" cy="752.9" r="9.2"/><circle cx="1644.5" cy="741.3" r="9.2"/><circle cx="1641.5" cy="758.0" r="9.2"/><circle cx="1641.7" cy="750.9" r="9.2"/><circle cx="1645.0" cy="742.7" r="9.2"/><circle cx="1700.7" cy="754.4" r="9.2"/><circle cx="1700.6" cy="743.3" r="9.2"/><circle cx="1697.0" cy="761.4" r="9.2"/><circle cx="1703.1" cy="735.2" r="9.2"/><circle cx="1700.3" cy="750.5" r="9.2"/><circle cx="1671.8" cy="788.6" r="9.2"/><circle cx="1695.1" cy="770.7" r="9.2"/><circle cx="1641.8" cy="774.2" r="9.2"/><circle cx="1631.7" cy="781.4" r="9.2"/><circle cx="1682.1" cy="766.6" r="9.2"/><circle cx="1659.7" cy="781.0" r="9.2"/><circle cx="1681.0" cy="765.0" r="9.2"/><circle cx="1649.9" cy="785.3" r="9.2"/><circle cx="1650.9" cy="767.8" r="9.2"/><circle cx="1689.3" cy="788.6" r="9.2"/><circle cx="1653.5" cy="763.7" r="9.2"/><circle cx="1686.5" cy="764.1" r="9.2"/><circle cx="1689.0" cy="788.8" r="9.2"/><circle cx="1674.3" cy="787.2" r="9.2"/><circle cx="1644.0" cy="765.9" r="9.2"/><circle cx="1643.8" cy="762.7" r="9.2"/><circle cx="1657.5" cy="763.2" r="9.2"/><circle cx="1675.1" cy="774.6" r="9.2"/><circle cx="1657.6" cy="785.4" r="9.2"/><circle cx="1630.3" cy="786.1" r="9.2"/><circle cx="1680.3" cy="775.9" r="9.2"/><circle cx="1644.2" cy="771.6" r="9.2"/><circle cx="1658.6" cy="771.2" r="9.2"/><circle cx="1661.4" cy="775.6" r="9.2"/><circle cx="1684.6" cy="785.9" r="9.2"/><circle cx="1647.4" cy="771.3" r="9.2"/><circle cx="1659.2" cy="775.3" r="9.2"/><circle cx="1674.3" cy="786.4" r="9.2"/><circle cx="1640.9" cy="784.8" r="9.2"/><circle cx="1684.5" cy="773.5" r="9.2"/><circle cx="1669.3" cy="780.3" r="9.2"/><circle cx="1686.9" cy="768.1" r="9.2"/><circle cx="1650.0" cy="774.8" r="9.2"/><circle cx="1664.9" cy="776.0" r="9.2"/><circle cx="1677.4" cy="777.7" r="9.2"/><circle cx="1643.6" cy="786.2" r="9.2"/><circle cx="1634.8" cy="778.4" r="9.2"/><circle cx="1655.8" cy="767.8" r="9.2"/><circle cx="1692.0" cy="782.2" r="9.2"/><circle cx="1684.1" cy="768.3" r="9.2"/><circle cx="1635.7" cy="771.0" r="9.2"/><circle cx="1653.4" cy="768.9" r="9.2"/><circle cx="1685.3" cy="774.1" r="9.2"/><circle cx="1672.0" cy="776.8" r="9.2"/><circle cx="1648.8" cy="764.1" r="9.2"/><circle cx="1648.0" cy="774.6" r="9.2"/><circle cx="1686.9" cy="762.6" r="9.2"/><circle cx="1685.3" cy="771.9" r="9.2"/><circle cx="1655.7" cy="783.4" r="9.2"/><circle cx="1689.5" cy="766.9" r="9.2"/><circle cx="1635.2" cy="772.6" r="9.2"/><circle cx="1685.3" cy="775.3" r="9.2"/><circle cx="1665.9" cy="787.0" r="9.2"/><circle cx="1691.0" cy="775.2" r="9.2"/><circle cx="1639.3" cy="785.3" r="9.2"/><circle cx="1644.0" cy="769.1" r="9.2"/><circle cx="1685.6" cy="783.8" r="9.2"/><circle cx="1664.8" cy="781.7" r="9.2"/><circle cx="1636.3" cy="775.0" r="9.2"/><circle cx="1682.7" cy="781.6" r="9.2"/><circle cx="1643.0" cy="776.2" r="9.2"/><circle cx="1636.3" cy="782.0" r="9.2"/><circle cx="1644.2" cy="765.8" r="9.2"/><circle cx="1676.8" cy="773.7" r="9.2"/><circle cx="1653.3" cy="772.5" r="9.2"/><circle cx="1659.9" cy="769.6" r="9.2"/><circle cx="1642.4" cy="771.2" r="9.2"/><circle cx="1651.3" cy="776.6" r="9.2"/><circle cx="1690.6" cy="785.6" r="9.2"/><circle cx="1685.2" cy="766.7" r="9.2"/><circle cx="1638.0" cy="767.3" r="9.2"/><circle cx="1633.5" cy="776.4" r="9.2"/><circle cx="1637.2" cy="767.3" r="9.2"/><circle cx="1636.2" cy="765.0" r="9.2"/><circle cx="1695.2" cy="771.0" r="9.2"/><circle cx="1690.7" cy="781.1" r="9.2"/><circle cx="1696.5" cy="770.1" r="9.2"/><circle cx="1693.6" cy="773.2" r="9.2"/><circle cx="1689.6" cy="788.0" r="9.2"/><circle cx="1674.0" cy="801.0" r="9.2"/><circle cx="1682.7" cy="801.8" r="9.2"/><circle cx="1640.4" cy="814.0" r="9.2"/><circle cx="1648.8" cy="803.5" r="9.2"/><circle cx="1673.1" cy="813.3" r="9.2"/><circle cx="1646.3" cy="799.8" r="9.2"/><circle cx="1666.1" cy="797.6" r="9.2"/><circle cx="1659.9" cy="807.0" r="9.2"/><circle cx="1664.6" cy="803.1" r="9.2"/><circle cx="1657.6" cy="789.2" r="9.2"/><circle cx="1666.7" cy="807.7" r="9.2"/><circle cx="1632.3" cy="811.0" r="9.2"/><circle cx="1680.5" cy="814.0" r="9.2"/><circle cx="1673.4" cy="805.8" r="9.2"/><circle cx="1637.3" cy="794.3" r="9.2"/><circle cx="1658.8" cy="794.9" r="9.2"/><circle cx="1639.7" cy="813.1" r="9.2"/><circle cx="1671.2" cy="814.2" r="9.2"/><circle cx="1629.3" cy="790.2" r="9.2"/><circle cx="1648.5" cy="815.9" r="9.2"/><circle cx="1674.6" cy="810.0" r="9.2"/><circle cx="1625.0" cy="797.2" r="9.2"/><circle cx="1678.5" cy="812.4" r="9.2"/><circle cx="1665.1" cy="799.8" r="9.2"/><circle cx="1686.2" cy="789.3" r="9.2"/><circle cx="1683.7" cy="805.5" r="9.2"/><circle cx="1642.6" cy="807.6" r="9.2"/><circle cx="1658.0" cy="793.8" r="9.2"/><circle cx="1652.2" cy="812.3" r="9.2"/><circle cx="1635.2" cy="803.6" r="9.2"/><circle cx="1641.0" cy="793.0" r="9.2"/><circle cx="1654.0" cy="797.2" r="9.2"/><circle cx="1633.9" cy="814.4" r="9.2"/><circle cx="1671.8" cy="795.2" r="9.2"/><circle cx="1631.5" cy="814.3" r="9.2"/><circle cx="1650.4" cy="797.1" r="9.2"/><circle cx="1633.0" cy="790.6" r="9.2"/><circle cx="1636.8" cy="803.9" r="9.2"/><circle cx="1675.8" cy="795.3" r="9.2"/><circle cx="1658.1" cy="802.0" r="9.2"/><circle cx="1667.9" cy="806.7" r="9.2"/><circle cx="1680.6" cy="813.9" r="9.2"/><circle cx="1672.9" cy="792.0" r="9.2"/><circle cx="1635.1" cy="789.7" r="9.2"/><circle cx="1632.9" cy="795.9" r="9.2"/><circle cx="1640.7" cy="793.1" r="9.2"/><circle cx="1669.4" cy="810.9" r="9.2"/><circle cx="1656.9" cy="802.5" r="9.2"/><circle cx="1657.1" cy="809.2" r="9.2"/><circle cx="1655.7" cy="791.1" r="9.2"/><circle cx="1655.0" cy="794.5" r="9.2"/><circle cx="1628.5" cy="815.4" r="9.2"/><circle cx="1660.8" cy="797.7" r="9.2"/><circle cx="1639.4" cy="806.8" r="9.2"/><circle cx="1654.8" cy="799.7" r="9.2"/><circle cx="1619.2" cy="814.1" r="9.2"/><circle cx="1653.4" cy="813.0" r="9.2"/><circle cx="1642.1" cy="813.7" r="9.2"/><circle cx="1621.1" cy="806.6" r="9.2"/><circle cx="1666.1" cy="795.0" r="9.2"/><circle cx="1656.7" cy="797.9" r="9.2"/><circle cx="1652.7" cy="815.5" r="9.2"/><circle cx="1656.2" cy="807.1" r="9.2"/><circle cx="1687.1" cy="795.8" r="9.2"/><circle cx="1624.6" cy="799.3" r="9.2"/><circle cx="1649.1" cy="800.5" r="9.2"/><circle cx="1652.3" cy="794.6" r="9.2"/><circle cx="1685.7" cy="791.0" r="9.2"/><circle cx="1639.7" cy="803.1" r="9.2"/><circle cx="1659.2" cy="803.8" r="9.2"/><circle cx="1674.7" cy="799.5" r="9.2"/><circle cx="1681.4" cy="801.3" r="9.2"/><circle cx="1663.6" cy="809.7" r="9.2"/><circle cx="1670.1" cy="793.4" r="9.2"/><circle cx="1616.2" cy="814.1" r="9.2"/><circle cx="1625.9" cy="794.2" r="9.2"/><circle cx="1619.6" cy="807.7" r="9.2"/><circle cx="1618.4" cy="807.3" r="9.2"/><circle cx="1685.4" cy="803.8" r="9.2"/><circle cx="1684.1" cy="810.2" r="9.2"/><circle cx="1690.7" cy="789.3" r="9.2"/><circle cx="1640.0" cy="819.4" r="9.2"/><circle cx="1639.5" cy="837.4" r="9.2"/><circle cx="1645.8" cy="827.1" r="9.2"/><circle cx="1666.5" cy="834.8" r="9.2"/><circle cx="1674.3" cy="824.0" r="9.2"/><circle cx="1634.2" cy="819.1" r="9.2"/><circle cx="1645.0" cy="822.7" r="9.2"/><circle cx="1661.2" cy="838.8" r="9.2"/><circle cx="1641.6" cy="816.4" r="9.2"/><circle cx="1658.7" cy="825.6" r="9.2"/><circle cx="1679.0" cy="820.5" r="9.2"/><circle cx="1669.9" cy="818.5" r="9.2"/><circle cx="1616.8" cy="826.8" r="9.2"/><circle cx="1654.7" cy="826.1" r="9.2"/><circle cx="1630.7" cy="839.0" r="9.2"/><circle cx="1653.3" cy="826.6" r="9.2"/><circle cx="1619.3" cy="828.8" r="9.2"/><circle cx="1650.5" cy="833.7" r="9.2"/><circle cx="1615.1" cy="832.9" r="9.2"/><circle cx="1622.0" cy="829.7" r="9.2"/><circle cx="1626.7" cy="830.9" r="9.2"/><circle cx="1652.9" cy="831.1" r="9.2"/><circle cx="1664.1" cy="821.6" r="9.2"/><circle cx="1616.6" cy="824.8" r="9.2"/><circle cx="1665.3" cy="829.8" r="9.2"/><circle cx="1629.0" cy="826.7" r="9.2"/><circle cx="1642.5" cy="829.6" r="9.2"/><circle cx="1630.4" cy="822.5" r="9.2"/><circle cx="1665.9" cy="829.8" r="9.2"/><circle cx="1636.8" cy="819.3" r="9.2"/><circle cx="1612.7" cy="840.1" r="9.2"/><circle cx="1649.6" cy="832.9" r="9.2"/><circle cx="1656.1" cy="840.8" r="9.2"/><circle cx="1628.9" cy="830.6" r="9.2"/><circle cx="1627.6" cy="823.2" r="9.2"/><circle cx="1611.8" cy="837.4" r="9.2"/><circle cx="1671.7" cy="830.3" r="9.2"/><circle cx="1642.9" cy="822.7" r="9.2"/><circle cx="1627.8" cy="822.5" r="9.2"/><circle cx="1615.5" cy="834.4" r="9.2"/><circle cx="1618.2" cy="823.2" r="9.2"/><circle cx="1654.6" cy="823.5" r="9.2"/><circle cx="1628.7" cy="820.0" r="9.2"/><circle cx="1672.9" cy="820.7" r="9.2"/><circle cx="1652.7" cy="818.6" r="9.2"/><circle cx="1651.7" cy="833.7" r="9.2"/><circle cx="1645.5" cy="830.9" r="9.2"/><circle cx="1627.3" cy="835.6" r="9.2"/><circle cx="1662.3" cy="835.5" r="9.2"/><circle cx="1626.8" cy="821.4" r="9.2"/><circle cx="1641.4" cy="841.7" r="9.2"/><circle cx="1657.9" cy="837.1" r="9.2"/><circle cx="1617.3" cy="817.5" r="9.2"/><circle cx="1641.4" cy="829.4" r="9.2"/><circle cx="1647.7" cy="832.7" r="9.2"/><circle cx="1659.8" cy="837.7" r="9.2"/><circle cx="1667.9" cy="836.6" r="9.2"/><circle cx="1671.5" cy="819.6" r="9.2"/><circle cx="1623.2" cy="842.4" r="9.2"/><circle cx="1667.7" cy="816.9" r="9.2"/><circle cx="1640.6" cy="819.2" r="9.2"/><circle cx="1614.1" cy="827.8" r="9.2"/><circle cx="1652.8" cy="834.1" r="9.2"/><circle cx="1626.5" cy="838.3" r="9.2"/><circle cx="1633.6" cy="833.5" r="9.2"/><circle cx="1675.2" cy="823.5" r="9.2"/><circle cx="1653.5" cy="830.2" r="9.2"/><circle cx="1647.6" cy="838.5" r="9.2"/><circle cx="1630.4" cy="830.8" r="9.2"/><circle cx="1633.3" cy="831.5" r="9.2"/><circle cx="1612.5" cy="834.8" r="9.2"/><circle cx="1611.9" cy="836.7" r="9.2"/><circle cx="1610.0" cy="839.1" r="9.2"/><circle cx="1609.3" cy="838.9" r="9.2"/><circle cx="1677.0" cy="826.7" r="9.2"/><circle cx="1675.7" cy="824.3" r="9.2"/><circle cx="1669.6" cy="835.9" r="9.2"/><circle cx="1669.2" cy="840.1" r="9.2"/><circle cx="1678.0" cy="823.6" r="9.2"/><circle cx="1641.6" cy="844.2" r="9.2"/><circle cx="1637.7" cy="853.9" r="9.2"/><circle cx="1638.8" cy="863.0" r="9.2"/><circle cx="1624.5" cy="848.8" r="9.2"/><circle cx="1649.4" cy="857.7" r="9.2"/><circle cx="1638.7" cy="855.2" r="9.2"/><circle cx="1648.2" cy="851.3" r="9.2"/><circle cx="1634.4" cy="849.3" r="9.2"/><circle cx="1623.9" cy="863.4" r="9.2"/><circle cx="1621.5" cy="853.2" r="9.2"/><circle cx="1649.2" cy="845.6" r="9.2"/><circle cx="1635.9" cy="863.9" r="9.2"/><circle cx="1630.0" cy="861.6" r="9.2"/><circle cx="1621.0" cy="863.9" r="9.2"/><circle cx="1633.5" cy="847.6" r="9.2"/><circle cx="1636.1" cy="863.7" r="9.2"/><circle cx="1638.7" cy="861.9" r="9.2"/><circle cx="1639.3" cy="853.8" r="9.2"/><circle cx="1639.2" cy="863.0" r="9.2"/><circle cx="1648.5" cy="858.3" r="9.2"/><circle cx="1613.6" cy="845.0" r="9.2"/><circle cx="1618.0" cy="847.0" r="9.2"/><circle cx="1640.1" cy="864.4" r="9.2"/><circle cx="1641.6" cy="859.0" r="9.2"/><circle cx="1621.8" cy="859.5" r="9.2"/><circle cx="1651.0" cy="853.5" r="9.2"/><circle cx="1635.0" cy="846.8" r="9.2"/><circle cx="1626.0" cy="860.6" r="9.2"/><circle cx="1649.1" cy="846.5" r="9.2"/><circle cx="1647.8" cy="850.2" r="9.2"/><circle cx="1639.5" cy="854.1" r="9.2"/><circle cx="1635.3" cy="858.1" r="9.2"/><circle cx="1634.5" cy="852.1" r="9.2"/><circle cx="1629.4" cy="845.1" r="9.2"/><circle cx="1645.8" cy="859.5" r="9.2"/><circle cx="1648.9" cy="851.2" r="9.2"/><circle cx="1630.6" cy="848.6" r="9.2"/><circle cx="1644.6" cy="857.6" r="9.2"/><circle cx="1611.7" cy="846.2" r="9.2"/><circle cx="1616.6" cy="854.3" r="9.2"/><circle cx="1616.7" cy="856.4" r="9.2"/><circle cx="1648.2" cy="861.3" r="9.2"/><circle cx="1656.0" cy="851.2" r="9.2"/><circle cx="1659.2" cy="851.0" r="9.2"/><circle cx="1655.8" cy="850.6" r="9.2"/><circle cx="1660.6" cy="845.8" r="9.2"/><circle cx="1635.0" cy="867.9" r="9.2"/><circle cx="1623.8" cy="867.7" r="9.2"/><circle cx="1625.3" cy="873.0" r="9.2"/><circle cx="1622.6" cy="873.5" r="9.2"/><circle cx="1629.2" cy="874.2" r="9.2"/><circle cx="1622.6" cy="868.4" r="9.2"/><circle cx="1625.2" cy="873.4" r="9.2"/><circle cx="1621.3" cy="872.8" r="9.2"/><circle cx="1620.3" cy="866.1" r="9.2"/><circle cx="1640.4" cy="866.4" r="9.2"/><circle cx="1641.2" cy="866.1" r="9.2"/><circle cx="1637.4" cy="868.0" r="9.2"/>
</g>
<g fill="#aec7e8" fill-opacity="0.4">
<circle cx="1120.0" cy="1018.0" r="9.2"/>
</g>
<g fill="none" stroke="#aec7e8" stroke-opacity="0.48" stroke-width="2.2">
<circle cx="1120.0" cy="1018.0" r="8.1"/>
</g>
<g fill="#aec7e8" fill-opacity="0.45">
<circle cx="1222.9" cy="1016.4" r="9.2"/><circle cx="1140.0" cy="1003.0" r="9.2"/>
</g>
<g fill="none" stroke="#aec7e8" stroke-opacity="0.54" stroke-width="2.2">
<circle cx="1222.9" cy="1016.4" r="8.1"/><circle cx="1140.0" cy="1003.0" r="8.1"/>
</g>
<g fill="#aec7e8" fill-opacity="0.5">
<circle cx="1101.6" cy="1030.0" r="9.2"/><circle cx="1130.4" cy="1013.4" r="9.2"/><circle cx="1142.5" cy="1040.7" r="9.2"/><circle cx="1155.0" cy="1000.0" r="9.2"/><circle cx="1454.8" cy="933.0" r="9.2"/>
</g>
<g fill="none" stroke="#aec7e8" stroke-opacity="0.60" stroke-width="2.2">
<circle cx="1101.6" cy="1030.0" r="8.1"/><circle cx="1130.4" cy="1013.4" r="8.1"/><circle cx="1142.5" cy="1040.7" r="8.1"/><circle cx="1155.0" cy="1000.0" r="8.1"/><circle cx="1454.8" cy="933.0" r="8.1"/>
</g>
<g fill="#aec7e8" fill-opacity="0.55">
<circle cx="1168.3" cy="1013.4" r="9.2"/>
</g>
<g fill="none" stroke="#aec7e8" stroke-opacity="0.66" stroke-width="2.2">
<circle cx="1168.3" cy="1013.4" r="8.1"/>
</g>
<g fill="#aec7e8" fill-opacity="0.6">
<circle cx="1168.3" cy="993.7" r="9.2"/><circle cx="1182.0" cy="998.0" r="9.2"/><circle cx="1368.4" cy="961.9" r="9.2"/><circle cx="1440.0" cy="945.0" r="9.2"/>
</g>
<g fill="none" stroke="#aec7e8" stroke-opacity="0.72" stroke-width="2.2">
<circle cx="1168.3" cy="993.7" r="8.1"/><circle cx="1182.0" cy="998.0" r="8.1"/><circle cx="1368.4" cy="961.9" r="8.1"/><circle cx="1440.0" cy="945.0" r="8.1"/>
</g>
<g fill="#aec7e8" fill-opacity="0.7">
<circle cx="1195.0" cy="990.0" r="9.2"/><circle cx="1436.6" cy="936.0" r="9.2"/>
</g>
<g fill="none" stroke="#aec7e8" stroke-opacity="0.84" stroke-width="2.2">
<circle cx="1195.0" cy="990.0" r="8.1"/><circle cx="1436.6" cy="936.0" r="8.1"/>
</g>
<g fill="#ffbb78" fill-opacity="0.8">
<circle cx="1168.3" cy="1034.6" r="9.2"/>
</g>
<g fill="none" stroke="#ffbb78" stroke-opacity="0.96" stroke-width="2.2">
<circle cx="1168.3" cy="1034.6" r="8.1"/>
</g>
<g fill="#2ca02c" fill-opacity="0.25">
<circle cx="1265.3" cy="986.0" r="9.2"/><circle cx="1321.4" cy="981.0" r="9.2"/>
</g>
<g fill="none" stroke="#2ca02c" stroke-opacity="0.30" stroke-width="2.2">
<circle cx="1265.3" cy="986.0" r="8.1"/><circle cx="1321.4" cy="981.0" r="8.1"/>
</g>
<g fill="#2ca02c" fill-opacity="0.3">
<circle cx="1303.0" cy="979.0" r="9.2"/>
</g>
<g fill="none" stroke="#2ca02c" stroke-opacity="0.36" stroke-width="2.2">
<circle cx="1303.0" cy="979.0" r="8.1"/>
</g>
<g fill="#2ca02c" fill-opacity="0.4">
<circle cx="1244.0" cy="996.7" r="9.2"/><circle cx="1362.3" cy="971.0" r="9.2"/>
</g>
<g fill="none" stroke="#2ca02c" stroke-opacity="0.48" stroke-width="2.2">
<circle cx="1244.0" cy="996.7" r="8.1"/><circle cx="1362.3" cy="971.0" r="8.1"/>
</g>
<g fill="#2ca02c" fill-opacity="0.45">
<circle cx="1235.0" cy="986.0" r="9.2"/>
</g>
<g fill="none" stroke="#2ca02c" stroke-opacity="0.54" stroke-width="2.2">
<circle cx="1235.0" cy="986.0" r="8.1"/>
</g>
<g fill="#2ca02c" fill-opacity="0.5">
<circle cx="1148.6" cy="1010.4" r="9.2"/>
</g>
<g fill="none" stroke="#2ca02c" stroke-opacity="0.60" stroke-width="2.2">
<circle cx="1148.6" cy="1010.4" r="8.1"/>
</g>
<g fill="#2ca02c" fill-opacity="0.6">
<circle cx="1165.0" cy="1030.0" r="9.2"/>
</g>
<g fill="none" stroke="#2ca02c" stroke-opacity="0.72" stroke-width="2.2">
<circle cx="1165.0" cy="1030.0" r="8.1"/>
</g>
<g fill="#2ca02c" fill-opacity="0.9">
<circle cx="1061.2" cy="1486.4" r="9.2"/>
</g>
<g fill="none" stroke="#2ca02c" stroke-opacity="1.00" stroke-width="2.2">
<circle cx="1061.2" cy="1486.4" r="8.1"/>
</g>
<g fill="#2ca02c">
<circle cx="1479.0" cy="945.2" r="9.2"/>
</g>
<g fill="#bcbd22" fill-opacity="0.8">
<circle cx="1072.3" cy="1479.0" r="9.2"/>
</g>
<g fill="none" stroke="#bcbd22" stroke-opacity="0.96" stroke-width="2.2">
<circle cx="1072.3" cy="1479.0" r="8.1"/>
</g>
<rect x="203" y="24" width="1574.4" height="1579" fill="none" stroke="#000" stroke-width="2.6"/>
<line x1="556" y1="173.5" x2="581" y2="143" stroke="#e377c2" stroke-opacity="0.7" stroke-width="4" stroke-linecap="butt"/>
<line x1="675" y1="345" x2="700" y2="378" stroke="#d62728" stroke-opacity="0.7" stroke-width="4" stroke-linecap="butt"/>
<line x1="395" y1="496" x2="418" y2="526" stroke="#98df8a" stroke-opacity="0.7" stroke-width="4" stroke-linecap="butt"/>
<line x1="841" y1="531.1" x2="869.3" y2="562.2" stroke="#8c564b" stroke-opacity="0.7" stroke-width="4" stroke-linecap="butt"/>
<line x1="1143.8" y1="440.5" x2="1116.9" y2="470.3" stroke="#7f7f7f" stroke-opacity="0.7" stroke-width="4" stroke-linecap="butt"/>
<line x1="945.3" y1="717.4" x2="916.4" y2="662.8" stroke="#17becf" stroke-opacity="0.7" stroke-width="4" stroke-linecap="butt"/>
<line x1="459.1" y1="1216.4" x2="476.1" y2="1185.2" stroke="#9467bd" stroke-opacity="0.7" stroke-width="4" stroke-linecap="butt"/>
<line x1="1500" y1="926" x2="1480" y2="950" stroke="#aec7e8" stroke-opacity="0.7" stroke-width="4" stroke-linecap="butt"/>
<rect x="364.9" y="174.2" width="310.7" height="61.8" rx="9" ry="9" fill="#fff" fill-opacity="0.7" stroke="#e377c2" stroke-opacity="0.7" stroke-width="2.2"/>
<text class="lb" x="520.2" y="220.5" text-anchor="middle" fill="#e377c2" fill-opacity="0.7">Macrophages</text>
<rect x="303.6" y="296.5" width="365.1" height="62.2" rx="9" ry="9" fill="#fff" fill-opacity="0.7" stroke="#d62728" stroke-opacity="0.7" stroke-width="2.2"/>
<text class="lb" x="486.2" y="342.8" text-anchor="middle" fill="#d62728" fill-opacity="0.7">Endothelial cells</text>
<rect x="281.7" y="434.0" width="146.9" height="61.3" rx="9" ry="9" fill="#fff" fill-opacity="0.7" stroke="#98df8a" stroke-opacity="0.7" stroke-width="2.2"/>
<text class="lb" x="355.1" y="480.3" text-anchor="middle" fill="#98df8a" fill-opacity="0.7">SSCs</text>
<rect x="670.2" y="469.0" width="272.0" height="61.1" rx="9" ry="9" fill="#fff" fill-opacity="0.7" stroke="#8c564b" stroke-opacity="0.7" stroke-width="2.2"/>
<text class="lb" x="806.2" y="515.3" text-anchor="middle" fill="#8c564b" fill-opacity="0.7">Leydig cells</text>
<rect x="1053.1" y="372.8" width="258.0" height="61.1" rx="9" ry="9" fill="#fff" fill-opacity="0.7" stroke="#7f7f7f" stroke-opacity="0.7" stroke-width="2.2"/>
<text class="lb" x="1182.1" y="419.1" text-anchor="middle" fill="#7f7f7f" fill-opacity="0.7">Myoid cells</text>
<rect x="404.8" y="698.2" width="481.4" height="61.1" rx="9" ry="9" fill="#fff" fill-opacity="0.7" stroke="#1f77b4" stroke-opacity="0.7" stroke-width="2.2"/>
<text class="lb" x="645.5" y="744.5" text-anchor="middle" fill="#1f77b4" fill-opacity="0.7">Differentiating S'gonia</text>
<rect x="945.7" y="697.8" width="266.0" height="61.6" rx="9" ry="9" fill="#fff" fill-opacity="0.7" stroke="#17becf" stroke-opacity="0.7" stroke-width="2.2"/>
<text class="lb" x="1078.7" y="744.1" text-anchor="middle" fill="#17becf" fill-opacity="0.7">Sertoli cells</text>
<rect x="343.5" y="973.7" width="461.8" height="60.6" rx="9" ry="9" fill="#fff" fill-opacity="0.7" stroke="#ff7f0e" stroke-opacity="0.7" stroke-width="2.2"/>
<text class="lb" x="574.4" y="1020.0" text-anchor="middle" fill="#ff7f0e" fill-opacity="0.7">Early primary S'cytes</text>
<rect x="232.3" y="1217.4" width="447.4" height="60.8" rx="9" ry="9" fill="#fff" fill-opacity="0.7" stroke="#9467bd" stroke-opacity="0.7" stroke-width="2.2"/>
<text class="lb" x="456.0" y="1263.7" text-anchor="middle" fill="#9467bd" fill-opacity="0.7">Late primary S'cytes</text>
<rect x="858.9" y="1239.5" width="364.3" height="60.5" rx="9" ry="9" fill="#fff" fill-opacity="0.7" stroke="#2ca02c" stroke-opacity="0.7" stroke-width="2.2"/>
<text class="lb" x="1041.0" y="1285.8" text-anchor="middle" fill="#2ca02c" fill-opacity="0.7">Elongated S'tids</text>
<rect x="805.9" y="1352.0" width="290.6" height="60.8" rx="9" ry="9" fill="#fff" fill-opacity="0.7" stroke="#bcbd22" stroke-opacity="0.7" stroke-width="2.2"/>
<text class="lb" x="951.2" y="1398.3" text-anchor="middle" fill="#bcbd22" fill-opacity="0.7">Round S'tids</text>
<rect x="1444.1" y="865.2" width="165.1" height="59.9" rx="9" ry="9" fill="#fff" fill-opacity="0.7" stroke="#aec7e8" stroke-opacity="0.7" stroke-width="2.2"/>
<text class="lb" x="1526.7" y="911.5" text-anchor="middle" fill="#aec7e8" fill-opacity="0.7">Sperm</text>
<rect x="1570.0" y="635.5" width="178.3" height="60.5" rx="9" ry="9" fill="#fff" fill-opacity="0.7" stroke="#ffbb78" stroke-opacity="0.7" stroke-width="2.2"/>
<text class="lb" x="1586.0" y="681.8" fill="#ffbb78" fill-opacity="0.7">Sperm</text>
<text class="ax" x="180.5" y="57.0" text-anchor="end">20</text>
<text class="ax" x="180.5" y="458.0" text-anchor="end">10</text>
<text class="ax" x="180.5" y="859.0" text-anchor="end">0</text>
<text class="ax" x="180.5" y="1260.0" text-anchor="end">-10</text>
<text class="ax" x="508.3" y="1687" text-anchor="middle">-10</text>
<text class="ax" x="980.8" y="1687" text-anchor="middle">0</text>
<text class="ax" x="1454" y="1687" text-anchor="middle">10</text>
<text class="ax" x="990.2" y="1768" text-anchor="middle">UMAP_1</text>
<text class="ax" transform="translate(58.6,813) rotate(-90)" text-anchor="middle">UMAP_2</text>
<text class="lg" x="1845" y="207">Expression(log2(TPM+1))</text>
<circle cx="1900.2" cy="289.4" r="9.4" fill="#000" fill-opacity="0.25"/><circle cx="1900.2" cy="289.4" r="8.3" fill="none" stroke="#000" stroke-opacity="0.30" stroke-width="2.2"/>
<text class="lg" x="1977" y="313.4">5</text>
<circle cx="1900.2" cy="395.6" r="9.4" fill="#000" fill-opacity="0.5"/><circle cx="1900.2" cy="395.6" r="8.3" fill="none" stroke="#000" stroke-opacity="0.60" stroke-width="2.2"/>
<text class="lg" x="1977" y="419.6">7</text>
<circle cx="1900.2" cy="501.8" r="9.4" fill="#000" fill-opacity="0.75"/><circle cx="1900.2" cy="501.8" r="8.3" fill="none" stroke="#000" stroke-opacity="0.90" stroke-width="2.2"/>
<text class="lg" x="1977" y="525.8">9</text>
<text class="lg" x="1845" y="688.5">Cluster</text>
<circle cx="1900.2" cy="769.8" r="9.6" fill="#1f77b4"/>
<text class="lg" x="1977" y="794.2">Differentiating S'gonia</text>
<circle cx="1900.2" cy="876.0" r="9.6" fill="#ff7f0e"/>
<text class="lg" x="1977" y="900.4">Early primary S'cytes</text>
<circle cx="1900.2" cy="982.2" r="9.6" fill="#2ca02c"/>
<text class="lg" x="1977" y="1006.6">Elongated S'tids</text>
<circle cx="1900.2" cy="1088.4" r="9.6" fill="#d62728"/>
<text class="lg" x="1977" y="1112.8">Endothelial cells</text>
<circle cx="1900.2" cy="1194.6" r="9.6" fill="#9467bd"/>
<text class="lg" x="1977" y="1219.0">Late primary S'cytes</text>
<circle cx="1900.2" cy="1300.8" r="9.6" fill="#8c564b"/>
<text class="lg" x="1977" y="1325.2">Leydig cells</text>
<circle cx="1900.2" cy="1407.0" r="9.6" fill="#e377c2"/>
<text class="lg" x="1977" y="1431.4">Macrophages</text>
<circle cx="2545" cy="769.8" r="9.6" fill="#7f7f7f"/>
<text class="lg" x="2622" y="794.2">Myoid cells</text>
<circle cx="2545" cy="876.0" r="9.6" fill="#bcbd22"/>
<text class="lg" x="2622" y="900.4">Round S'tids</text>
<circle cx="2545" cy="982.2" r="9.6" fill="#17becf"/>
<text class="lg" x="2622" y="1006.6">Sertoli cells</text>
<circle cx="2545" cy="1088.4" r="9.6" fill="#aec7e8"/>
<text class="lg" x="2622" y="1112.8">Sperm</text>
<circle cx="2545" cy="1194.6" r="9.6" fill="#ffbb78"/>
<text class="lg" x="2622" y="1219.0">Sperm</text>
<circle cx="2545" cy="1300.8" r="9.6" fill="#98df8a"/>
<text class="lg" x="2622" y="1325.2">SSCs</text>
</svg></body></html>
